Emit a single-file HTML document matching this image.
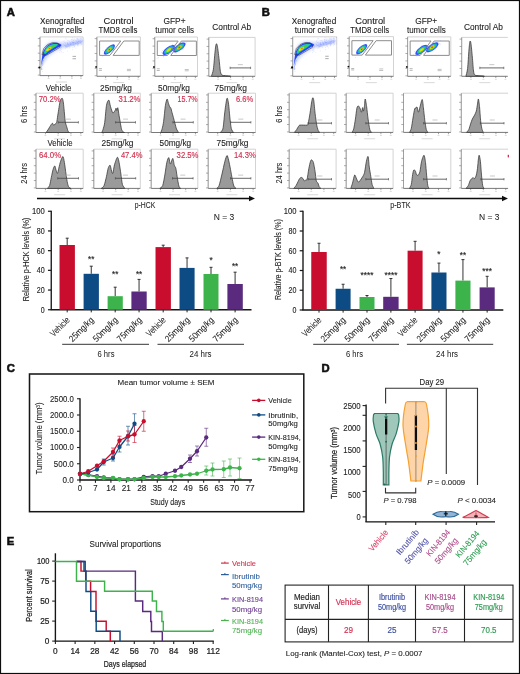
<!DOCTYPE html>
<html><head><meta charset="utf-8"><style>
html,body{margin:0;padding:0;background:#fff;}
svg{display:block;}
text{font-family:"Liberation Sans", sans-serif;}
</style></head><body>
<svg width="520" height="674" viewBox="0 0 520 674">
<defs><filter id="soft" x="0" y="0" width="100%" height="100%"><feGaussianBlur stdDeviation="0.3"/></filter></defs><g filter="url(#soft)"><rect x="0.50" y="0.50" width="519.00" height="673.00" fill="none" stroke="#111" stroke-width="1.2"/>
<text x="6.80" y="15.80" font-size="11.24" text-anchor="start" fill="#111" stroke="#111" stroke-width="0.6" font-weight="bold">A</text>
<text x="261.80" y="15.80" font-size="11.24" text-anchor="start" fill="#111" stroke="#111" stroke-width="0.6" font-weight="bold">B</text>
<text x="6.80" y="372.20" font-size="11.24" text-anchor="start" fill="#111" stroke="#111" stroke-width="0.6" font-weight="bold">C</text>
<text x="321.40" y="371.80" font-size="11.24" text-anchor="start" fill="#111" stroke="#111" stroke-width="0.6" font-weight="bold">D</text>
<text x="6.80" y="544.60" font-size="11.24" text-anchor="start" fill="#111" stroke="#111" stroke-width="0.6" font-weight="bold">E</text>
<defs>
<filter id="bl1" x="-50%" y="-50%" width="200%" height="200%"><feGaussianBlur stdDeviation="0.9"/></filter>
<filter id="bl2" x="-50%" y="-50%" width="200%" height="200%"><feGaussianBlur stdDeviation="1.6"/></filter>
<filter id="bl05" x="-50%" y="-50%" width="200%" height="200%"><feGaussianBlur stdDeviation="0.5"/></filter>
</defs>
<path d="M40.00,75.60 L40.00,36.90 L83.10,36.90 L83.10,75.60" fill="none" stroke="#c8c8c8" stroke-width="0.8"/>
<line x1="40.00" y1="75.60" x2="83.10" y2="75.60" stroke="#555" stroke-width="0.8"/>
<line x1="40.00" y1="36.90" x2="40.00" y2="75.60" stroke="#888" stroke-width="0.7"/>
<line x1="37.80" y1="75.10" x2="40.00" y2="75.10" stroke="#777" stroke-width="0.6"/>
<line x1="37.80" y1="67.80" x2="40.00" y2="67.80" stroke="#777" stroke-width="0.6"/>
<line x1="37.80" y1="60.50" x2="40.00" y2="60.50" stroke="#777" stroke-width="0.6"/>
<line x1="37.80" y1="53.19" x2="40.00" y2="53.19" stroke="#777" stroke-width="0.6"/>
<line x1="37.80" y1="45.89" x2="40.00" y2="45.89" stroke="#777" stroke-width="0.6"/>
<line x1="37.80" y1="38.59" x2="40.00" y2="38.59" stroke="#777" stroke-width="0.6"/>
<line x1="48.62" y1="75.60" x2="48.62" y2="77.40" stroke="#666" stroke-width="0.6"/>
<rect x="47.62" y="78.20" width="2.00" height="0.70" fill="#d0d0d0" stroke="none" stroke-width="1"/>
<line x1="60.26" y1="75.60" x2="60.26" y2="77.40" stroke="#666" stroke-width="0.6"/>
<rect x="59.26" y="78.20" width="2.00" height="0.70" fill="#d0d0d0" stroke="none" stroke-width="1"/>
<line x1="71.89" y1="75.60" x2="71.89" y2="77.40" stroke="#666" stroke-width="0.6"/>
<rect x="70.89" y="78.20" width="2.00" height="0.70" fill="#d0d0d0" stroke="none" stroke-width="1"/>
<line x1="80.94" y1="75.60" x2="80.94" y2="77.40" stroke="#666" stroke-width="0.6"/>
<rect x="79.94" y="78.20" width="2.00" height="0.70" fill="#d0d0d0" stroke="none" stroke-width="1"/>
<rect x="56.05" y="81.60" width="11.00" height="0.80" fill="#d0d0d0" stroke="none" stroke-width="1"/>
<circle cx="61.09" cy="49.26" r="0.4" fill="#6d86ff" opacity="0.4"/><circle cx="42.18" cy="65.82" r="0.4" fill="#6d86ff" opacity="0.4"/><circle cx="41.55" cy="66.79" r="0.4" fill="#6d86ff" opacity="0.4"/><circle cx="64.17" cy="45.74" r="0.4" fill="#6d86ff" opacity="0.4"/><circle cx="63.63" cy="44.15" r="0.4" fill="#6d86ff" opacity="0.4"/><circle cx="43.89" cy="56.25" r="0.4" fill="#6d86ff" opacity="0.4"/><circle cx="65.23" cy="48.32" r="0.4" fill="#6d86ff" opacity="0.4"/><circle cx="41.66" cy="66.77" r="0.4" fill="#6d86ff" opacity="0.4"/><circle cx="42.47" cy="62.79" r="0.4" fill="#6d86ff" opacity="0.4"/><circle cx="77.53" cy="45.09" r="0.4" fill="#6d86ff" opacity="0.4"/><circle cx="69.31" cy="45.85" r="0.4" fill="#6d86ff" opacity="0.4"/><circle cx="41.87" cy="66.80" r="0.4" fill="#6d86ff" opacity="0.4"/><circle cx="70.87" cy="44.13" r="0.4" fill="#6d86ff" opacity="0.4"/><circle cx="67.58" cy="44.59" r="0.4" fill="#6d86ff" opacity="0.4"/><circle cx="75.60" cy="40.32" r="0.4" fill="#6d86ff" opacity="0.4"/><circle cx="65.39" cy="43.21" r="0.4" fill="#6d86ff" opacity="0.4"/><circle cx="72.73" cy="49.79" r="0.4" fill="#6d86ff" opacity="0.4"/><circle cx="42.94" cy="64.43" r="0.4" fill="#6d86ff" opacity="0.4"/><circle cx="42.24" cy="61.81" r="0.4" fill="#6d86ff" opacity="0.4"/><circle cx="71.80" cy="39.87" r="0.4" fill="#6d86ff" opacity="0.4"/><circle cx="77.83" cy="45.16" r="0.4" fill="#6d86ff" opacity="0.4"/><circle cx="67.64" cy="42.50" r="0.4" fill="#6d86ff" opacity="0.4"/><circle cx="79.11" cy="40.77" r="0.4" fill="#6d86ff" opacity="0.4"/><circle cx="73.65" cy="44.78" r="0.4" fill="#6d86ff" opacity="0.4"/><circle cx="73.69" cy="43.22" r="0.4" fill="#6d86ff" opacity="0.4"/><circle cx="43.88" cy="55.70" r="0.4" fill="#6d86ff" opacity="0.4"/><circle cx="41.54" cy="68.84" r="0.4" fill="#6d86ff" opacity="0.4"/><circle cx="43.03" cy="64.27" r="0.4" fill="#6d86ff" opacity="0.4"/><circle cx="41.86" cy="64.00" r="0.4" fill="#6d86ff" opacity="0.4"/><circle cx="80.02" cy="42.88" r="0.4" fill="#6d86ff" opacity="0.4"/><circle cx="69.61" cy="41.04" r="0.4" fill="#6d86ff" opacity="0.4"/><circle cx="78.06" cy="44.22" r="0.4" fill="#6d86ff" opacity="0.4"/><circle cx="63.83" cy="41.55" r="0.4" fill="#6d86ff" opacity="0.4"/><circle cx="42.27" cy="62.50" r="0.4" fill="#6d86ff" opacity="0.4"/><circle cx="43.67" cy="57.58" r="0.4" fill="#6d86ff" opacity="0.4"/><circle cx="43.66" cy="55.91" r="0.4" fill="#6d86ff" opacity="0.4"/><circle cx="57.98" cy="43.20" r="0.4" fill="#6d86ff" opacity="0.4"/><circle cx="70.32" cy="42.70" r="0.4" fill="#6d86ff" opacity="0.4"/><circle cx="74.93" cy="45.03" r="0.4" fill="#6d86ff" opacity="0.4"/><circle cx="77.35" cy="38.99" r="0.4" fill="#6d86ff" opacity="0.4"/><circle cx="61.60" cy="46.33" r="0.4" fill="#6d86ff" opacity="0.4"/><circle cx="70.98" cy="43.90" r="0.4" fill="#6d86ff" opacity="0.4"/><circle cx="42.81" cy="59.54" r="0.4" fill="#6d86ff" opacity="0.4"/><circle cx="41.74" cy="67.10" r="0.4" fill="#6d86ff" opacity="0.4"/><circle cx="41.76" cy="64.66" r="0.4" fill="#6d86ff" opacity="0.4"/><circle cx="78.05" cy="40.51" r="0.4" fill="#6d86ff" opacity="0.4"/><circle cx="43.19" cy="57.23" r="0.4" fill="#6d86ff" opacity="0.4"/><circle cx="43.27" cy="60.78" r="0.4" fill="#6d86ff" opacity="0.4"/><circle cx="64.06" cy="45.09" r="0.4" fill="#6d86ff" opacity="0.4"/><circle cx="41.99" cy="65.11" r="0.4" fill="#6d86ff" opacity="0.4"/><circle cx="77.30" cy="42.34" r="0.4" fill="#6d86ff" opacity="0.4"/><circle cx="80.49" cy="40.56" r="0.4" fill="#6d86ff" opacity="0.4"/><circle cx="69.15" cy="44.85" r="0.4" fill="#6d86ff" opacity="0.4"/><circle cx="43.14" cy="56.42" r="0.4" fill="#6d86ff" opacity="0.4"/><circle cx="72.63" cy="41.44" r="0.4" fill="#6d86ff" opacity="0.4"/><circle cx="60.48" cy="50.83" r="0.4" fill="#6d86ff" opacity="0.4"/><circle cx="76.70" cy="40.10" r="0.4" fill="#6d86ff" opacity="0.4"/><circle cx="66.24" cy="45.03" r="0.4" fill="#6d86ff" opacity="0.4"/><circle cx="41.22" cy="69.17" r="0.4" fill="#6d86ff" opacity="0.4"/><circle cx="74.03" cy="42.27" r="0.4" fill="#6d86ff" opacity="0.4"/><circle cx="61.41" cy="47.68" r="0.4" fill="#6d86ff" opacity="0.4"/><circle cx="42.66" cy="60.75" r="0.4" fill="#6d86ff" opacity="0.4"/><circle cx="80.50" cy="38.75" r="0.4" fill="#6d86ff" opacity="0.4"/><circle cx="71.30" cy="42.33" r="0.4" fill="#6d86ff" opacity="0.4"/><circle cx="73.57" cy="40.87" r="0.4" fill="#6d86ff" opacity="0.4"/><circle cx="73.50" cy="42.77" r="0.4" fill="#6d86ff" opacity="0.4"/><circle cx="74.44" cy="46.26" r="0.4" fill="#6d86ff" opacity="0.4"/><circle cx="80.82" cy="42.25" r="0.4" fill="#6d86ff" opacity="0.4"/><circle cx="81.03" cy="39.29" r="0.4" fill="#6d86ff" opacity="0.4"/><circle cx="42.84" cy="64.89" r="0.4" fill="#6d86ff" opacity="0.4"/><circle cx="78.07" cy="45.93" r="0.4" fill="#6d86ff" opacity="0.4"/><circle cx="81.56" cy="38.55" r="0.4" fill="#6d86ff" opacity="0.4"/><circle cx="67.70" cy="44.59" r="0.4" fill="#6d86ff" opacity="0.4"/><circle cx="80.92" cy="38.08" r="0.4" fill="#6d86ff" opacity="0.4"/><circle cx="77.94" cy="43.10" r="0.4" fill="#6d86ff" opacity="0.4"/><circle cx="77.32" cy="43.81" r="0.4" fill="#6d86ff" opacity="0.4"/><circle cx="43.11" cy="55.60" r="0.4" fill="#6d86ff" opacity="0.4"/><circle cx="43.17" cy="56.33" r="0.4" fill="#6d86ff" opacity="0.4"/><circle cx="78.91" cy="43.46" r="0.4" fill="#6d86ff" opacity="0.4"/><circle cx="70.01" cy="42.43" r="0.4" fill="#6d86ff" opacity="0.4"/><circle cx="78.33" cy="41.07" r="0.4" fill="#6d86ff" opacity="0.4"/><circle cx="68.27" cy="44.81" r="0.4" fill="#6d86ff" opacity="0.4"/><circle cx="43.68" cy="60.18" r="0.4" fill="#6d86ff" opacity="0.4"/><circle cx="43.43" cy="60.97" r="0.4" fill="#6d86ff" opacity="0.4"/><circle cx="66.96" cy="46.99" r="0.4" fill="#6d86ff" opacity="0.4"/><circle cx="67.91" cy="43.01" r="0.4" fill="#6d86ff" opacity="0.4"/><circle cx="67.94" cy="46.26" r="0.4" fill="#6d86ff" opacity="0.4"/><circle cx="73.27" cy="42.19" r="0.4" fill="#6d86ff" opacity="0.4"/><circle cx="76.16" cy="40.99" r="0.4" fill="#6d86ff" opacity="0.4"/><circle cx="67.92" cy="43.61" r="0.4" fill="#6d86ff" opacity="0.4"/><circle cx="70.70" cy="43.98" r="0.4" fill="#6d86ff" opacity="0.4"/><circle cx="67.27" cy="43.43" r="0.4" fill="#6d86ff" opacity="0.4"/><circle cx="79.85" cy="40.74" r="0.4" fill="#6d86ff" opacity="0.4"/><circle cx="70.59" cy="42.44" r="0.4" fill="#6d86ff" opacity="0.4"/><circle cx="42.53" cy="63.33" r="0.4" fill="#6d86ff" opacity="0.4"/><circle cx="41.45" cy="66.42" r="0.4" fill="#6d86ff" opacity="0.4"/><circle cx="72.34" cy="37.81" r="0.4" fill="#6d86ff" opacity="0.4"/><circle cx="42.28" cy="60.23" r="0.4" fill="#6d86ff" opacity="0.4"/><circle cx="43.50" cy="60.52" r="0.4" fill="#6d86ff" opacity="0.4"/><circle cx="43.28" cy="57.89" r="0.4" fill="#6d86ff" opacity="0.4"/><circle cx="68.25" cy="44.48" r="0.4" fill="#6d86ff" opacity="0.4"/><circle cx="42.96" cy="61.79" r="0.4" fill="#6d86ff" opacity="0.4"/><circle cx="60.78" cy="48.21" r="0.4" fill="#6d86ff" opacity="0.4"/><circle cx="75.37" cy="43.19" r="0.4" fill="#6d86ff" opacity="0.4"/><circle cx="65.15" cy="45.46" r="0.4" fill="#6d86ff" opacity="0.4"/><circle cx="69.56" cy="43.55" r="0.4" fill="#6d86ff" opacity="0.4"/><circle cx="41.69" cy="64.59" r="0.4" fill="#6d86ff" opacity="0.4"/><circle cx="75.32" cy="43.65" r="0.4" fill="#6d86ff" opacity="0.4"/><circle cx="65.55" cy="42.81" r="0.4" fill="#6d86ff" opacity="0.4"/><circle cx="43.86" cy="57.92" r="0.4" fill="#6d86ff" opacity="0.4"/><circle cx="68.08" cy="43.01" r="0.4" fill="#6d86ff" opacity="0.4"/><circle cx="41.64" cy="65.86" r="0.4" fill="#6d86ff" opacity="0.4"/><circle cx="42.48" cy="65.50" r="0.4" fill="#6d86ff" opacity="0.4"/><circle cx="78.75" cy="44.67" r="0.4" fill="#6d86ff" opacity="0.4"/><circle cx="41.96" cy="65.51" r="0.4" fill="#6d86ff" opacity="0.4"/><circle cx="57.10" cy="44.12" r="0.4" fill="#6d86ff" opacity="0.4"/><circle cx="43.54" cy="56.50" r="0.4" fill="#6d86ff" opacity="0.4"/><circle cx="43.02" cy="57.56" r="0.4" fill="#6d86ff" opacity="0.4"/><circle cx="41.48" cy="68.04" r="0.4" fill="#6d86ff" opacity="0.4"/><circle cx="59.25" cy="44.21" r="0.4" fill="#6d86ff" opacity="0.4"/><circle cx="66.47" cy="46.84" r="0.4" fill="#6d86ff" opacity="0.4"/><circle cx="41.03" cy="69.11" r="0.4" fill="#6d86ff" opacity="0.4"/><circle cx="72.93" cy="42.16" r="0.4" fill="#6d86ff" opacity="0.4"/><circle cx="65.64" cy="44.41" r="0.4" fill="#6d86ff" opacity="0.4"/><circle cx="75.19" cy="43.21" r="0.4" fill="#6d86ff" opacity="0.4"/><circle cx="75.93" cy="43.74" r="0.4" fill="#6d86ff" opacity="0.4"/><circle cx="73.66" cy="42.81" r="0.4" fill="#6d86ff" opacity="0.4"/><circle cx="76.68" cy="38.28" r="0.4" fill="#6d86ff" opacity="0.4"/><circle cx="62.30" cy="46.21" r="0.4" fill="#6d86ff" opacity="0.4"/><circle cx="43.04" cy="63.68" r="0.4" fill="#6d86ff" opacity="0.4"/><circle cx="42.95" cy="56.63" r="0.4" fill="#6d86ff" opacity="0.4"/><circle cx="79.09" cy="38.95" r="0.4" fill="#6d86ff" opacity="0.4"/><circle cx="43.00" cy="55.70" r="0.4" fill="#6d86ff" opacity="0.4"/><circle cx="65.36" cy="47.39" r="0.4" fill="#6d86ff" opacity="0.4"/><circle cx="44.91" cy="55.22" r="0.4" fill="#6d86ff" opacity="0.4"/><circle cx="67.61" cy="51.03" r="0.4" fill="#6d86ff" opacity="0.4"/><circle cx="59.28" cy="46.41" r="0.4" fill="#6d86ff" opacity="0.4"/><circle cx="60.05" cy="46.19" r="0.4" fill="#6d86ff" opacity="0.4"/><circle cx="42.45" cy="59.18" r="0.4" fill="#6d86ff" opacity="0.4"/><circle cx="43.52" cy="56.35" r="0.4" fill="#6d86ff" opacity="0.4"/><circle cx="41.88" cy="67.80" r="0.4" fill="#6d86ff" opacity="0.4"/><circle cx="43.45" cy="56.85" r="0.4" fill="#6d86ff" opacity="0.4"/><circle cx="73.14" cy="39.09" r="0.4" fill="#6d86ff" opacity="0.4"/><circle cx="77.83" cy="42.91" r="0.4" fill="#6d86ff" opacity="0.4"/><circle cx="73.51" cy="44.80" r="0.4" fill="#6d86ff" opacity="0.4"/><circle cx="77.59" cy="38.29" r="0.4" fill="#6d86ff" opacity="0.4"/><circle cx="77.73" cy="44.44" r="0.4" fill="#6d86ff" opacity="0.4"/><circle cx="67.39" cy="40.60" r="0.4" fill="#6d86ff" opacity="0.4"/><circle cx="74.31" cy="39.12" r="0.4" fill="#6d86ff" opacity="0.4"/><circle cx="71.75" cy="41.36" r="0.4" fill="#6d86ff" opacity="0.4"/><circle cx="41.64" cy="68.94" r="0.4" fill="#6d86ff" opacity="0.4"/><circle cx="42.19" cy="63.21" r="0.4" fill="#6d86ff" opacity="0.4"/><circle cx="68.65" cy="40.79" r="0.4" fill="#6d86ff" opacity="0.4"/><circle cx="68.17" cy="44.87" r="0.4" fill="#6d86ff" opacity="0.4"/><circle cx="72.51" cy="42.50" r="0.4" fill="#6d86ff" opacity="0.4"/><circle cx="73.56" cy="45.03" r="0.4" fill="#6d86ff" opacity="0.4"/><circle cx="43.31" cy="56.80" r="0.4" fill="#6d86ff" opacity="0.4"/><circle cx="74.40" cy="46.82" r="0.4" fill="#6d86ff" opacity="0.4"/><circle cx="80.70" cy="40.71" r="0.4" fill="#6d86ff" opacity="0.4"/><circle cx="64.10" cy="40.81" r="0.4" fill="#6d86ff" opacity="0.4"/><circle cx="69.49" cy="42.87" r="0.4" fill="#6d86ff" opacity="0.4"/><circle cx="42.01" cy="63.69" r="0.4" fill="#6d86ff" opacity="0.4"/><circle cx="58.94" cy="46.19" r="0.4" fill="#6d86ff" opacity="0.4"/><circle cx="41.49" cy="68.15" r="0.4" fill="#6d86ff" opacity="0.4"/><circle cx="71.89" cy="41.11" r="0.4" fill="#6d86ff" opacity="0.4"/><circle cx="64.78" cy="45.19" r="0.4" fill="#6d86ff" opacity="0.4"/><circle cx="42.19" cy="63.17" r="0.4" fill="#6d86ff" opacity="0.4"/><circle cx="82.51" cy="40.40" r="0.4" fill="#6d86ff" opacity="0.4"/><circle cx="66.12" cy="38.86" r="0.4" fill="#6d86ff" opacity="0.4"/><circle cx="64.00" cy="46.89" r="0.4" fill="#6d86ff" opacity="0.4"/><circle cx="81.62" cy="44.19" r="0.4" fill="#6d86ff" opacity="0.4"/><circle cx="43.89" cy="61.97" r="0.4" fill="#6d86ff" opacity="0.4"/><circle cx="42.28" cy="61.75" r="0.4" fill="#6d86ff" opacity="0.4"/><circle cx="78.81" cy="39.56" r="0.4" fill="#6d86ff" opacity="0.4"/><circle cx="79.16" cy="41.33" r="0.4" fill="#6d86ff" opacity="0.4"/><circle cx="41.80" cy="69.77" r="0.4" fill="#6d86ff" opacity="0.4"/><circle cx="59.94" cy="48.23" r="0.4" fill="#6d86ff" opacity="0.4"/><circle cx="59.60" cy="46.13" r="0.4" fill="#6d86ff" opacity="0.4"/><circle cx="74.86" cy="41.42" r="0.4" fill="#6d86ff" opacity="0.4"/><circle cx="43.58" cy="55.16" r="0.4" fill="#6d86ff" opacity="0.4"/><circle cx="81.76" cy="39.10" r="0.4" fill="#6d86ff" opacity="0.4"/><circle cx="63.32" cy="46.11" r="0.4" fill="#6d86ff" opacity="0.4"/><circle cx="41.98" cy="63.77" r="0.4" fill="#6d86ff" opacity="0.4"/><circle cx="80.80" cy="43.00" r="0.4" fill="#6d86ff" opacity="0.4"/><circle cx="66.77" cy="46.93" r="0.4" fill="#6d86ff" opacity="0.4"/><circle cx="73.40" cy="40.37" r="0.4" fill="#6d86ff" opacity="0.4"/><circle cx="67.45" cy="43.45" r="0.4" fill="#6d86ff" opacity="0.4"/><circle cx="71.43" cy="44.01" r="0.4" fill="#6d86ff" opacity="0.4"/><circle cx="70.70" cy="44.25" r="0.4" fill="#6d86ff" opacity="0.4"/><circle cx="81.67" cy="43.14" r="0.4" fill="#6d86ff" opacity="0.4"/><circle cx="59.77" cy="50.10" r="0.4" fill="#6d86ff" opacity="0.4"/><circle cx="82.05" cy="44.39" r="0.4" fill="#6d86ff" opacity="0.4"/><circle cx="57.62" cy="45.48" r="0.4" fill="#6d86ff" opacity="0.4"/><circle cx="42.41" cy="61.56" r="0.4" fill="#6d86ff" opacity="0.4"/><circle cx="78.72" cy="41.24" r="0.4" fill="#6d86ff" opacity="0.4"/><circle cx="81.43" cy="41.14" r="0.4" fill="#6d86ff" opacity="0.4"/><circle cx="42.05" cy="62.86" r="0.4" fill="#6d86ff" opacity="0.4"/><circle cx="61.37" cy="47.08" r="0.4" fill="#6d86ff" opacity="0.4"/><circle cx="44.31" cy="55.24" r="0.4" fill="#6d86ff" opacity="0.4"/><circle cx="73.09" cy="43.95" r="0.4" fill="#6d86ff" opacity="0.4"/><circle cx="65.71" cy="46.13" r="0.4" fill="#6d86ff" opacity="0.4"/><circle cx="41.72" cy="69.17" r="0.4" fill="#6d86ff" opacity="0.4"/><circle cx="42.95" cy="63.16" r="0.4" fill="#6d86ff" opacity="0.4"/><circle cx="78.55" cy="43.60" r="0.4" fill="#6d86ff" opacity="0.4"/><circle cx="43.42" cy="57.29" r="0.4" fill="#6d86ff" opacity="0.4"/><circle cx="42.29" cy="69.05" r="0.4" fill="#6d86ff" opacity="0.4"/><circle cx="77.46" cy="41.87" r="0.4" fill="#6d86ff" opacity="0.4"/><circle cx="42.32" cy="71.33" r="0.4" fill="#6d86ff" opacity="0.4"/><circle cx="43.08" cy="57.01" r="0.4" fill="#6d86ff" opacity="0.4"/><circle cx="65.14" cy="38.85" r="0.4" fill="#6d86ff" opacity="0.4"/><circle cx="71.93" cy="39.25" r="0.4" fill="#6d86ff" opacity="0.4"/><circle cx="63.99" cy="44.82" r="0.4" fill="#6d86ff" opacity="0.4"/><circle cx="75.90" cy="48.07" r="0.4" fill="#6d86ff" opacity="0.4"/><circle cx="70.59" cy="44.72" r="0.4" fill="#6d86ff" opacity="0.4"/><circle cx="43.56" cy="55.30" r="0.4" fill="#6d86ff" opacity="0.4"/><circle cx="42.60" cy="64.44" r="0.4" fill="#6d86ff" opacity="0.4"/><circle cx="67.89" cy="45.17" r="0.4" fill="#6d86ff" opacity="0.4"/><circle cx="70.59" cy="43.96" r="0.4" fill="#6d86ff" opacity="0.4"/><circle cx="66.60" cy="44.07" r="0.4" fill="#6d86ff" opacity="0.4"/><circle cx="77.93" cy="41.69" r="0.4" fill="#6d86ff" opacity="0.4"/><circle cx="43.92" cy="56.34" r="0.4" fill="#6d86ff" opacity="0.4"/><circle cx="61.00" cy="46.75" r="0.4" fill="#6d86ff" opacity="0.4"/><circle cx="70.82" cy="44.16" r="0.4" fill="#6d86ff" opacity="0.4"/><circle cx="72.55" cy="42.41" r="0.4" fill="#6d86ff" opacity="0.4"/><circle cx="41.59" cy="68.97" r="0.4" fill="#6d86ff" opacity="0.4"/><circle cx="72.98" cy="47.52" r="0.4" fill="#6d86ff" opacity="0.4"/><circle cx="73.04" cy="42.58" r="0.4" fill="#6d86ff" opacity="0.4"/><circle cx="80.92" cy="45.12" r="0.4" fill="#6d86ff" opacity="0.4"/><circle cx="42.83" cy="59.25" r="0.4" fill="#6d86ff" opacity="0.4"/><circle cx="43.96" cy="53.82" r="0.4" fill="#6d86ff" opacity="0.4"/><circle cx="42.41" cy="60.93" r="0.4" fill="#6d86ff" opacity="0.4"/><circle cx="72.32" cy="42.81" r="0.4" fill="#6d86ff" opacity="0.4"/><circle cx="63.14" cy="52.44" r="0.4" fill="#6d86ff" opacity="0.4"/><circle cx="42.21" cy="62.44" r="0.4" fill="#6d86ff" opacity="0.4"/><circle cx="64.70" cy="42.38" r="0.4" fill="#6d86ff" opacity="0.4"/><circle cx="77.31" cy="42.60" r="0.4" fill="#6d86ff" opacity="0.4"/><circle cx="61.39" cy="51.75" r="0.4" fill="#6d86ff" opacity="0.4"/><circle cx="76.47" cy="43.34" r="0.4" fill="#6d86ff" opacity="0.4"/><circle cx="60.75" cy="47.39" r="0.4" fill="#6d86ff" opacity="0.4"/><circle cx="42.79" cy="60.89" r="0.4" fill="#6d86ff" opacity="0.4"/><circle cx="61.51" cy="45.59" r="0.4" fill="#6d86ff" opacity="0.4"/><circle cx="82.15" cy="43.06" r="0.4" fill="#6d86ff" opacity="0.4"/><circle cx="77.58" cy="39.44" r="0.4" fill="#6d86ff" opacity="0.4"/><circle cx="42.02" cy="67.43" r="0.4" fill="#6d86ff" opacity="0.4"/><circle cx="80.74" cy="43.41" r="0.4" fill="#6d86ff" opacity="0.4"/><circle cx="80.98" cy="41.79" r="0.4" fill="#6d86ff" opacity="0.4"/><circle cx="76.59" cy="41.27" r="0.4" fill="#6d86ff" opacity="0.4"/><circle cx="42.82" cy="68.90" r="0.4" fill="#6d86ff" opacity="0.4"/><circle cx="42.81" cy="54.05" r="0.4" fill="#6d86ff" opacity="0.4"/><circle cx="59.81" cy="52.54" r="0.4" fill="#6d86ff" opacity="0.4"/><circle cx="69.69" cy="47.80" r="0.4" fill="#6d86ff" opacity="0.4"/>
<g filter="url(#bl2)">
<path d="M40.80,62.90 C40.97,61.50 41.27,55.42 42.00,52.90 C42.73,50.38 44.46,46.51 46.00,44.90 C47.54,43.29 50.76,41.75 53.00,41.40 C55.24,41.05 59.34,42.47 62.00,42.40 C64.66,42.33 69.20,41.32 72.00,40.90 C74.80,40.48 80.60,39.12 82.00,39.40 C83.40,39.68 83.68,41.99 82.00,42.90 C80.32,43.81 73.08,45.06 70.00,45.90 C66.92,46.74 62.94,47.50 60.00,48.90 C57.06,50.30 51.38,53.80 49.00,55.90 C46.62,58.00 43.84,62.78 43.00,63.90 Z" fill="#8aa0ff" stroke="none" stroke-width="1" opacity="0.45"/>
</g>
<g filter="url(#bl05)">
<path d="M41.00,65.90 C41.10,65.06 41.39,61.86 41.70,59.90 C42.01,57.94 42.43,53.89 43.20,51.90 C43.97,49.91 45.83,46.96 47.20,45.70 C48.57,44.44 51.49,43.29 53.00,42.90 C54.51,42.51 56.81,42.58 58.00,42.90 C59.19,43.22 61.78,44.39 61.50,45.20 C61.22,46.01 57.82,47.55 56.00,48.70 C54.18,49.85 50.07,52.32 48.50,53.40 C46.93,54.48 45.65,55.42 44.80,56.40 C43.95,57.38 42.74,59.84 42.40,60.40 Z" fill="#2346ff" stroke="none" stroke-width="1"/>
<path d="M64.00,45.50 C64.84,45.21 68.32,43.93 70.00,43.40 C71.68,42.87 74.32,42.12 76.00,41.70 C77.68,41.28 81.16,40.30 82.00,40.40 C82.84,40.50 83.12,41.70 82.00,42.40 C80.88,43.10 76.24,44.70 74.00,45.40 C71.76,46.10 67.12,47.12 66.00,47.40 Z" fill="#7f95ff" stroke="none" stroke-width="1" opacity="0.35"/>
</g>
<g filter="url(#bl05)">
<path d="M43.80,52.90 C44.22,52.09 45.58,48.30 46.80,47.10 C48.02,45.90 50.93,44.68 52.50,44.30 C54.07,43.92 57.65,44.01 58.00,44.40 C58.35,44.79 56.40,46.08 55.00,47.10 C53.60,48.12 49.37,50.72 48.00,51.70 C46.63,52.68 45.59,53.76 45.20,54.10 Z" fill="#22c8a0" stroke="none" stroke-width="1"/>
<path d="M44.80,51.90 C45.28,51.31 47.05,48.58 48.20,47.70 C49.35,46.82 51.91,45.88 53.00,45.60 C54.09,45.32 56.14,45.35 56.00,45.70 C55.86,46.05 53.26,47.30 52.00,48.10 C50.74,48.90 47.70,50.94 47.00,51.40 Z" fill="#50d030" stroke="none" stroke-width="1"/>
<ellipse cx="48.80" cy="48.90" rx="3.2" ry="1.2" transform="rotate(-33 48.80 48.90)" fill="#f0d800"/>
<ellipse cx="49.50" cy="48.40" rx="1.3" ry="0.6" transform="rotate(-33 49.50 48.40)" fill="#f07800"/>
</g>
<path d="M42.00,54.70 L43.70,48.50 L47.50,44.60 L52.30,42.70 L57.60,43.20 L60.00,46.10 L59.60,47.50 L46.60,55.20 Z" fill="none" stroke="#333" stroke-width="0.6" stroke-linejoin="round"/>
<rect x="72.50" y="55.90" width="3.50" height="0.80" fill="#999" stroke="none" stroke-width="1"/>
<rect x="72.50" y="58.40" width="3.50" height="0.80" fill="#999" stroke="none" stroke-width="1"/>
<circle cx="39.40" cy="67.50" r="1.1" fill="#111"/>
<path d="M96.90,76.25 L96.90,36.90 L140.40,36.90 L140.40,76.25" fill="none" stroke="#c8c8c8" stroke-width="0.8"/>
<line x1="96.90" y1="76.25" x2="140.40" y2="76.25" stroke="#555" stroke-width="0.8"/>
<line x1="96.90" y1="36.90" x2="96.90" y2="76.25" stroke="#888" stroke-width="0.7"/>
<line x1="94.70" y1="75.75" x2="96.90" y2="75.75" stroke="#777" stroke-width="0.6"/>
<line x1="94.70" y1="68.33" x2="96.90" y2="68.33" stroke="#777" stroke-width="0.6"/>
<line x1="94.70" y1="60.90" x2="96.90" y2="60.90" stroke="#777" stroke-width="0.6"/>
<line x1="94.70" y1="53.48" x2="96.90" y2="53.48" stroke="#777" stroke-width="0.6"/>
<line x1="94.70" y1="46.05" x2="96.90" y2="46.05" stroke="#777" stroke-width="0.6"/>
<line x1="94.70" y1="38.63" x2="96.90" y2="38.63" stroke="#777" stroke-width="0.6"/>
<line x1="105.60" y1="76.25" x2="105.60" y2="78.05" stroke="#666" stroke-width="0.6"/>
<rect x="104.60" y="78.85" width="2.00" height="0.70" fill="#d0d0d0" stroke="none" stroke-width="1"/>
<line x1="117.34" y1="76.25" x2="117.34" y2="78.05" stroke="#666" stroke-width="0.6"/>
<rect x="116.34" y="78.85" width="2.00" height="0.70" fill="#d0d0d0" stroke="none" stroke-width="1"/>
<line x1="129.09" y1="76.25" x2="129.09" y2="78.05" stroke="#666" stroke-width="0.6"/>
<rect x="128.09" y="78.85" width="2.00" height="0.70" fill="#d0d0d0" stroke="none" stroke-width="1"/>
<line x1="138.22" y1="76.25" x2="138.22" y2="78.05" stroke="#666" stroke-width="0.6"/>
<rect x="137.22" y="78.85" width="2.00" height="0.70" fill="#d0d0d0" stroke="none" stroke-width="1"/>
<rect x="113.15" y="82.25" width="11.00" height="0.80" fill="#d0d0d0" stroke="none" stroke-width="1"/>
<circle cx="104.88" cy="52.78" r="0.4" fill="#4060ff" opacity="0.45"/><circle cx="107.99" cy="52.50" r="0.4" fill="#4060ff" opacity="0.45"/><circle cx="111.22" cy="46.98" r="0.4" fill="#4060ff" opacity="0.45"/><circle cx="106.52" cy="54.34" r="0.4" fill="#4060ff" opacity="0.45"/><circle cx="112.67" cy="46.21" r="0.4" fill="#4060ff" opacity="0.45"/><circle cx="109.70" cy="51.62" r="0.4" fill="#4060ff" opacity="0.45"/><circle cx="107.67" cy="51.22" r="0.4" fill="#4060ff" opacity="0.45"/><circle cx="108.21" cy="48.80" r="0.4" fill="#4060ff" opacity="0.45"/><circle cx="111.98" cy="48.28" r="0.4" fill="#4060ff" opacity="0.45"/><circle cx="114.64" cy="48.89" r="0.4" fill="#4060ff" opacity="0.45"/><circle cx="105.54" cy="50.51" r="0.4" fill="#4060ff" opacity="0.45"/><circle cx="109.39" cy="48.81" r="0.4" fill="#4060ff" opacity="0.45"/><circle cx="109.36" cy="50.73" r="0.4" fill="#4060ff" opacity="0.45"/><circle cx="110.09" cy="49.10" r="0.4" fill="#4060ff" opacity="0.45"/><circle cx="104.16" cy="53.55" r="0.4" fill="#4060ff" opacity="0.45"/><circle cx="107.32" cy="51.44" r="0.4" fill="#4060ff" opacity="0.45"/><circle cx="107.92" cy="51.94" r="0.4" fill="#4060ff" opacity="0.45"/><circle cx="105.97" cy="53.29" r="0.4" fill="#4060ff" opacity="0.45"/><circle cx="108.26" cy="52.10" r="0.4" fill="#4060ff" opacity="0.45"/><circle cx="112.32" cy="45.94" r="0.4" fill="#4060ff" opacity="0.45"/><circle cx="107.33" cy="49.10" r="0.4" fill="#4060ff" opacity="0.45"/><circle cx="107.79" cy="50.09" r="0.4" fill="#4060ff" opacity="0.45"/><circle cx="110.72" cy="47.23" r="0.4" fill="#4060ff" opacity="0.45"/><circle cx="103.90" cy="55.14" r="0.4" fill="#4060ff" opacity="0.45"/><circle cx="109.29" cy="47.96" r="0.4" fill="#4060ff" opacity="0.45"/><circle cx="108.40" cy="46.84" r="0.4" fill="#4060ff" opacity="0.45"/><circle cx="107.25" cy="49.84" r="0.4" fill="#4060ff" opacity="0.45"/><circle cx="109.63" cy="49.91" r="0.4" fill="#4060ff" opacity="0.45"/><circle cx="113.52" cy="49.45" r="0.4" fill="#4060ff" opacity="0.45"/><circle cx="108.85" cy="47.35" r="0.4" fill="#4060ff" opacity="0.45"/><circle cx="107.64" cy="48.61" r="0.4" fill="#4060ff" opacity="0.45"/><circle cx="112.79" cy="47.92" r="0.4" fill="#4060ff" opacity="0.45"/><circle cx="112.47" cy="49.45" r="0.4" fill="#4060ff" opacity="0.45"/><circle cx="112.89" cy="48.25" r="0.4" fill="#4060ff" opacity="0.45"/><circle cx="112.87" cy="48.21" r="0.4" fill="#4060ff" opacity="0.45"/><circle cx="104.43" cy="53.79" r="0.4" fill="#4060ff" opacity="0.45"/><circle cx="111.70" cy="48.14" r="0.4" fill="#4060ff" opacity="0.45"/><circle cx="107.87" cy="50.84" r="0.4" fill="#4060ff" opacity="0.45"/><circle cx="107.00" cy="47.37" r="0.4" fill="#4060ff" opacity="0.45"/><circle cx="103.08" cy="50.32" r="0.4" fill="#4060ff" opacity="0.45"/><circle cx="108.39" cy="49.27" r="0.4" fill="#4060ff" opacity="0.45"/><circle cx="111.41" cy="46.33" r="0.4" fill="#4060ff" opacity="0.45"/><circle cx="102.68" cy="56.05" r="0.4" fill="#4060ff" opacity="0.45"/><circle cx="106.86" cy="53.67" r="0.4" fill="#4060ff" opacity="0.45"/><circle cx="112.12" cy="47.97" r="0.4" fill="#4060ff" opacity="0.45"/><circle cx="113.62" cy="45.12" r="0.4" fill="#4060ff" opacity="0.45"/><circle cx="105.46" cy="52.52" r="0.4" fill="#4060ff" opacity="0.45"/><circle cx="105.51" cy="49.68" r="0.4" fill="#4060ff" opacity="0.45"/><circle cx="111.29" cy="46.73" r="0.4" fill="#4060ff" opacity="0.45"/><circle cx="105.73" cy="51.29" r="0.4" fill="#4060ff" opacity="0.45"/>
<g filter="url(#bl05)">
<ellipse cx="109.40" cy="49.50" rx="7.03" ry="2.85" transform="rotate(-42 109.40 49.50)" fill="#3050ff"/>
<ellipse cx="109.40" cy="49.50" rx="5.32" ry="2.18" transform="rotate(-42 109.40 49.50)" fill="#20a8f0"/>
<ellipse cx="109.40" cy="49.50" rx="4.08" ry="1.71" transform="rotate(-42 109.40 49.50)" fill="#30d060"/>
<ellipse cx="109.40" cy="49.50" rx="2.66" ry="1.14" transform="rotate(-42 109.40 49.50)" fill="#d8e000"/>
<ellipse cx="109.40" cy="49.50" rx="1.33" ry="0.66" transform="rotate(-42 109.40 49.50)" fill="#f05000"/>
</g>
<path d="M99.60,41.00 L120.80,41.00 L109.90,55.40 L99.60,55.40 Z" fill="none" stroke="#808080" stroke-width="0.9"/>
<path d="M123.80,41.00 L139.20,41.00 L139.20,55.40 L113.10,55.40 Z" fill="none" stroke="#808080" stroke-width="0.9"/>
<rect x="98.90" y="68.40" width="3.00" height="0.70" fill="#999" stroke="none" stroke-width="1"/>
<rect x="98.90" y="69.90" width="3.00" height="0.70" fill="#999" stroke="none" stroke-width="1"/>
<rect x="126.90" y="68.90" width="4.00" height="0.70" fill="#aaa" stroke="none" stroke-width="1"/>
<rect x="126.90" y="70.40" width="4.00" height="0.70" fill="#aaa" stroke="none" stroke-width="1"/>
<circle cx="96.10" cy="66.90" r="0.9" fill="#111"/>
<path d="M154.75,76.25 L154.75,37.00 L197.50,37.00 L197.50,76.25" fill="none" stroke="#c8c8c8" stroke-width="0.8"/>
<line x1="154.75" y1="76.25" x2="197.50" y2="76.25" stroke="#555" stroke-width="0.8"/>
<line x1="154.75" y1="37.00" x2="154.75" y2="76.25" stroke="#888" stroke-width="0.7"/>
<line x1="152.55" y1="75.75" x2="154.75" y2="75.75" stroke="#777" stroke-width="0.6"/>
<line x1="152.55" y1="68.34" x2="154.75" y2="68.34" stroke="#777" stroke-width="0.6"/>
<line x1="152.55" y1="60.94" x2="154.75" y2="60.94" stroke="#777" stroke-width="0.6"/>
<line x1="152.55" y1="53.53" x2="154.75" y2="53.53" stroke="#777" stroke-width="0.6"/>
<line x1="152.55" y1="46.13" x2="154.75" y2="46.13" stroke="#777" stroke-width="0.6"/>
<line x1="152.55" y1="38.72" x2="154.75" y2="38.72" stroke="#777" stroke-width="0.6"/>
<line x1="163.30" y1="76.25" x2="163.30" y2="78.05" stroke="#666" stroke-width="0.6"/>
<rect x="162.30" y="78.85" width="2.00" height="0.70" fill="#d0d0d0" stroke="none" stroke-width="1"/>
<line x1="174.84" y1="76.25" x2="174.84" y2="78.05" stroke="#666" stroke-width="0.6"/>
<rect x="173.84" y="78.85" width="2.00" height="0.70" fill="#d0d0d0" stroke="none" stroke-width="1"/>
<line x1="186.38" y1="76.25" x2="186.38" y2="78.05" stroke="#666" stroke-width="0.6"/>
<rect x="185.38" y="78.85" width="2.00" height="0.70" fill="#d0d0d0" stroke="none" stroke-width="1"/>
<line x1="195.36" y1="76.25" x2="195.36" y2="78.05" stroke="#666" stroke-width="0.6"/>
<rect x="194.36" y="78.85" width="2.00" height="0.70" fill="#d0d0d0" stroke="none" stroke-width="1"/>
<rect x="170.62" y="82.25" width="11.00" height="0.80" fill="#d0d0d0" stroke="none" stroke-width="1"/>
<circle cx="167.69" cy="50.11" r="0.4" fill="#4060ff" opacity="0.45"/><circle cx="166.95" cy="52.58" r="0.4" fill="#4060ff" opacity="0.45"/><circle cx="171.78" cy="50.58" r="0.4" fill="#4060ff" opacity="0.45"/><circle cx="172.66" cy="44.76" r="0.4" fill="#4060ff" opacity="0.45"/><circle cx="175.89" cy="45.57" r="0.4" fill="#4060ff" opacity="0.45"/><circle cx="169.81" cy="52.40" r="0.4" fill="#4060ff" opacity="0.45"/><circle cx="167.22" cy="48.88" r="0.4" fill="#4060ff" opacity="0.45"/><circle cx="165.15" cy="50.08" r="0.4" fill="#4060ff" opacity="0.45"/><circle cx="157.22" cy="58.03" r="0.4" fill="#4060ff" opacity="0.45"/><circle cx="170.60" cy="49.48" r="0.4" fill="#4060ff" opacity="0.45"/><circle cx="162.64" cy="50.20" r="0.4" fill="#4060ff" opacity="0.45"/><circle cx="167.67" cy="51.85" r="0.4" fill="#4060ff" opacity="0.45"/><circle cx="168.39" cy="51.67" r="0.4" fill="#4060ff" opacity="0.45"/><circle cx="168.34" cy="48.87" r="0.4" fill="#4060ff" opacity="0.45"/><circle cx="169.38" cy="49.90" r="0.4" fill="#4060ff" opacity="0.45"/><circle cx="166.09" cy="51.38" r="0.4" fill="#4060ff" opacity="0.45"/><circle cx="163.54" cy="56.76" r="0.4" fill="#4060ff" opacity="0.45"/><circle cx="170.09" cy="49.65" r="0.4" fill="#4060ff" opacity="0.45"/><circle cx="172.16" cy="46.74" r="0.4" fill="#4060ff" opacity="0.45"/><circle cx="158.60" cy="57.83" r="0.4" fill="#4060ff" opacity="0.45"/><circle cx="165.63" cy="50.16" r="0.4" fill="#4060ff" opacity="0.45"/><circle cx="168.67" cy="48.65" r="0.4" fill="#4060ff" opacity="0.45"/><circle cx="165.14" cy="50.20" r="0.4" fill="#4060ff" opacity="0.45"/><circle cx="167.68" cy="50.72" r="0.4" fill="#4060ff" opacity="0.45"/><circle cx="173.38" cy="46.71" r="0.4" fill="#4060ff" opacity="0.45"/><circle cx="166.93" cy="48.68" r="0.4" fill="#4060ff" opacity="0.45"/><circle cx="168.88" cy="48.05" r="0.4" fill="#4060ff" opacity="0.45"/><circle cx="171.17" cy="50.49" r="0.4" fill="#4060ff" opacity="0.45"/><circle cx="169.71" cy="49.91" r="0.4" fill="#4060ff" opacity="0.45"/><circle cx="171.56" cy="48.63" r="0.4" fill="#4060ff" opacity="0.45"/><circle cx="165.67" cy="51.18" r="0.4" fill="#4060ff" opacity="0.45"/><circle cx="161.73" cy="52.19" r="0.4" fill="#4060ff" opacity="0.45"/><circle cx="170.70" cy="47.38" r="0.4" fill="#4060ff" opacity="0.45"/><circle cx="169.80" cy="49.58" r="0.4" fill="#4060ff" opacity="0.45"/><circle cx="172.22" cy="49.30" r="0.4" fill="#4060ff" opacity="0.45"/><circle cx="163.90" cy="52.03" r="0.4" fill="#4060ff" opacity="0.45"/><circle cx="168.90" cy="47.79" r="0.4" fill="#4060ff" opacity="0.45"/><circle cx="168.35" cy="48.40" r="0.4" fill="#4060ff" opacity="0.45"/><circle cx="174.20" cy="45.25" r="0.4" fill="#4060ff" opacity="0.45"/><circle cx="168.14" cy="49.02" r="0.4" fill="#4060ff" opacity="0.45"/><circle cx="169.85" cy="50.33" r="0.4" fill="#4060ff" opacity="0.45"/><circle cx="169.65" cy="46.93" r="0.4" fill="#4060ff" opacity="0.45"/><circle cx="171.07" cy="46.57" r="0.4" fill="#4060ff" opacity="0.45"/><circle cx="174.54" cy="44.98" r="0.4" fill="#4060ff" opacity="0.45"/><circle cx="173.00" cy="50.62" r="0.4" fill="#4060ff" opacity="0.45"/><circle cx="169.11" cy="49.10" r="0.4" fill="#4060ff" opacity="0.45"/><circle cx="169.80" cy="50.40" r="0.4" fill="#4060ff" opacity="0.45"/><circle cx="172.05" cy="46.22" r="0.4" fill="#4060ff" opacity="0.45"/><circle cx="167.87" cy="48.99" r="0.4" fill="#4060ff" opacity="0.45"/><circle cx="171.36" cy="51.41" r="0.4" fill="#4060ff" opacity="0.45"/>
<g filter="url(#bl05)">
<ellipse cx="168.75" cy="50.00" rx="7.40" ry="3.00" transform="rotate(-36 168.75 50.00)" fill="#3050ff"/>
<ellipse cx="168.75" cy="50.00" rx="5.60" ry="2.30" transform="rotate(-36 168.75 50.00)" fill="#20a8f0"/>
<ellipse cx="168.75" cy="50.00" rx="4.30" ry="1.80" transform="rotate(-36 168.75 50.00)" fill="#30d060"/>
<ellipse cx="168.75" cy="50.00" rx="2.80" ry="1.20" transform="rotate(-36 168.75 50.00)" fill="#d8e000"/>
<ellipse cx="168.75" cy="50.00" rx="1.40" ry="0.70" transform="rotate(-36 168.75 50.00)" fill="#e8e000"/>
</g>
<circle cx="179.05" cy="48.94" r="0.4" fill="#4060ff" opacity="0.45"/><circle cx="179.01" cy="43.41" r="0.4" fill="#4060ff" opacity="0.45"/><circle cx="179.71" cy="46.80" r="0.4" fill="#4060ff" opacity="0.45"/><circle cx="179.79" cy="48.42" r="0.4" fill="#4060ff" opacity="0.45"/><circle cx="175.70" cy="50.09" r="0.4" fill="#4060ff" opacity="0.45"/><circle cx="182.19" cy="49.66" r="0.4" fill="#4060ff" opacity="0.45"/><circle cx="177.97" cy="49.96" r="0.4" fill="#4060ff" opacity="0.45"/><circle cx="184.06" cy="43.43" r="0.4" fill="#4060ff" opacity="0.45"/><circle cx="181.77" cy="42.84" r="0.4" fill="#4060ff" opacity="0.45"/><circle cx="182.68" cy="46.44" r="0.4" fill="#4060ff" opacity="0.45"/><circle cx="178.57" cy="45.94" r="0.4" fill="#4060ff" opacity="0.45"/><circle cx="179.28" cy="44.65" r="0.4" fill="#4060ff" opacity="0.45"/><circle cx="170.56" cy="53.04" r="0.4" fill="#4060ff" opacity="0.45"/><circle cx="177.73" cy="47.10" r="0.4" fill="#4060ff" opacity="0.45"/><circle cx="177.65" cy="49.81" r="0.4" fill="#4060ff" opacity="0.45"/><circle cx="179.94" cy="47.92" r="0.4" fill="#4060ff" opacity="0.45"/><circle cx="183.15" cy="48.75" r="0.4" fill="#4060ff" opacity="0.45"/><circle cx="182.75" cy="48.77" r="0.4" fill="#4060ff" opacity="0.45"/><circle cx="182.63" cy="43.75" r="0.4" fill="#4060ff" opacity="0.45"/><circle cx="180.63" cy="44.06" r="0.4" fill="#4060ff" opacity="0.45"/><circle cx="179.38" cy="48.10" r="0.4" fill="#4060ff" opacity="0.45"/><circle cx="175.85" cy="51.65" r="0.4" fill="#4060ff" opacity="0.45"/><circle cx="174.33" cy="47.69" r="0.4" fill="#4060ff" opacity="0.45"/><circle cx="181.63" cy="46.77" r="0.4" fill="#4060ff" opacity="0.45"/><circle cx="179.44" cy="49.22" r="0.4" fill="#4060ff" opacity="0.45"/><circle cx="182.13" cy="46.64" r="0.4" fill="#4060ff" opacity="0.45"/><circle cx="181.51" cy="46.62" r="0.4" fill="#4060ff" opacity="0.45"/><circle cx="180.21" cy="46.01" r="0.4" fill="#4060ff" opacity="0.45"/><circle cx="178.43" cy="46.98" r="0.4" fill="#4060ff" opacity="0.45"/><circle cx="180.30" cy="47.51" r="0.4" fill="#4060ff" opacity="0.45"/><circle cx="178.62" cy="47.20" r="0.4" fill="#4060ff" opacity="0.45"/><circle cx="176.79" cy="46.00" r="0.4" fill="#4060ff" opacity="0.45"/><circle cx="179.74" cy="48.78" r="0.4" fill="#4060ff" opacity="0.45"/><circle cx="180.86" cy="47.00" r="0.4" fill="#4060ff" opacity="0.45"/><circle cx="176.19" cy="53.08" r="0.4" fill="#4060ff" opacity="0.45"/><circle cx="179.50" cy="47.86" r="0.4" fill="#4060ff" opacity="0.45"/><circle cx="175.89" cy="49.67" r="0.4" fill="#4060ff" opacity="0.45"/><circle cx="186.12" cy="42.72" r="0.4" fill="#4060ff" opacity="0.45"/><circle cx="181.93" cy="44.47" r="0.4" fill="#4060ff" opacity="0.45"/><circle cx="175.33" cy="48.44" r="0.4" fill="#4060ff" opacity="0.45"/><circle cx="176.97" cy="46.82" r="0.4" fill="#4060ff" opacity="0.45"/><circle cx="181.61" cy="48.08" r="0.4" fill="#4060ff" opacity="0.45"/><circle cx="177.17" cy="47.09" r="0.4" fill="#4060ff" opacity="0.45"/><circle cx="179.83" cy="46.77" r="0.4" fill="#4060ff" opacity="0.45"/><circle cx="178.20" cy="47.41" r="0.4" fill="#4060ff" opacity="0.45"/><circle cx="171.32" cy="49.31" r="0.4" fill="#4060ff" opacity="0.45"/><circle cx="175.73" cy="50.69" r="0.4" fill="#4060ff" opacity="0.45"/><circle cx="179.02" cy="44.23" r="0.4" fill="#4060ff" opacity="0.45"/><circle cx="172.68" cy="50.43" r="0.4" fill="#4060ff" opacity="0.45"/><circle cx="182.21" cy="47.29" r="0.4" fill="#4060ff" opacity="0.45"/>
<g filter="url(#bl05)">
<ellipse cx="179.40" cy="47.40" rx="7.40" ry="3.00" transform="rotate(-36 179.40 47.40)" fill="#3050ff"/>
<ellipse cx="179.40" cy="47.40" rx="5.60" ry="2.30" transform="rotate(-36 179.40 47.40)" fill="#20a8f0"/>
<ellipse cx="179.40" cy="47.40" rx="4.30" ry="1.80" transform="rotate(-36 179.40 47.40)" fill="#30d060"/>
<ellipse cx="179.40" cy="47.40" rx="2.80" ry="1.20" transform="rotate(-36 179.40 47.40)" fill="#d8e000"/>
<ellipse cx="179.40" cy="47.40" rx="1.40" ry="0.70" transform="rotate(-36 179.40 47.40)" fill="#f05000"/>
</g>
<path d="M157.30,41.10 L178.20,41.10 L167.40,55.50 L157.30,55.50 Z" fill="none" stroke="#808080" stroke-width="0.9"/>
<path d="M181.30,41.10 L196.40,41.10 L196.40,55.50 L170.75,55.50 Z" fill="none" stroke="#808080" stroke-width="0.9"/>
<rect x="156.75" y="68.50" width="3.00" height="0.70" fill="#999" stroke="none" stroke-width="1"/>
<rect x="156.75" y="70.00" width="3.00" height="0.70" fill="#999" stroke="none" stroke-width="1"/>
<rect x="184.75" y="69.00" width="4.00" height="0.70" fill="#aaa" stroke="none" stroke-width="1"/>
<rect x="184.75" y="70.50" width="4.00" height="0.70" fill="#aaa" stroke="none" stroke-width="1"/>
<circle cx="153.95" cy="67.00" r="0.9" fill="#111"/>
<path d="M208.80,76.30 L208.80,37.40 L255.10,37.40 L255.10,76.30" fill="none" stroke="#c8c8c8" stroke-width="0.8"/>
<line x1="208.80" y1="76.30" x2="255.10" y2="76.30" stroke="#555" stroke-width="0.8"/>
<line x1="208.80" y1="37.40" x2="208.80" y2="76.30" stroke="#888" stroke-width="0.7"/>
<line x1="206.60" y1="75.80" x2="208.80" y2="75.80" stroke="#777" stroke-width="0.6"/>
<line x1="206.60" y1="68.46" x2="208.80" y2="68.46" stroke="#777" stroke-width="0.6"/>
<line x1="206.60" y1="61.12" x2="208.80" y2="61.12" stroke="#777" stroke-width="0.6"/>
<line x1="206.60" y1="53.78" x2="208.80" y2="53.78" stroke="#777" stroke-width="0.6"/>
<line x1="206.60" y1="46.44" x2="208.80" y2="46.44" stroke="#777" stroke-width="0.6"/>
<line x1="206.60" y1="39.10" x2="208.80" y2="39.10" stroke="#777" stroke-width="0.6"/>
<line x1="218.06" y1="76.30" x2="218.06" y2="78.10" stroke="#666" stroke-width="0.6"/>
<rect x="217.06" y="78.90" width="2.00" height="0.70" fill="#d0d0d0" stroke="none" stroke-width="1"/>
<line x1="230.56" y1="76.30" x2="230.56" y2="78.10" stroke="#666" stroke-width="0.6"/>
<rect x="229.56" y="78.90" width="2.00" height="0.70" fill="#d0d0d0" stroke="none" stroke-width="1"/>
<line x1="243.06" y1="76.30" x2="243.06" y2="78.10" stroke="#666" stroke-width="0.6"/>
<rect x="242.06" y="78.90" width="2.00" height="0.70" fill="#d0d0d0" stroke="none" stroke-width="1"/>
<line x1="252.78" y1="76.30" x2="252.78" y2="78.10" stroke="#666" stroke-width="0.6"/>
<rect x="251.78" y="78.90" width="2.00" height="0.70" fill="#d0d0d0" stroke="none" stroke-width="1"/>
<rect x="226.45" y="82.30" width="11.00" height="0.80" fill="#d0d0d0" stroke="none" stroke-width="1"/>
<path d="M211.40,76.30 C211.68,75.31 212.90,72.59 213.40,69.19 C213.90,65.80 214.61,55.60 215.00,52.08 C215.39,48.55 215.86,44.81 216.20,44.00 C216.54,43.19 217.01,44.23 217.40,46.26 C217.79,48.30 218.58,55.01 219.00,58.53 C219.42,62.06 219.97,69.14 220.40,71.45 C220.83,73.77 221.37,74.51 222.10,75.10 C222.83,75.69 224.41,75.56 225.60,75.70 C226.79,75.84 229.90,76.04 230.60,76.10 L230.60,76.30 L211.40,76.30 Z" fill="#9a9a9a" stroke="#333" stroke-width="0.75"/>
<line x1="230.10" y1="67.90" x2="250.60" y2="67.90" stroke="#444" stroke-width="0.8"/>
<line x1="230.10" y1="66.70" x2="230.10" y2="69.10" stroke="#444" stroke-width="0.6"/>
<line x1="250.60" y1="66.70" x2="250.60" y2="69.10" stroke="#444" stroke-width="0.6"/>
<rect x="237.85" y="64.30" width="5.00" height="0.80" fill="#bbb" stroke="none" stroke-width="1"/>
<text x="40.00" y="23.75" font-size="9.00" text-anchor="start" fill="#222" stroke="#222" stroke-width="0.1" textLength="44.50" lengthAdjust="spacingAndGlyphs">Xenografted</text>
<text x="43.00" y="33.00" font-size="9.00" text-anchor="start" fill="#222" stroke="#222" stroke-width="0.1" textLength="39.00" lengthAdjust="spacingAndGlyphs">tumor cells</text>
<text x="118.50" y="24.00" font-size="9.00" text-anchor="middle" fill="#222" stroke="#222" stroke-width="0.1" textLength="30.00" lengthAdjust="spacingAndGlyphs">Control</text>
<text x="98.50" y="33.00" font-size="9.00" text-anchor="start" fill="#222" stroke="#222" stroke-width="0.1" textLength="39.00" lengthAdjust="spacingAndGlyphs">TMD8 cells</text>
<text x="174.50" y="24.00" font-size="9.00" text-anchor="middle" fill="#222" stroke="#222" stroke-width="0.1" textLength="22.00" lengthAdjust="spacingAndGlyphs">GFP+</text>
<text x="155.25" y="33.00" font-size="9.00" text-anchor="start" fill="#222" stroke="#222" stroke-width="0.1" textLength="38.75" lengthAdjust="spacingAndGlyphs">tumor cells</text>
<text x="212.25" y="30.40" font-size="9.00" text-anchor="start" fill="#222" stroke="#222" stroke-width="0.1" textLength="39.00" lengthAdjust="spacingAndGlyphs">Control Ab</text>
<path d="M36.00,132.50 L36.00,93.20 L83.20,93.20 L83.20,132.50" fill="none" stroke="#c8c8c8" stroke-width="0.8"/>
<line x1="36.00" y1="132.50" x2="83.20" y2="132.50" stroke="#555" stroke-width="0.8"/>
<line x1="36.00" y1="93.20" x2="36.00" y2="132.50" stroke="#888" stroke-width="0.7"/>
<line x1="33.80" y1="132.00" x2="36.00" y2="132.00" stroke="#777" stroke-width="0.6"/>
<line x1="33.80" y1="124.58" x2="36.00" y2="124.58" stroke="#777" stroke-width="0.6"/>
<line x1="33.80" y1="117.17" x2="36.00" y2="117.17" stroke="#777" stroke-width="0.6"/>
<line x1="33.80" y1="109.75" x2="36.00" y2="109.75" stroke="#777" stroke-width="0.6"/>
<line x1="33.80" y1="102.34" x2="36.00" y2="102.34" stroke="#777" stroke-width="0.6"/>
<line x1="33.80" y1="94.92" x2="36.00" y2="94.92" stroke="#777" stroke-width="0.6"/>
<line x1="45.44" y1="132.50" x2="45.44" y2="134.30" stroke="#666" stroke-width="0.6"/>
<rect x="44.44" y="135.10" width="2.00" height="0.70" fill="#d0d0d0" stroke="none" stroke-width="1"/>
<line x1="58.18" y1="132.50" x2="58.18" y2="134.30" stroke="#666" stroke-width="0.6"/>
<rect x="57.18" y="135.10" width="2.00" height="0.70" fill="#d0d0d0" stroke="none" stroke-width="1"/>
<line x1="70.93" y1="132.50" x2="70.93" y2="134.30" stroke="#666" stroke-width="0.6"/>
<rect x="69.93" y="135.10" width="2.00" height="0.70" fill="#d0d0d0" stroke="none" stroke-width="1"/>
<line x1="80.84" y1="132.50" x2="80.84" y2="134.30" stroke="#666" stroke-width="0.6"/>
<rect x="79.84" y="135.10" width="2.00" height="0.70" fill="#d0d0d0" stroke="none" stroke-width="1"/>
<rect x="54.10" y="138.50" width="11.00" height="0.80" fill="#d0d0d0" stroke="none" stroke-width="1"/>
<path d="M36.00,188.40 L36.00,149.20 L83.20,149.20 L83.20,188.40" fill="none" stroke="#c8c8c8" stroke-width="0.8"/>
<line x1="36.00" y1="188.40" x2="83.20" y2="188.40" stroke="#555" stroke-width="0.8"/>
<line x1="36.00" y1="149.20" x2="36.00" y2="188.40" stroke="#888" stroke-width="0.7"/>
<line x1="33.80" y1="187.90" x2="36.00" y2="187.90" stroke="#777" stroke-width="0.6"/>
<line x1="33.80" y1="180.50" x2="36.00" y2="180.50" stroke="#777" stroke-width="0.6"/>
<line x1="33.80" y1="173.11" x2="36.00" y2="173.11" stroke="#777" stroke-width="0.6"/>
<line x1="33.80" y1="165.71" x2="36.00" y2="165.71" stroke="#777" stroke-width="0.6"/>
<line x1="33.80" y1="158.32" x2="36.00" y2="158.32" stroke="#777" stroke-width="0.6"/>
<line x1="33.80" y1="150.92" x2="36.00" y2="150.92" stroke="#777" stroke-width="0.6"/>
<line x1="45.44" y1="188.40" x2="45.44" y2="190.20" stroke="#666" stroke-width="0.6"/>
<rect x="44.44" y="191.00" width="2.00" height="0.70" fill="#d0d0d0" stroke="none" stroke-width="1"/>
<line x1="58.18" y1="188.40" x2="58.18" y2="190.20" stroke="#666" stroke-width="0.6"/>
<rect x="57.18" y="191.00" width="2.00" height="0.70" fill="#d0d0d0" stroke="none" stroke-width="1"/>
<line x1="70.93" y1="188.40" x2="70.93" y2="190.20" stroke="#666" stroke-width="0.6"/>
<rect x="69.93" y="191.00" width="2.00" height="0.70" fill="#d0d0d0" stroke="none" stroke-width="1"/>
<line x1="80.84" y1="188.40" x2="80.84" y2="190.20" stroke="#666" stroke-width="0.6"/>
<rect x="79.84" y="191.00" width="2.00" height="0.70" fill="#d0d0d0" stroke="none" stroke-width="1"/>
<rect x="54.10" y="194.40" width="11.00" height="0.80" fill="#d0d0d0" stroke="none" stroke-width="1"/>
<path d="M93.80,132.50 L93.80,93.20 L140.30,93.20 L140.30,132.50" fill="none" stroke="#c8c8c8" stroke-width="0.8"/>
<line x1="93.80" y1="132.50" x2="140.30" y2="132.50" stroke="#555" stroke-width="0.8"/>
<line x1="93.80" y1="93.20" x2="93.80" y2="132.50" stroke="#888" stroke-width="0.7"/>
<line x1="91.60" y1="132.00" x2="93.80" y2="132.00" stroke="#777" stroke-width="0.6"/>
<line x1="91.60" y1="124.58" x2="93.80" y2="124.58" stroke="#777" stroke-width="0.6"/>
<line x1="91.60" y1="117.17" x2="93.80" y2="117.17" stroke="#777" stroke-width="0.6"/>
<line x1="91.60" y1="109.75" x2="93.80" y2="109.75" stroke="#777" stroke-width="0.6"/>
<line x1="91.60" y1="102.34" x2="93.80" y2="102.34" stroke="#777" stroke-width="0.6"/>
<line x1="91.60" y1="94.92" x2="93.80" y2="94.92" stroke="#777" stroke-width="0.6"/>
<line x1="103.10" y1="132.50" x2="103.10" y2="134.30" stroke="#666" stroke-width="0.6"/>
<rect x="102.10" y="135.10" width="2.00" height="0.70" fill="#d0d0d0" stroke="none" stroke-width="1"/>
<line x1="115.66" y1="132.50" x2="115.66" y2="134.30" stroke="#666" stroke-width="0.6"/>
<rect x="114.66" y="135.10" width="2.00" height="0.70" fill="#d0d0d0" stroke="none" stroke-width="1"/>
<line x1="128.21" y1="132.50" x2="128.21" y2="134.30" stroke="#666" stroke-width="0.6"/>
<rect x="127.21" y="135.10" width="2.00" height="0.70" fill="#d0d0d0" stroke="none" stroke-width="1"/>
<line x1="137.98" y1="132.50" x2="137.98" y2="134.30" stroke="#666" stroke-width="0.6"/>
<rect x="136.98" y="135.10" width="2.00" height="0.70" fill="#d0d0d0" stroke="none" stroke-width="1"/>
<rect x="111.55" y="138.50" width="11.00" height="0.80" fill="#d0d0d0" stroke="none" stroke-width="1"/>
<path d="M93.80,188.40 L93.80,149.20 L140.30,149.20 L140.30,188.40" fill="none" stroke="#c8c8c8" stroke-width="0.8"/>
<line x1="93.80" y1="188.40" x2="140.30" y2="188.40" stroke="#555" stroke-width="0.8"/>
<line x1="93.80" y1="149.20" x2="93.80" y2="188.40" stroke="#888" stroke-width="0.7"/>
<line x1="91.60" y1="187.90" x2="93.80" y2="187.90" stroke="#777" stroke-width="0.6"/>
<line x1="91.60" y1="180.50" x2="93.80" y2="180.50" stroke="#777" stroke-width="0.6"/>
<line x1="91.60" y1="173.11" x2="93.80" y2="173.11" stroke="#777" stroke-width="0.6"/>
<line x1="91.60" y1="165.71" x2="93.80" y2="165.71" stroke="#777" stroke-width="0.6"/>
<line x1="91.60" y1="158.32" x2="93.80" y2="158.32" stroke="#777" stroke-width="0.6"/>
<line x1="91.60" y1="150.92" x2="93.80" y2="150.92" stroke="#777" stroke-width="0.6"/>
<line x1="103.10" y1="188.40" x2="103.10" y2="190.20" stroke="#666" stroke-width="0.6"/>
<rect x="102.10" y="191.00" width="2.00" height="0.70" fill="#d0d0d0" stroke="none" stroke-width="1"/>
<line x1="115.66" y1="188.40" x2="115.66" y2="190.20" stroke="#666" stroke-width="0.6"/>
<rect x="114.66" y="191.00" width="2.00" height="0.70" fill="#d0d0d0" stroke="none" stroke-width="1"/>
<line x1="128.21" y1="188.40" x2="128.21" y2="190.20" stroke="#666" stroke-width="0.6"/>
<rect x="127.21" y="191.00" width="2.00" height="0.70" fill="#d0d0d0" stroke="none" stroke-width="1"/>
<line x1="137.98" y1="188.40" x2="137.98" y2="190.20" stroke="#666" stroke-width="0.6"/>
<rect x="136.98" y="191.00" width="2.00" height="0.70" fill="#d0d0d0" stroke="none" stroke-width="1"/>
<rect x="111.55" y="194.40" width="11.00" height="0.80" fill="#d0d0d0" stroke="none" stroke-width="1"/>
<path d="M151.20,132.50 L151.20,93.20 L197.80,93.20 L197.80,132.50" fill="none" stroke="#c8c8c8" stroke-width="0.8"/>
<line x1="151.20" y1="132.50" x2="197.80" y2="132.50" stroke="#555" stroke-width="0.8"/>
<line x1="151.20" y1="93.20" x2="151.20" y2="132.50" stroke="#888" stroke-width="0.7"/>
<line x1="149.00" y1="132.00" x2="151.20" y2="132.00" stroke="#777" stroke-width="0.6"/>
<line x1="149.00" y1="124.58" x2="151.20" y2="124.58" stroke="#777" stroke-width="0.6"/>
<line x1="149.00" y1="117.17" x2="151.20" y2="117.17" stroke="#777" stroke-width="0.6"/>
<line x1="149.00" y1="109.75" x2="151.20" y2="109.75" stroke="#777" stroke-width="0.6"/>
<line x1="149.00" y1="102.34" x2="151.20" y2="102.34" stroke="#777" stroke-width="0.6"/>
<line x1="149.00" y1="94.92" x2="151.20" y2="94.92" stroke="#777" stroke-width="0.6"/>
<line x1="160.52" y1="132.50" x2="160.52" y2="134.30" stroke="#666" stroke-width="0.6"/>
<rect x="159.52" y="135.10" width="2.00" height="0.70" fill="#d0d0d0" stroke="none" stroke-width="1"/>
<line x1="173.10" y1="132.50" x2="173.10" y2="134.30" stroke="#666" stroke-width="0.6"/>
<rect x="172.10" y="135.10" width="2.00" height="0.70" fill="#d0d0d0" stroke="none" stroke-width="1"/>
<line x1="185.68" y1="132.50" x2="185.68" y2="134.30" stroke="#666" stroke-width="0.6"/>
<rect x="184.68" y="135.10" width="2.00" height="0.70" fill="#d0d0d0" stroke="none" stroke-width="1"/>
<line x1="195.47" y1="132.50" x2="195.47" y2="134.30" stroke="#666" stroke-width="0.6"/>
<rect x="194.47" y="135.10" width="2.00" height="0.70" fill="#d0d0d0" stroke="none" stroke-width="1"/>
<rect x="169.00" y="138.50" width="11.00" height="0.80" fill="#d0d0d0" stroke="none" stroke-width="1"/>
<path d="M151.20,188.40 L151.20,149.20 L197.80,149.20 L197.80,188.40" fill="none" stroke="#c8c8c8" stroke-width="0.8"/>
<line x1="151.20" y1="188.40" x2="197.80" y2="188.40" stroke="#555" stroke-width="0.8"/>
<line x1="151.20" y1="149.20" x2="151.20" y2="188.40" stroke="#888" stroke-width="0.7"/>
<line x1="149.00" y1="187.90" x2="151.20" y2="187.90" stroke="#777" stroke-width="0.6"/>
<line x1="149.00" y1="180.50" x2="151.20" y2="180.50" stroke="#777" stroke-width="0.6"/>
<line x1="149.00" y1="173.11" x2="151.20" y2="173.11" stroke="#777" stroke-width="0.6"/>
<line x1="149.00" y1="165.71" x2="151.20" y2="165.71" stroke="#777" stroke-width="0.6"/>
<line x1="149.00" y1="158.32" x2="151.20" y2="158.32" stroke="#777" stroke-width="0.6"/>
<line x1="149.00" y1="150.92" x2="151.20" y2="150.92" stroke="#777" stroke-width="0.6"/>
<line x1="160.52" y1="188.40" x2="160.52" y2="190.20" stroke="#666" stroke-width="0.6"/>
<rect x="159.52" y="191.00" width="2.00" height="0.70" fill="#d0d0d0" stroke="none" stroke-width="1"/>
<line x1="173.10" y1="188.40" x2="173.10" y2="190.20" stroke="#666" stroke-width="0.6"/>
<rect x="172.10" y="191.00" width="2.00" height="0.70" fill="#d0d0d0" stroke="none" stroke-width="1"/>
<line x1="185.68" y1="188.40" x2="185.68" y2="190.20" stroke="#666" stroke-width="0.6"/>
<rect x="184.68" y="191.00" width="2.00" height="0.70" fill="#d0d0d0" stroke="none" stroke-width="1"/>
<line x1="195.47" y1="188.40" x2="195.47" y2="190.20" stroke="#666" stroke-width="0.6"/>
<rect x="194.47" y="191.00" width="2.00" height="0.70" fill="#d0d0d0" stroke="none" stroke-width="1"/>
<rect x="169.00" y="194.40" width="11.00" height="0.80" fill="#d0d0d0" stroke="none" stroke-width="1"/>
<path d="M208.20,132.50 L208.20,93.20 L255.50,93.20 L255.50,132.50" fill="none" stroke="#c8c8c8" stroke-width="0.8"/>
<line x1="208.20" y1="132.50" x2="255.50" y2="132.50" stroke="#555" stroke-width="0.8"/>
<line x1="208.20" y1="93.20" x2="208.20" y2="132.50" stroke="#888" stroke-width="0.7"/>
<line x1="206.00" y1="132.00" x2="208.20" y2="132.00" stroke="#777" stroke-width="0.6"/>
<line x1="206.00" y1="124.58" x2="208.20" y2="124.58" stroke="#777" stroke-width="0.6"/>
<line x1="206.00" y1="117.17" x2="208.20" y2="117.17" stroke="#777" stroke-width="0.6"/>
<line x1="206.00" y1="109.75" x2="208.20" y2="109.75" stroke="#777" stroke-width="0.6"/>
<line x1="206.00" y1="102.34" x2="208.20" y2="102.34" stroke="#777" stroke-width="0.6"/>
<line x1="206.00" y1="94.92" x2="208.20" y2="94.92" stroke="#777" stroke-width="0.6"/>
<line x1="217.66" y1="132.50" x2="217.66" y2="134.30" stroke="#666" stroke-width="0.6"/>
<rect x="216.66" y="135.10" width="2.00" height="0.70" fill="#d0d0d0" stroke="none" stroke-width="1"/>
<line x1="230.43" y1="132.50" x2="230.43" y2="134.30" stroke="#666" stroke-width="0.6"/>
<rect x="229.43" y="135.10" width="2.00" height="0.70" fill="#d0d0d0" stroke="none" stroke-width="1"/>
<line x1="243.20" y1="132.50" x2="243.20" y2="134.30" stroke="#666" stroke-width="0.6"/>
<rect x="242.20" y="135.10" width="2.00" height="0.70" fill="#d0d0d0" stroke="none" stroke-width="1"/>
<line x1="253.13" y1="132.50" x2="253.13" y2="134.30" stroke="#666" stroke-width="0.6"/>
<rect x="252.13" y="135.10" width="2.00" height="0.70" fill="#d0d0d0" stroke="none" stroke-width="1"/>
<rect x="226.35" y="138.50" width="11.00" height="0.80" fill="#d0d0d0" stroke="none" stroke-width="1"/>
<path d="M208.20,188.40 L208.20,149.20 L255.50,149.20 L255.50,188.40" fill="none" stroke="#c8c8c8" stroke-width="0.8"/>
<line x1="208.20" y1="188.40" x2="255.50" y2="188.40" stroke="#555" stroke-width="0.8"/>
<line x1="208.20" y1="149.20" x2="208.20" y2="188.40" stroke="#888" stroke-width="0.7"/>
<line x1="206.00" y1="187.90" x2="208.20" y2="187.90" stroke="#777" stroke-width="0.6"/>
<line x1="206.00" y1="180.50" x2="208.20" y2="180.50" stroke="#777" stroke-width="0.6"/>
<line x1="206.00" y1="173.11" x2="208.20" y2="173.11" stroke="#777" stroke-width="0.6"/>
<line x1="206.00" y1="165.71" x2="208.20" y2="165.71" stroke="#777" stroke-width="0.6"/>
<line x1="206.00" y1="158.32" x2="208.20" y2="158.32" stroke="#777" stroke-width="0.6"/>
<line x1="206.00" y1="150.92" x2="208.20" y2="150.92" stroke="#777" stroke-width="0.6"/>
<line x1="217.66" y1="188.40" x2="217.66" y2="190.20" stroke="#666" stroke-width="0.6"/>
<rect x="216.66" y="191.00" width="2.00" height="0.70" fill="#d0d0d0" stroke="none" stroke-width="1"/>
<line x1="230.43" y1="188.40" x2="230.43" y2="190.20" stroke="#666" stroke-width="0.6"/>
<rect x="229.43" y="191.00" width="2.00" height="0.70" fill="#d0d0d0" stroke="none" stroke-width="1"/>
<line x1="243.20" y1="188.40" x2="243.20" y2="190.20" stroke="#666" stroke-width="0.6"/>
<rect x="242.20" y="191.00" width="2.00" height="0.70" fill="#d0d0d0" stroke="none" stroke-width="1"/>
<line x1="253.13" y1="188.40" x2="253.13" y2="190.20" stroke="#666" stroke-width="0.6"/>
<rect x="252.13" y="191.00" width="2.00" height="0.70" fill="#d0d0d0" stroke="none" stroke-width="1"/>
<rect x="226.35" y="194.40" width="11.00" height="0.80" fill="#d0d0d0" stroke="none" stroke-width="1"/>
<path d="M46.10,132.50 C46.44,132.01 47.77,130.13 48.50,129.00 C49.23,127.87 50.74,125.20 51.30,124.40 C51.86,123.60 52.18,123.22 52.50,123.30 C52.82,123.38 53.04,125.08 53.60,125.00 C54.16,124.92 55.93,123.99 56.50,122.70 C57.07,121.41 57.35,117.93 57.70,115.80 C58.05,113.67 58.65,109.59 59.00,107.50 C59.35,105.41 59.77,102.20 60.20,100.90 C60.63,99.60 61.68,98.12 62.10,98.20 C62.52,98.28 62.93,100.03 63.20,101.50 C63.47,102.97 63.72,105.93 64.00,108.70 C64.28,111.47 64.82,118.78 65.20,121.30 C65.58,123.82 66.29,125.30 66.70,126.70 C67.11,128.10 67.71,130.49 68.10,131.30 C68.49,132.11 69.30,132.33 69.50,132.50 L69.50,132.50 L46.10,132.50 Z" fill="#9a9a9a" stroke="#333" stroke-width="0.75"/>
<line x1="58.30" y1="122.30" x2="78.40" y2="122.30" stroke="#444" stroke-width="0.8"/>
<line x1="58.30" y1="121.10" x2="58.30" y2="123.50" stroke="#444" stroke-width="0.6"/>
<line x1="78.40" y1="121.10" x2="78.40" y2="123.50" stroke="#444" stroke-width="0.6"/>
<rect x="65.85" y="118.70" width="5.00" height="0.80" fill="#bbb" stroke="none" stroke-width="1"/>
<path d="M101.80,132.50 C101.97,132.08 102.59,130.89 103.00,129.50 C103.41,128.11 104.21,125.99 104.70,122.60 C105.19,119.21 105.93,108.45 106.50,105.30 C107.07,102.15 108.24,99.93 108.80,100.10 C109.36,100.27 109.94,104.72 110.50,106.50 C111.06,108.28 112.16,112.24 112.80,112.80 C113.44,113.36 114.65,111.14 115.10,110.50 C115.55,109.86 115.76,108.20 116.00,108.20 C116.24,108.20 116.55,110.56 116.80,110.50 C117.05,110.44 117.48,107.07 117.80,107.80 C118.12,108.53 118.67,113.15 119.10,115.70 C119.53,118.25 120.49,123.90 120.90,126.00 C121.31,128.10 121.50,129.79 122.00,130.70 C122.50,131.61 124.15,132.25 124.50,132.50 L124.50,132.50 L101.80,132.50 Z" fill="#9a9a9a" stroke="#333" stroke-width="0.75"/>
<line x1="115.60" y1="122.30" x2="135.50" y2="122.30" stroke="#444" stroke-width="0.8"/>
<line x1="115.60" y1="121.10" x2="115.60" y2="123.50" stroke="#444" stroke-width="0.6"/>
<line x1="135.50" y1="121.10" x2="135.50" y2="123.50" stroke="#444" stroke-width="0.6"/>
<rect x="123.05" y="118.70" width="5.00" height="0.80" fill="#bbb" stroke="none" stroke-width="1"/>
<path d="M160.80,132.50 C161.00,131.94 161.81,130.04 162.20,128.50 C162.59,126.96 163.15,124.72 163.60,121.50 C164.05,118.28 164.91,108.64 165.40,105.50 C165.89,102.36 166.67,99.38 167.10,99.10 C167.53,98.82 168.09,102.32 168.50,103.50 C168.91,104.68 169.68,106.88 170.00,107.50 C170.32,108.12 170.52,107.20 170.80,107.90 C171.08,108.60 171.64,111.16 172.00,112.50 C172.36,113.84 172.98,115.96 173.40,117.50 C173.82,119.04 174.57,121.89 175.00,123.50 C175.43,125.11 176.00,127.74 176.50,129.00 C177.00,130.26 178.31,132.01 178.60,132.50 L178.60,132.50 L160.80,132.50 Z" fill="#9a9a9a" stroke="#333" stroke-width="0.75"/>
<line x1="172.90" y1="122.30" x2="193.30" y2="122.30" stroke="#444" stroke-width="0.8"/>
<line x1="172.90" y1="121.10" x2="172.90" y2="123.50" stroke="#444" stroke-width="0.6"/>
<line x1="193.30" y1="121.10" x2="193.30" y2="123.50" stroke="#444" stroke-width="0.6"/>
<rect x="180.60" y="118.70" width="5.00" height="0.80" fill="#bbb" stroke="none" stroke-width="1"/>
<path d="M220.30,132.50 C220.51,132.28 221.39,131.63 221.80,130.90 C222.21,130.17 222.77,130.06 223.20,127.30 C223.63,124.54 224.37,115.26 224.90,111.20 C225.43,107.14 226.48,99.28 227.00,98.30 C227.52,97.32 228.21,101.60 228.60,104.20 C228.99,106.80 229.42,113.50 229.80,116.90 C230.18,120.30 230.77,126.32 231.30,128.50 C231.83,130.68 233.28,131.94 233.60,132.50 L233.60,132.50 L220.30,132.50 Z" fill="#9a9a9a" stroke="#333" stroke-width="0.75"/>
<line x1="230.70" y1="122.30" x2="250.90" y2="122.30" stroke="#444" stroke-width="0.8"/>
<line x1="230.70" y1="121.10" x2="230.70" y2="123.50" stroke="#444" stroke-width="0.6"/>
<line x1="250.90" y1="121.10" x2="250.90" y2="123.50" stroke="#444" stroke-width="0.6"/>
<rect x="238.30" y="118.70" width="5.00" height="0.80" fill="#bbb" stroke="none" stroke-width="1"/>
<path d="M47.30,188.40 C47.62,187.99 49.04,187.04 49.60,185.50 C50.16,183.96 50.81,179.65 51.30,177.40 C51.79,175.15 52.61,171.01 53.10,169.40 C53.59,167.79 54.39,165.82 54.80,165.90 C55.21,165.98 55.62,168.95 56.00,170.00 C56.38,171.05 57.11,173.65 57.50,173.40 C57.89,173.15 58.37,169.89 58.80,168.20 C59.23,166.51 60.03,162.94 60.60,161.30 C61.17,159.66 62.37,156.33 62.90,156.50 C63.43,156.67 63.97,160.05 64.40,162.50 C64.83,164.95 65.57,171.10 66.00,174.00 C66.43,176.90 67.08,181.32 67.50,183.20 C67.92,185.08 68.52,186.67 69.00,187.40 C69.48,188.13 70.63,188.26 70.90,188.40 L70.90,188.40 L47.30,188.40 Z" fill="#9a9a9a" stroke="#333" stroke-width="0.75"/>
<line x1="57.70" y1="178.30" x2="78.50" y2="178.30" stroke="#444" stroke-width="0.8"/>
<line x1="57.70" y1="177.10" x2="57.70" y2="179.50" stroke="#444" stroke-width="0.6"/>
<line x1="78.50" y1="177.10" x2="78.50" y2="179.50" stroke="#444" stroke-width="0.6"/>
<rect x="65.60" y="174.70" width="5.00" height="0.80" fill="#bbb" stroke="none" stroke-width="1"/>
<path d="M101.30,188.40 C101.69,187.99 103.37,187.19 104.10,185.50 C104.83,183.81 105.93,178.72 106.50,176.30 C107.07,173.88 107.70,169.74 108.20,168.20 C108.70,166.66 109.62,164.89 110.10,165.30 C110.58,165.71 111.22,169.97 111.60,171.10 C111.98,172.23 112.39,174.28 112.80,173.40 C113.21,172.52 113.86,167.05 114.50,164.80 C115.14,162.55 116.76,157.62 117.40,157.30 C118.04,156.98 118.61,160.16 119.10,162.50 C119.59,164.84 120.44,170.93 120.90,174.00 C121.36,177.07 121.84,182.38 122.40,184.40 C122.96,186.42 124.55,187.84 124.90,188.40 L124.90,188.40 L101.30,188.40 Z" fill="#9a9a9a" stroke="#333" stroke-width="0.75"/>
<line x1="115.40" y1="178.30" x2="135.70" y2="178.30" stroke="#444" stroke-width="0.8"/>
<line x1="115.40" y1="177.10" x2="115.40" y2="179.50" stroke="#444" stroke-width="0.6"/>
<line x1="135.70" y1="177.10" x2="135.70" y2="179.50" stroke="#444" stroke-width="0.6"/>
<rect x="123.05" y="174.70" width="5.00" height="0.80" fill="#bbb" stroke="none" stroke-width="1"/>
<path d="M159.80,188.40 C160.21,187.99 161.97,187.52 162.70,185.50 C163.43,183.48 164.43,177.22 165.00,174.00 C165.57,170.78 166.28,164.80 166.80,162.50 C167.32,160.20 168.25,157.53 168.70,157.60 C169.15,157.67 169.71,162.16 170.00,163.00 C170.29,163.84 170.41,164.24 170.80,163.60 C171.19,162.96 172.31,158.16 172.80,158.40 C173.29,158.64 173.88,163.93 174.30,165.30 C174.72,166.67 175.41,166.66 175.80,168.20 C176.19,169.74 176.67,173.79 177.10,176.30 C177.53,178.81 178.41,184.41 178.90,186.10 C179.39,187.79 180.36,188.08 180.60,188.40 L180.60,188.40 L159.80,188.40 Z" fill="#9a9a9a" stroke="#333" stroke-width="0.75"/>
<line x1="172.50" y1="178.30" x2="193.10" y2="178.30" stroke="#444" stroke-width="0.8"/>
<line x1="172.50" y1="177.10" x2="172.50" y2="179.50" stroke="#444" stroke-width="0.6"/>
<line x1="193.10" y1="177.10" x2="193.10" y2="179.50" stroke="#444" stroke-width="0.6"/>
<rect x="180.30" y="174.70" width="5.00" height="0.80" fill="#bbb" stroke="none" stroke-width="1"/>
<path d="M216.80,188.40 C217.12,187.99 218.37,187.52 219.10,185.50 C219.83,183.48 221.19,177.39 222.00,174.00 C222.81,170.61 224.20,163.89 224.90,161.30 C225.60,158.71 226.48,155.67 227.00,155.50 C227.52,155.33 228.11,158.15 228.60,160.10 C229.09,162.05 229.97,166.64 230.50,169.40 C231.03,172.16 231.92,177.46 232.40,179.80 C232.88,182.14 233.41,184.90 233.90,186.10 C234.39,187.30 235.62,188.08 235.90,188.40 L235.90,188.40 L216.80,188.40 Z" fill="#9a9a9a" stroke="#333" stroke-width="0.75"/>
<line x1="230.50" y1="178.30" x2="250.90" y2="178.30" stroke="#444" stroke-width="0.8"/>
<line x1="230.50" y1="177.10" x2="230.50" y2="179.50" stroke="#444" stroke-width="0.6"/>
<line x1="250.90" y1="177.10" x2="250.90" y2="179.50" stroke="#444" stroke-width="0.6"/>
<rect x="238.20" y="174.70" width="5.00" height="0.80" fill="#bbb" stroke="none" stroke-width="1"/>
<text x="45.75" y="90.60" font-size="9.20" text-anchor="start" fill="#222" stroke="#222" stroke-width="0.1" textLength="25.75" lengthAdjust="spacingAndGlyphs">Vehicle</text>
<text x="100.00" y="90.60" font-size="9.20" text-anchor="start" fill="#222" stroke="#222" stroke-width="0.1" textLength="32.00" lengthAdjust="spacingAndGlyphs">25mg/kg</text>
<text x="158.00" y="90.60" font-size="9.20" text-anchor="start" fill="#222" stroke="#222" stroke-width="0.1" textLength="32.00" lengthAdjust="spacingAndGlyphs">50mg/kg</text>
<text x="214.60" y="90.60" font-size="9.20" text-anchor="start" fill="#222" stroke="#222" stroke-width="0.1" textLength="32.40" lengthAdjust="spacingAndGlyphs">75mg/kg</text>
<text x="47.50" y="146.20" font-size="9.20" text-anchor="start" fill="#222" stroke="#222" stroke-width="0.1" textLength="25.00" lengthAdjust="spacingAndGlyphs">Vehicle</text>
<text x="101.50" y="146.20" font-size="9.20" text-anchor="start" fill="#222" stroke="#222" stroke-width="0.1" textLength="32.00" lengthAdjust="spacingAndGlyphs">25mg/kg</text>
<text x="159.60" y="146.20" font-size="9.20" text-anchor="start" fill="#222" stroke="#222" stroke-width="0.1" textLength="31.60" lengthAdjust="spacingAndGlyphs">50mg/kg</text>
<text x="216.50" y="146.20" font-size="9.20" text-anchor="start" fill="#222" stroke="#222" stroke-width="0.1" textLength="32.00" lengthAdjust="spacingAndGlyphs">75mg/kg</text>
<text x="38.75" y="101.60" font-size="8.60" text-anchor="start" fill="#d0304f" stroke="#d0304f" stroke-width="0.15" textLength="22.00" lengthAdjust="spacingAndGlyphs">70.2%</text>
<text x="118.60" y="101.60" font-size="8.60" text-anchor="start" fill="#d0304f" stroke="#d0304f" stroke-width="0.15" textLength="21.90" lengthAdjust="spacingAndGlyphs">31.2%</text>
<text x="177.50" y="101.60" font-size="8.60" text-anchor="start" fill="#d0304f" stroke="#d0304f" stroke-width="0.15" textLength="20.20" lengthAdjust="spacingAndGlyphs">15.7%</text>
<text x="235.90" y="101.60" font-size="8.60" text-anchor="start" fill="#d0304f" stroke="#d0304f" stroke-width="0.15" textLength="17.30" lengthAdjust="spacingAndGlyphs">6.6%</text>
<text x="39.00" y="157.80" font-size="8.60" text-anchor="start" fill="#d0304f" stroke="#d0304f" stroke-width="0.15" textLength="22.10" lengthAdjust="spacingAndGlyphs">64.0%</text>
<text x="120.90" y="157.80" font-size="8.60" text-anchor="start" fill="#d0304f" stroke="#d0304f" stroke-width="0.15" textLength="21.50" lengthAdjust="spacingAndGlyphs">47.4%</text>
<text x="176.60" y="157.80" font-size="8.60" text-anchor="start" fill="#d0304f" stroke="#d0304f" stroke-width="0.15" textLength="21.90" lengthAdjust="spacingAndGlyphs">32.5%</text>
<text x="234.10" y="157.80" font-size="8.60" text-anchor="start" fill="#d0304f" stroke="#d0304f" stroke-width="0.15" textLength="21.70" lengthAdjust="spacingAndGlyphs">14.3%</text>
<text x="26.80" y="114.50" font-size="9.70" text-anchor="middle" fill="#222" stroke="#222" stroke-width="0.05" textLength="17.00" lengthAdjust="spacingAndGlyphs" transform="rotate(-90 26.80 114.50)">6 hrs</text>
<text x="26.80" y="173.40" font-size="9.70" text-anchor="middle" fill="#222" stroke="#222" stroke-width="0.05" textLength="20.70" lengthAdjust="spacingAndGlyphs" transform="rotate(-90 26.80 173.40)">24 hrs</text>
<line x1="37.00" y1="198.50" x2="250.00" y2="198.50" stroke="#111" stroke-width="1.3"/>
<path d="M249,195.8 L255,198.5 L249,201.2 Z" fill="#111" stroke="none" stroke-width="1"/>
<line x1="51.25" y1="210.65" x2="51.25" y2="309.75" stroke="#151515" stroke-width="1.35"/>
<line x1="50.65" y1="309.75" x2="251.50" y2="309.75" stroke="#151515" stroke-width="1.4"/>
<line x1="47.95" y1="309.75" x2="51.25" y2="309.75" stroke="#151515" stroke-width="1.2"/>
<text x="44.65" y="312.65" font-size="8.37" text-anchor="end" fill="#222" stroke="#222" stroke-width="0.12" textLength="3.90" lengthAdjust="spacingAndGlyphs">0</text>
<line x1="47.95" y1="290.05" x2="51.25" y2="290.05" stroke="#151515" stroke-width="1.2"/>
<text x="44.65" y="292.95" font-size="8.37" text-anchor="end" fill="#222" stroke="#222" stroke-width="0.12" textLength="7.90" lengthAdjust="spacingAndGlyphs">20</text>
<line x1="47.95" y1="270.35" x2="51.25" y2="270.35" stroke="#151515" stroke-width="1.2"/>
<text x="44.65" y="273.25" font-size="8.37" text-anchor="end" fill="#222" stroke="#222" stroke-width="0.12" textLength="7.90" lengthAdjust="spacingAndGlyphs">40</text>
<line x1="47.95" y1="250.65" x2="51.25" y2="250.65" stroke="#151515" stroke-width="1.2"/>
<text x="44.65" y="253.55" font-size="8.37" text-anchor="end" fill="#222" stroke="#222" stroke-width="0.12" textLength="7.90" lengthAdjust="spacingAndGlyphs">60</text>
<line x1="47.95" y1="230.95" x2="51.25" y2="230.95" stroke="#151515" stroke-width="1.2"/>
<text x="44.65" y="233.85" font-size="8.37" text-anchor="end" fill="#222" stroke="#222" stroke-width="0.12" textLength="7.90" lengthAdjust="spacingAndGlyphs">80</text>
<line x1="47.95" y1="211.25" x2="51.25" y2="211.25" stroke="#151515" stroke-width="1.2"/>
<text x="44.65" y="214.15" font-size="8.37" text-anchor="end" fill="#222" stroke="#222" stroke-width="0.12" textLength="12.70" lengthAdjust="spacingAndGlyphs">100</text>
<text x="28.85" y="259.50" font-size="9.54" text-anchor="middle" fill="#222" stroke="#222" stroke-width="0.1" textLength="83.50" lengthAdjust="spacingAndGlyphs" transform="rotate(-90 28.85 259.50)">Relative p-HCK levels (%)</text>
<line x1="67.20" y1="245.00" x2="67.20" y2="238.20" stroke="#333" stroke-width="1"/>
<line x1="65.70" y1="238.20" x2="68.70" y2="238.20" stroke="#333" stroke-width="1"/>
<rect x="59.50" y="245.00" width="15.40" height="64.75" fill="#c8102e" stroke="none" stroke-width="1"/>
<line x1="67.20" y1="309.75" x2="67.20" y2="312.35" stroke="#222" stroke-width="1"/>
<line x1="91.25" y1="273.80" x2="91.25" y2="266.20" stroke="#333" stroke-width="1"/>
<line x1="89.75" y1="266.20" x2="92.75" y2="266.20" stroke="#333" stroke-width="1"/>
<rect x="83.60" y="273.80" width="15.30" height="35.95" fill="#0e4c84" stroke="none" stroke-width="1"/>
<line x1="91.25" y1="309.75" x2="91.25" y2="312.35" stroke="#222" stroke-width="1"/>
<line x1="115.20" y1="296.20" x2="115.20" y2="287.20" stroke="#333" stroke-width="1"/>
<line x1="113.70" y1="287.20" x2="116.70" y2="287.20" stroke="#333" stroke-width="1"/>
<rect x="107.60" y="296.20" width="15.20" height="13.55" fill="#3cb44b" stroke="none" stroke-width="1"/>
<line x1="115.20" y1="309.75" x2="115.20" y2="312.35" stroke="#222" stroke-width="1"/>
<line x1="139.05" y1="291.50" x2="139.05" y2="279.40" stroke="#333" stroke-width="1"/>
<line x1="137.55" y1="279.40" x2="140.55" y2="279.40" stroke="#333" stroke-width="1"/>
<rect x="131.40" y="291.50" width="15.30" height="18.25" fill="#5a2a7e" stroke="none" stroke-width="1"/>
<line x1="139.05" y1="309.75" x2="139.05" y2="312.35" stroke="#222" stroke-width="1"/>
<line x1="163.20" y1="247.10" x2="163.20" y2="245.20" stroke="#333" stroke-width="1"/>
<line x1="161.70" y1="245.20" x2="164.70" y2="245.20" stroke="#333" stroke-width="1"/>
<rect x="155.50" y="247.10" width="15.40" height="62.65" fill="#c8102e" stroke="none" stroke-width="1"/>
<line x1="163.20" y1="309.75" x2="163.20" y2="312.35" stroke="#222" stroke-width="1"/>
<line x1="187.05" y1="267.90" x2="187.05" y2="257.90" stroke="#333" stroke-width="1"/>
<line x1="185.55" y1="257.90" x2="188.55" y2="257.90" stroke="#333" stroke-width="1"/>
<rect x="179.50" y="267.90" width="15.10" height="41.85" fill="#0e4c84" stroke="none" stroke-width="1"/>
<line x1="187.05" y1="309.75" x2="187.05" y2="312.35" stroke="#222" stroke-width="1"/>
<line x1="211.00" y1="274.00" x2="211.00" y2="267.30" stroke="#333" stroke-width="1"/>
<line x1="209.50" y1="267.30" x2="212.50" y2="267.30" stroke="#333" stroke-width="1"/>
<rect x="203.50" y="274.00" width="15.00" height="35.75" fill="#3cb44b" stroke="none" stroke-width="1"/>
<line x1="211.00" y1="309.75" x2="211.00" y2="312.35" stroke="#222" stroke-width="1"/>
<line x1="235.10" y1="284.00" x2="235.10" y2="272.20" stroke="#333" stroke-width="1"/>
<line x1="233.60" y1="272.20" x2="236.60" y2="272.20" stroke="#333" stroke-width="1"/>
<rect x="227.40" y="284.00" width="15.40" height="25.75" fill="#5a2a7e" stroke="none" stroke-width="1"/>
<line x1="235.10" y1="309.75" x2="235.10" y2="312.35" stroke="#222" stroke-width="1"/>
<text x="91.25" y="262.20" font-size="9.12" text-anchor="middle" fill="#222" stroke="#222" stroke-width="0.15" textLength="6.30" lengthAdjust="spacingAndGlyphs">**</text>
<text x="115.20" y="277.30" font-size="9.12" text-anchor="middle" fill="#222" stroke="#222" stroke-width="0.15" textLength="6.30" lengthAdjust="spacingAndGlyphs">**</text>
<text x="139.05" y="277.20" font-size="9.12" text-anchor="middle" fill="#222" stroke="#222" stroke-width="0.15" textLength="6.30" lengthAdjust="spacingAndGlyphs">**</text>
<text x="211.00" y="263.20" font-size="9.12" text-anchor="middle" fill="#222" stroke="#222" stroke-width="0.15" textLength="3.20" lengthAdjust="spacingAndGlyphs">*</text>
<text x="235.10" y="269.10" font-size="9.12" text-anchor="middle" fill="#222" stroke="#222" stroke-width="0.15" textLength="6.30" lengthAdjust="spacingAndGlyphs">**</text>
<text x="134.80" y="208.20" font-size="8.69" text-anchor="start" fill="#222" stroke="#222" stroke-width="0.05" textLength="20.50" lengthAdjust="spacingAndGlyphs">p-HCK</text>
<text x="213.70" y="219.60" font-size="8.69" text-anchor="start" fill="#222" stroke="#222" stroke-width="0.05" textLength="20.50" lengthAdjust="spacingAndGlyphs">N = 3</text>
<text x="70.40" y="320.60" font-size="9.12" text-anchor="end" fill="#222" stroke="#222" stroke-width="0.03" textLength="23.50" lengthAdjust="spacingAndGlyphs" transform="rotate(-45 70.40 320.60)">Vehicle</text>
<text x="94.40" y="320.60" font-size="9.12" text-anchor="end" fill="#222" stroke="#222" stroke-width="0.03" textLength="31.00" lengthAdjust="spacingAndGlyphs" transform="rotate(-45 94.40 320.60)">25mg/kg</text>
<text x="118.40" y="320.60" font-size="9.12" text-anchor="end" fill="#222" stroke="#222" stroke-width="0.03" textLength="31.00" lengthAdjust="spacingAndGlyphs" transform="rotate(-45 118.40 320.60)">50mg/kg</text>
<text x="142.40" y="320.60" font-size="9.12" text-anchor="end" fill="#222" stroke="#222" stroke-width="0.03" textLength="31.00" lengthAdjust="spacingAndGlyphs" transform="rotate(-45 142.40 320.60)">75mg/kg</text>
<text x="166.40" y="320.60" font-size="9.12" text-anchor="end" fill="#222" stroke="#222" stroke-width="0.03" textLength="23.50" lengthAdjust="spacingAndGlyphs" transform="rotate(-45 166.40 320.60)">Vehicle</text>
<text x="190.40" y="320.60" font-size="9.12" text-anchor="end" fill="#222" stroke="#222" stroke-width="0.03" textLength="31.00" lengthAdjust="spacingAndGlyphs" transform="rotate(-45 190.40 320.60)">25mg/kg</text>
<text x="214.40" y="320.60" font-size="9.12" text-anchor="end" fill="#222" stroke="#222" stroke-width="0.03" textLength="31.00" lengthAdjust="spacingAndGlyphs" transform="rotate(-45 214.40 320.60)">50mg/kg</text>
<text x="238.40" y="320.60" font-size="9.12" text-anchor="end" fill="#222" stroke="#222" stroke-width="0.03" textLength="31.00" lengthAdjust="spacingAndGlyphs" transform="rotate(-45 238.40 320.60)">75mg/kg</text>
<line x1="62.20" y1="344.30" x2="149.00" y2="344.30" stroke="#333" stroke-width="1"/>
<line x1="157.50" y1="344.30" x2="244.00" y2="344.30" stroke="#333" stroke-width="1"/>
<text x="106.00" y="357.40" font-size="9.96" text-anchor="middle" fill="#222" stroke="#222" stroke-width="0.03" textLength="17.00" lengthAdjust="spacingAndGlyphs">6 hrs</text>
<text x="200.50" y="357.40" font-size="9.96" text-anchor="middle" fill="#222" stroke="#222" stroke-width="0.03" textLength="22.00" lengthAdjust="spacingAndGlyphs">24 hrs</text>
<path d="M292.70,76.30 L292.70,36.80 L336.70,36.80 L336.70,76.30" fill="none" stroke="#c8c8c8" stroke-width="0.8"/>
<line x1="292.70" y1="76.30" x2="336.70" y2="76.30" stroke="#555" stroke-width="0.8"/>
<line x1="292.70" y1="36.80" x2="292.70" y2="76.30" stroke="#888" stroke-width="0.7"/>
<line x1="290.50" y1="75.80" x2="292.70" y2="75.80" stroke="#777" stroke-width="0.6"/>
<line x1="290.50" y1="68.35" x2="292.70" y2="68.35" stroke="#777" stroke-width="0.6"/>
<line x1="290.50" y1="60.89" x2="292.70" y2="60.89" stroke="#777" stroke-width="0.6"/>
<line x1="290.50" y1="53.44" x2="292.70" y2="53.44" stroke="#777" stroke-width="0.6"/>
<line x1="290.50" y1="45.99" x2="292.70" y2="45.99" stroke="#777" stroke-width="0.6"/>
<line x1="290.50" y1="38.54" x2="292.70" y2="38.54" stroke="#777" stroke-width="0.6"/>
<line x1="301.50" y1="76.30" x2="301.50" y2="78.10" stroke="#666" stroke-width="0.6"/>
<rect x="300.50" y="78.90" width="2.00" height="0.70" fill="#d0d0d0" stroke="none" stroke-width="1"/>
<line x1="313.38" y1="76.30" x2="313.38" y2="78.10" stroke="#666" stroke-width="0.6"/>
<rect x="312.38" y="78.90" width="2.00" height="0.70" fill="#d0d0d0" stroke="none" stroke-width="1"/>
<line x1="325.26" y1="76.30" x2="325.26" y2="78.10" stroke="#666" stroke-width="0.6"/>
<rect x="324.26" y="78.90" width="2.00" height="0.70" fill="#d0d0d0" stroke="none" stroke-width="1"/>
<line x1="334.50" y1="76.30" x2="334.50" y2="78.10" stroke="#666" stroke-width="0.6"/>
<rect x="333.50" y="78.90" width="2.00" height="0.70" fill="#d0d0d0" stroke="none" stroke-width="1"/>
<rect x="309.20" y="82.30" width="11.00" height="0.80" fill="#d0d0d0" stroke="none" stroke-width="1"/>
<circle cx="313.79" cy="49.16" r="0.4" fill="#6d86ff" opacity="0.4"/><circle cx="294.88" cy="65.72" r="0.4" fill="#6d86ff" opacity="0.4"/><circle cx="294.25" cy="66.69" r="0.4" fill="#6d86ff" opacity="0.4"/><circle cx="316.87" cy="45.64" r="0.4" fill="#6d86ff" opacity="0.4"/><circle cx="316.33" cy="44.05" r="0.4" fill="#6d86ff" opacity="0.4"/><circle cx="296.59" cy="56.15" r="0.4" fill="#6d86ff" opacity="0.4"/><circle cx="317.93" cy="48.22" r="0.4" fill="#6d86ff" opacity="0.4"/><circle cx="294.36" cy="66.67" r="0.4" fill="#6d86ff" opacity="0.4"/><circle cx="295.17" cy="62.69" r="0.4" fill="#6d86ff" opacity="0.4"/><circle cx="330.23" cy="44.99" r="0.4" fill="#6d86ff" opacity="0.4"/><circle cx="322.01" cy="45.75" r="0.4" fill="#6d86ff" opacity="0.4"/><circle cx="294.57" cy="66.70" r="0.4" fill="#6d86ff" opacity="0.4"/><circle cx="323.57" cy="44.03" r="0.4" fill="#6d86ff" opacity="0.4"/><circle cx="320.28" cy="44.49" r="0.4" fill="#6d86ff" opacity="0.4"/><circle cx="328.30" cy="40.22" r="0.4" fill="#6d86ff" opacity="0.4"/><circle cx="318.09" cy="43.11" r="0.4" fill="#6d86ff" opacity="0.4"/><circle cx="325.43" cy="49.69" r="0.4" fill="#6d86ff" opacity="0.4"/><circle cx="295.64" cy="64.33" r="0.4" fill="#6d86ff" opacity="0.4"/><circle cx="294.94" cy="61.71" r="0.4" fill="#6d86ff" opacity="0.4"/><circle cx="324.50" cy="39.77" r="0.4" fill="#6d86ff" opacity="0.4"/><circle cx="330.53" cy="45.06" r="0.4" fill="#6d86ff" opacity="0.4"/><circle cx="320.34" cy="42.40" r="0.4" fill="#6d86ff" opacity="0.4"/><circle cx="331.81" cy="40.67" r="0.4" fill="#6d86ff" opacity="0.4"/><circle cx="326.35" cy="44.68" r="0.4" fill="#6d86ff" opacity="0.4"/><circle cx="326.39" cy="43.12" r="0.4" fill="#6d86ff" opacity="0.4"/><circle cx="296.58" cy="55.60" r="0.4" fill="#6d86ff" opacity="0.4"/><circle cx="294.24" cy="68.74" r="0.4" fill="#6d86ff" opacity="0.4"/><circle cx="295.73" cy="64.17" r="0.4" fill="#6d86ff" opacity="0.4"/><circle cx="294.56" cy="63.90" r="0.4" fill="#6d86ff" opacity="0.4"/><circle cx="332.72" cy="42.78" r="0.4" fill="#6d86ff" opacity="0.4"/><circle cx="322.31" cy="40.94" r="0.4" fill="#6d86ff" opacity="0.4"/><circle cx="330.76" cy="44.12" r="0.4" fill="#6d86ff" opacity="0.4"/><circle cx="316.53" cy="41.45" r="0.4" fill="#6d86ff" opacity="0.4"/><circle cx="294.97" cy="62.40" r="0.4" fill="#6d86ff" opacity="0.4"/><circle cx="296.37" cy="57.48" r="0.4" fill="#6d86ff" opacity="0.4"/><circle cx="296.36" cy="55.81" r="0.4" fill="#6d86ff" opacity="0.4"/><circle cx="310.68" cy="43.10" r="0.4" fill="#6d86ff" opacity="0.4"/><circle cx="323.02" cy="42.60" r="0.4" fill="#6d86ff" opacity="0.4"/><circle cx="327.63" cy="44.93" r="0.4" fill="#6d86ff" opacity="0.4"/><circle cx="330.05" cy="38.89" r="0.4" fill="#6d86ff" opacity="0.4"/><circle cx="314.30" cy="46.23" r="0.4" fill="#6d86ff" opacity="0.4"/><circle cx="323.68" cy="43.80" r="0.4" fill="#6d86ff" opacity="0.4"/><circle cx="295.51" cy="59.44" r="0.4" fill="#6d86ff" opacity="0.4"/><circle cx="294.44" cy="67.00" r="0.4" fill="#6d86ff" opacity="0.4"/><circle cx="294.46" cy="64.56" r="0.4" fill="#6d86ff" opacity="0.4"/><circle cx="330.75" cy="40.41" r="0.4" fill="#6d86ff" opacity="0.4"/><circle cx="295.89" cy="57.13" r="0.4" fill="#6d86ff" opacity="0.4"/><circle cx="295.97" cy="60.68" r="0.4" fill="#6d86ff" opacity="0.4"/><circle cx="316.76" cy="44.99" r="0.4" fill="#6d86ff" opacity="0.4"/><circle cx="294.69" cy="65.01" r="0.4" fill="#6d86ff" opacity="0.4"/><circle cx="330.00" cy="42.24" r="0.4" fill="#6d86ff" opacity="0.4"/><circle cx="333.19" cy="40.46" r="0.4" fill="#6d86ff" opacity="0.4"/><circle cx="321.85" cy="44.75" r="0.4" fill="#6d86ff" opacity="0.4"/><circle cx="336.48" cy="37.45" r="0.4" fill="#6d86ff" opacity="0.4"/><circle cx="295.84" cy="56.32" r="0.4" fill="#6d86ff" opacity="0.4"/><circle cx="325.33" cy="41.34" r="0.4" fill="#6d86ff" opacity="0.4"/><circle cx="313.18" cy="50.73" r="0.4" fill="#6d86ff" opacity="0.4"/><circle cx="329.40" cy="40.00" r="0.4" fill="#6d86ff" opacity="0.4"/><circle cx="318.94" cy="44.93" r="0.4" fill="#6d86ff" opacity="0.4"/><circle cx="293.92" cy="69.07" r="0.4" fill="#6d86ff" opacity="0.4"/><circle cx="326.73" cy="42.17" r="0.4" fill="#6d86ff" opacity="0.4"/><circle cx="314.11" cy="47.58" r="0.4" fill="#6d86ff" opacity="0.4"/><circle cx="295.36" cy="60.65" r="0.4" fill="#6d86ff" opacity="0.4"/><circle cx="333.20" cy="38.65" r="0.4" fill="#6d86ff" opacity="0.4"/><circle cx="324.00" cy="42.23" r="0.4" fill="#6d86ff" opacity="0.4"/><circle cx="326.27" cy="40.77" r="0.4" fill="#6d86ff" opacity="0.4"/><circle cx="326.20" cy="42.67" r="0.4" fill="#6d86ff" opacity="0.4"/><circle cx="327.14" cy="46.16" r="0.4" fill="#6d86ff" opacity="0.4"/><circle cx="333.52" cy="42.15" r="0.4" fill="#6d86ff" opacity="0.4"/><circle cx="333.73" cy="39.19" r="0.4" fill="#6d86ff" opacity="0.4"/><circle cx="295.54" cy="64.79" r="0.4" fill="#6d86ff" opacity="0.4"/><circle cx="330.77" cy="45.83" r="0.4" fill="#6d86ff" opacity="0.4"/><circle cx="334.26" cy="38.45" r="0.4" fill="#6d86ff" opacity="0.4"/><circle cx="320.40" cy="44.49" r="0.4" fill="#6d86ff" opacity="0.4"/><circle cx="333.62" cy="37.98" r="0.4" fill="#6d86ff" opacity="0.4"/><circle cx="330.64" cy="43.00" r="0.4" fill="#6d86ff" opacity="0.4"/><circle cx="330.02" cy="43.71" r="0.4" fill="#6d86ff" opacity="0.4"/><circle cx="295.81" cy="55.50" r="0.4" fill="#6d86ff" opacity="0.4"/><circle cx="295.87" cy="56.23" r="0.4" fill="#6d86ff" opacity="0.4"/><circle cx="331.61" cy="43.36" r="0.4" fill="#6d86ff" opacity="0.4"/><circle cx="322.71" cy="42.33" r="0.4" fill="#6d86ff" opacity="0.4"/><circle cx="331.03" cy="40.97" r="0.4" fill="#6d86ff" opacity="0.4"/><circle cx="320.97" cy="44.71" r="0.4" fill="#6d86ff" opacity="0.4"/><circle cx="296.38" cy="60.08" r="0.4" fill="#6d86ff" opacity="0.4"/><circle cx="296.13" cy="60.87" r="0.4" fill="#6d86ff" opacity="0.4"/><circle cx="319.66" cy="46.89" r="0.4" fill="#6d86ff" opacity="0.4"/><circle cx="320.61" cy="42.91" r="0.4" fill="#6d86ff" opacity="0.4"/><circle cx="320.64" cy="46.16" r="0.4" fill="#6d86ff" opacity="0.4"/><circle cx="325.97" cy="42.09" r="0.4" fill="#6d86ff" opacity="0.4"/><circle cx="328.86" cy="40.89" r="0.4" fill="#6d86ff" opacity="0.4"/><circle cx="320.62" cy="43.51" r="0.4" fill="#6d86ff" opacity="0.4"/><circle cx="323.40" cy="43.88" r="0.4" fill="#6d86ff" opacity="0.4"/><circle cx="319.97" cy="43.33" r="0.4" fill="#6d86ff" opacity="0.4"/><circle cx="332.55" cy="40.64" r="0.4" fill="#6d86ff" opacity="0.4"/><circle cx="323.29" cy="42.34" r="0.4" fill="#6d86ff" opacity="0.4"/><circle cx="295.23" cy="63.23" r="0.4" fill="#6d86ff" opacity="0.4"/><circle cx="294.15" cy="66.32" r="0.4" fill="#6d86ff" opacity="0.4"/><circle cx="325.04" cy="37.71" r="0.4" fill="#6d86ff" opacity="0.4"/><circle cx="294.98" cy="60.13" r="0.4" fill="#6d86ff" opacity="0.4"/><circle cx="296.20" cy="60.42" r="0.4" fill="#6d86ff" opacity="0.4"/><circle cx="295.98" cy="57.79" r="0.4" fill="#6d86ff" opacity="0.4"/><circle cx="320.95" cy="44.38" r="0.4" fill="#6d86ff" opacity="0.4"/><circle cx="295.66" cy="61.69" r="0.4" fill="#6d86ff" opacity="0.4"/><circle cx="313.48" cy="48.11" r="0.4" fill="#6d86ff" opacity="0.4"/><circle cx="328.07" cy="43.09" r="0.4" fill="#6d86ff" opacity="0.4"/><circle cx="317.85" cy="45.36" r="0.4" fill="#6d86ff" opacity="0.4"/><circle cx="322.26" cy="43.45" r="0.4" fill="#6d86ff" opacity="0.4"/><circle cx="294.39" cy="64.49" r="0.4" fill="#6d86ff" opacity="0.4"/><circle cx="328.02" cy="43.55" r="0.4" fill="#6d86ff" opacity="0.4"/><circle cx="318.25" cy="42.71" r="0.4" fill="#6d86ff" opacity="0.4"/><circle cx="296.56" cy="57.82" r="0.4" fill="#6d86ff" opacity="0.4"/><circle cx="320.78" cy="42.91" r="0.4" fill="#6d86ff" opacity="0.4"/><circle cx="294.34" cy="65.76" r="0.4" fill="#6d86ff" opacity="0.4"/><circle cx="295.18" cy="65.40" r="0.4" fill="#6d86ff" opacity="0.4"/><circle cx="331.45" cy="44.57" r="0.4" fill="#6d86ff" opacity="0.4"/><circle cx="294.66" cy="65.41" r="0.4" fill="#6d86ff" opacity="0.4"/><circle cx="309.80" cy="44.02" r="0.4" fill="#6d86ff" opacity="0.4"/><circle cx="296.24" cy="56.40" r="0.4" fill="#6d86ff" opacity="0.4"/><circle cx="295.72" cy="57.46" r="0.4" fill="#6d86ff" opacity="0.4"/><circle cx="294.18" cy="67.94" r="0.4" fill="#6d86ff" opacity="0.4"/><circle cx="311.95" cy="44.11" r="0.4" fill="#6d86ff" opacity="0.4"/><circle cx="319.17" cy="46.74" r="0.4" fill="#6d86ff" opacity="0.4"/><circle cx="293.73" cy="69.01" r="0.4" fill="#6d86ff" opacity="0.4"/><circle cx="325.63" cy="42.06" r="0.4" fill="#6d86ff" opacity="0.4"/><circle cx="318.34" cy="44.31" r="0.4" fill="#6d86ff" opacity="0.4"/><circle cx="327.89" cy="43.11" r="0.4" fill="#6d86ff" opacity="0.4"/><circle cx="328.63" cy="43.64" r="0.4" fill="#6d86ff" opacity="0.4"/><circle cx="326.36" cy="42.71" r="0.4" fill="#6d86ff" opacity="0.4"/><circle cx="329.38" cy="38.18" r="0.4" fill="#6d86ff" opacity="0.4"/><circle cx="315.00" cy="46.11" r="0.4" fill="#6d86ff" opacity="0.4"/><circle cx="295.74" cy="63.58" r="0.4" fill="#6d86ff" opacity="0.4"/><circle cx="295.65" cy="56.53" r="0.4" fill="#6d86ff" opacity="0.4"/><circle cx="331.79" cy="38.85" r="0.4" fill="#6d86ff" opacity="0.4"/><circle cx="295.70" cy="55.60" r="0.4" fill="#6d86ff" opacity="0.4"/><circle cx="318.06" cy="47.29" r="0.4" fill="#6d86ff" opacity="0.4"/><circle cx="297.61" cy="55.12" r="0.4" fill="#6d86ff" opacity="0.4"/><circle cx="320.31" cy="50.93" r="0.4" fill="#6d86ff" opacity="0.4"/><circle cx="311.98" cy="46.31" r="0.4" fill="#6d86ff" opacity="0.4"/><circle cx="312.75" cy="46.09" r="0.4" fill="#6d86ff" opacity="0.4"/><circle cx="295.15" cy="59.08" r="0.4" fill="#6d86ff" opacity="0.4"/><circle cx="296.22" cy="56.25" r="0.4" fill="#6d86ff" opacity="0.4"/><circle cx="294.58" cy="67.70" r="0.4" fill="#6d86ff" opacity="0.4"/><circle cx="296.15" cy="56.75" r="0.4" fill="#6d86ff" opacity="0.4"/><circle cx="325.84" cy="38.99" r="0.4" fill="#6d86ff" opacity="0.4"/><circle cx="330.53" cy="42.81" r="0.4" fill="#6d86ff" opacity="0.4"/><circle cx="336.60" cy="43.80" r="0.4" fill="#6d86ff" opacity="0.4"/><circle cx="326.21" cy="44.70" r="0.4" fill="#6d86ff" opacity="0.4"/><circle cx="330.29" cy="38.19" r="0.4" fill="#6d86ff" opacity="0.4"/><circle cx="330.43" cy="44.34" r="0.4" fill="#6d86ff" opacity="0.4"/><circle cx="320.09" cy="40.50" r="0.4" fill="#6d86ff" opacity="0.4"/><circle cx="327.01" cy="39.02" r="0.4" fill="#6d86ff" opacity="0.4"/><circle cx="324.45" cy="41.26" r="0.4" fill="#6d86ff" opacity="0.4"/><circle cx="294.34" cy="68.84" r="0.4" fill="#6d86ff" opacity="0.4"/><circle cx="294.89" cy="63.11" r="0.4" fill="#6d86ff" opacity="0.4"/><circle cx="321.35" cy="40.69" r="0.4" fill="#6d86ff" opacity="0.4"/><circle cx="320.87" cy="44.77" r="0.4" fill="#6d86ff" opacity="0.4"/><circle cx="325.21" cy="42.40" r="0.4" fill="#6d86ff" opacity="0.4"/><circle cx="326.26" cy="44.93" r="0.4" fill="#6d86ff" opacity="0.4"/><circle cx="296.01" cy="56.70" r="0.4" fill="#6d86ff" opacity="0.4"/><circle cx="327.10" cy="46.72" r="0.4" fill="#6d86ff" opacity="0.4"/><circle cx="333.40" cy="40.61" r="0.4" fill="#6d86ff" opacity="0.4"/><circle cx="316.80" cy="40.71" r="0.4" fill="#6d86ff" opacity="0.4"/><circle cx="322.19" cy="42.77" r="0.4" fill="#6d86ff" opacity="0.4"/><circle cx="294.71" cy="63.59" r="0.4" fill="#6d86ff" opacity="0.4"/><circle cx="311.64" cy="46.09" r="0.4" fill="#6d86ff" opacity="0.4"/><circle cx="294.19" cy="68.05" r="0.4" fill="#6d86ff" opacity="0.4"/><circle cx="324.59" cy="41.01" r="0.4" fill="#6d86ff" opacity="0.4"/><circle cx="317.48" cy="45.09" r="0.4" fill="#6d86ff" opacity="0.4"/><circle cx="294.89" cy="63.07" r="0.4" fill="#6d86ff" opacity="0.4"/><circle cx="335.21" cy="40.30" r="0.4" fill="#6d86ff" opacity="0.4"/><circle cx="318.82" cy="38.76" r="0.4" fill="#6d86ff" opacity="0.4"/><circle cx="316.70" cy="46.79" r="0.4" fill="#6d86ff" opacity="0.4"/><circle cx="334.32" cy="44.09" r="0.4" fill="#6d86ff" opacity="0.4"/><circle cx="296.59" cy="61.87" r="0.4" fill="#6d86ff" opacity="0.4"/><circle cx="294.98" cy="61.65" r="0.4" fill="#6d86ff" opacity="0.4"/><circle cx="331.51" cy="39.46" r="0.4" fill="#6d86ff" opacity="0.4"/><circle cx="331.86" cy="41.23" r="0.4" fill="#6d86ff" opacity="0.4"/><circle cx="294.50" cy="69.67" r="0.4" fill="#6d86ff" opacity="0.4"/><circle cx="312.64" cy="48.13" r="0.4" fill="#6d86ff" opacity="0.4"/><circle cx="312.30" cy="46.03" r="0.4" fill="#6d86ff" opacity="0.4"/><circle cx="327.56" cy="41.32" r="0.4" fill="#6d86ff" opacity="0.4"/><circle cx="296.28" cy="55.06" r="0.4" fill="#6d86ff" opacity="0.4"/><circle cx="334.46" cy="39.00" r="0.4" fill="#6d86ff" opacity="0.4"/><circle cx="316.02" cy="46.01" r="0.4" fill="#6d86ff" opacity="0.4"/><circle cx="294.68" cy="63.67" r="0.4" fill="#6d86ff" opacity="0.4"/><circle cx="333.50" cy="42.90" r="0.4" fill="#6d86ff" opacity="0.4"/><circle cx="319.47" cy="46.83" r="0.4" fill="#6d86ff" opacity="0.4"/><circle cx="336.25" cy="37.52" r="0.4" fill="#6d86ff" opacity="0.4"/><circle cx="326.10" cy="40.27" r="0.4" fill="#6d86ff" opacity="0.4"/><circle cx="320.15" cy="43.35" r="0.4" fill="#6d86ff" opacity="0.4"/><circle cx="324.13" cy="43.91" r="0.4" fill="#6d86ff" opacity="0.4"/><circle cx="323.40" cy="44.15" r="0.4" fill="#6d86ff" opacity="0.4"/><circle cx="334.37" cy="43.04" r="0.4" fill="#6d86ff" opacity="0.4"/><circle cx="312.47" cy="50.00" r="0.4" fill="#6d86ff" opacity="0.4"/><circle cx="334.75" cy="44.29" r="0.4" fill="#6d86ff" opacity="0.4"/><circle cx="310.32" cy="45.38" r="0.4" fill="#6d86ff" opacity="0.4"/><circle cx="295.11" cy="61.46" r="0.4" fill="#6d86ff" opacity="0.4"/><circle cx="331.42" cy="41.14" r="0.4" fill="#6d86ff" opacity="0.4"/><circle cx="334.13" cy="41.04" r="0.4" fill="#6d86ff" opacity="0.4"/><circle cx="294.75" cy="62.76" r="0.4" fill="#6d86ff" opacity="0.4"/><circle cx="314.07" cy="46.98" r="0.4" fill="#6d86ff" opacity="0.4"/><circle cx="297.01" cy="55.14" r="0.4" fill="#6d86ff" opacity="0.4"/><circle cx="325.79" cy="43.85" r="0.4" fill="#6d86ff" opacity="0.4"/><circle cx="318.41" cy="46.03" r="0.4" fill="#6d86ff" opacity="0.4"/><circle cx="294.42" cy="69.07" r="0.4" fill="#6d86ff" opacity="0.4"/><circle cx="295.65" cy="63.06" r="0.4" fill="#6d86ff" opacity="0.4"/><circle cx="331.25" cy="43.50" r="0.4" fill="#6d86ff" opacity="0.4"/><circle cx="296.12" cy="57.19" r="0.4" fill="#6d86ff" opacity="0.4"/><circle cx="294.99" cy="68.95" r="0.4" fill="#6d86ff" opacity="0.4"/><circle cx="330.16" cy="41.77" r="0.4" fill="#6d86ff" opacity="0.4"/><circle cx="295.02" cy="71.23" r="0.4" fill="#6d86ff" opacity="0.4"/><circle cx="295.78" cy="56.91" r="0.4" fill="#6d86ff" opacity="0.4"/><circle cx="317.84" cy="38.75" r="0.4" fill="#6d86ff" opacity="0.4"/><circle cx="324.63" cy="39.15" r="0.4" fill="#6d86ff" opacity="0.4"/><circle cx="316.69" cy="44.72" r="0.4" fill="#6d86ff" opacity="0.4"/><circle cx="328.60" cy="47.97" r="0.4" fill="#6d86ff" opacity="0.4"/><circle cx="323.29" cy="44.62" r="0.4" fill="#6d86ff" opacity="0.4"/><circle cx="296.26" cy="55.20" r="0.4" fill="#6d86ff" opacity="0.4"/><circle cx="295.30" cy="64.34" r="0.4" fill="#6d86ff" opacity="0.4"/><circle cx="320.59" cy="45.07" r="0.4" fill="#6d86ff" opacity="0.4"/><circle cx="323.29" cy="43.86" r="0.4" fill="#6d86ff" opacity="0.4"/><circle cx="319.30" cy="43.97" r="0.4" fill="#6d86ff" opacity="0.4"/><circle cx="330.63" cy="41.59" r="0.4" fill="#6d86ff" opacity="0.4"/><circle cx="296.62" cy="56.24" r="0.4" fill="#6d86ff" opacity="0.4"/><circle cx="313.70" cy="46.65" r="0.4" fill="#6d86ff" opacity="0.4"/><circle cx="323.52" cy="44.06" r="0.4" fill="#6d86ff" opacity="0.4"/><circle cx="325.25" cy="42.31" r="0.4" fill="#6d86ff" opacity="0.4"/><circle cx="294.29" cy="68.87" r="0.4" fill="#6d86ff" opacity="0.4"/><circle cx="325.68" cy="47.42" r="0.4" fill="#6d86ff" opacity="0.4"/><circle cx="325.74" cy="42.48" r="0.4" fill="#6d86ff" opacity="0.4"/><circle cx="333.62" cy="45.02" r="0.4" fill="#6d86ff" opacity="0.4"/><circle cx="295.53" cy="59.15" r="0.4" fill="#6d86ff" opacity="0.4"/><circle cx="296.66" cy="53.72" r="0.4" fill="#6d86ff" opacity="0.4"/><circle cx="295.11" cy="60.83" r="0.4" fill="#6d86ff" opacity="0.4"/><circle cx="325.02" cy="42.71" r="0.4" fill="#6d86ff" opacity="0.4"/><circle cx="315.84" cy="52.34" r="0.4" fill="#6d86ff" opacity="0.4"/><circle cx="294.91" cy="62.34" r="0.4" fill="#6d86ff" opacity="0.4"/><circle cx="317.40" cy="42.28" r="0.4" fill="#6d86ff" opacity="0.4"/><circle cx="330.01" cy="42.50" r="0.4" fill="#6d86ff" opacity="0.4"/><circle cx="314.09" cy="51.65" r="0.4" fill="#6d86ff" opacity="0.4"/><circle cx="329.17" cy="43.24" r="0.4" fill="#6d86ff" opacity="0.4"/><circle cx="313.45" cy="47.29" r="0.4" fill="#6d86ff" opacity="0.4"/><circle cx="295.49" cy="60.79" r="0.4" fill="#6d86ff" opacity="0.4"/><circle cx="314.21" cy="45.49" r="0.4" fill="#6d86ff" opacity="0.4"/><circle cx="334.85" cy="42.96" r="0.4" fill="#6d86ff" opacity="0.4"/><circle cx="330.28" cy="39.34" r="0.4" fill="#6d86ff" opacity="0.4"/><circle cx="294.72" cy="67.33" r="0.4" fill="#6d86ff" opacity="0.4"/><circle cx="333.44" cy="43.31" r="0.4" fill="#6d86ff" opacity="0.4"/><circle cx="333.68" cy="41.69" r="0.4" fill="#6d86ff" opacity="0.4"/><circle cx="329.29" cy="41.17" r="0.4" fill="#6d86ff" opacity="0.4"/><circle cx="295.52" cy="68.80" r="0.4" fill="#6d86ff" opacity="0.4"/><circle cx="295.51" cy="53.95" r="0.4" fill="#6d86ff" opacity="0.4"/><circle cx="312.51" cy="52.44" r="0.4" fill="#6d86ff" opacity="0.4"/><circle cx="322.39" cy="47.70" r="0.4" fill="#6d86ff" opacity="0.4"/>
<g filter="url(#bl2)">
<path d="M293.50,62.80 C293.67,61.40 293.97,55.32 294.70,52.80 C295.43,50.28 297.16,46.41 298.70,44.80 C300.24,43.19 303.46,41.65 305.70,41.30 C307.94,40.95 312.04,42.37 314.70,42.30 C317.36,42.23 321.90,41.22 324.70,40.80 C327.50,40.38 333.30,39.02 334.70,39.30 C336.10,39.58 336.38,41.89 334.70,42.80 C333.02,43.71 325.78,44.96 322.70,45.80 C319.62,46.64 315.64,47.40 312.70,48.80 C309.76,50.20 304.08,53.70 301.70,55.80 C299.32,57.90 296.54,62.68 295.70,63.80 Z" fill="#8aa0ff" stroke="none" stroke-width="1" opacity="0.45"/>
</g>
<g filter="url(#bl05)">
<path d="M293.70,65.80 C293.80,64.96 294.09,61.76 294.40,59.80 C294.71,57.84 295.13,53.79 295.90,51.80 C296.67,49.81 298.53,46.86 299.90,45.60 C301.27,44.34 304.19,43.19 305.70,42.80 C307.21,42.41 309.51,42.48 310.70,42.80 C311.89,43.12 314.48,44.29 314.20,45.10 C313.92,45.91 310.52,47.45 308.70,48.60 C306.88,49.75 302.77,52.22 301.20,53.30 C299.63,54.38 298.35,55.32 297.50,56.30 C296.65,57.28 295.44,59.74 295.10,60.30 Z" fill="#2346ff" stroke="none" stroke-width="1"/>
<path d="M316.70,45.40 C317.54,45.11 321.02,43.83 322.70,43.30 C324.38,42.77 327.02,42.02 328.70,41.60 C330.38,41.18 333.86,40.20 334.70,40.30 C335.54,40.40 335.82,41.60 334.70,42.30 C333.58,43.00 328.94,44.60 326.70,45.30 C324.46,46.00 319.82,47.02 318.70,47.30 Z" fill="#7f95ff" stroke="none" stroke-width="1" opacity="0.35"/>
</g>
<g filter="url(#bl05)">
<path d="M296.50,52.80 C296.92,51.99 298.28,48.20 299.50,47.00 C300.72,45.80 303.63,44.58 305.20,44.20 C306.77,43.82 310.35,43.91 310.70,44.30 C311.05,44.69 309.10,45.98 307.70,47.00 C306.30,48.02 302.07,50.62 300.70,51.60 C299.33,52.58 298.29,53.66 297.90,54.00 Z" fill="#22c8a0" stroke="none" stroke-width="1"/>
<path d="M297.50,51.80 C297.98,51.21 299.75,48.48 300.90,47.60 C302.05,46.72 304.61,45.78 305.70,45.50 C306.79,45.22 308.84,45.25 308.70,45.60 C308.56,45.95 305.96,47.20 304.70,48.00 C303.44,48.80 300.40,50.84 299.70,51.30 Z" fill="#50d030" stroke="none" stroke-width="1"/>
<ellipse cx="301.50" cy="48.80" rx="3.2" ry="1.2" transform="rotate(-33 301.50 48.80)" fill="#f0d800"/>
<ellipse cx="302.20" cy="48.30" rx="1.3" ry="0.6" transform="rotate(-33 302.20 48.30)" fill="#f07800"/>
</g>
<path d="M294.70,54.60 L296.40,48.40 L300.20,44.50 L305.00,42.60 L310.30,43.10 L312.70,46.00 L312.30,47.40 L299.30,55.10 Z" fill="none" stroke="#333" stroke-width="0.6" stroke-linejoin="round"/>
<rect x="325.20" y="55.80" width="3.50" height="0.80" fill="#999" stroke="none" stroke-width="1"/>
<rect x="325.20" y="58.30" width="3.50" height="0.80" fill="#999" stroke="none" stroke-width="1"/>
<circle cx="292.10" cy="67.40" r="1.1" fill="#111"/>
<path d="M349.20,76.30 L349.20,36.60 L393.50,36.60 L393.50,76.30" fill="none" stroke="#c8c8c8" stroke-width="0.8"/>
<line x1="349.20" y1="76.30" x2="393.50" y2="76.30" stroke="#555" stroke-width="0.8"/>
<line x1="349.20" y1="36.60" x2="349.20" y2="76.30" stroke="#888" stroke-width="0.7"/>
<line x1="347.00" y1="75.80" x2="349.20" y2="75.80" stroke="#777" stroke-width="0.6"/>
<line x1="347.00" y1="68.31" x2="349.20" y2="68.31" stroke="#777" stroke-width="0.6"/>
<line x1="347.00" y1="60.82" x2="349.20" y2="60.82" stroke="#777" stroke-width="0.6"/>
<line x1="347.00" y1="53.33" x2="349.20" y2="53.33" stroke="#777" stroke-width="0.6"/>
<line x1="347.00" y1="45.84" x2="349.20" y2="45.84" stroke="#777" stroke-width="0.6"/>
<line x1="347.00" y1="38.35" x2="349.20" y2="38.35" stroke="#777" stroke-width="0.6"/>
<line x1="358.06" y1="76.30" x2="358.06" y2="78.10" stroke="#666" stroke-width="0.6"/>
<rect x="357.06" y="78.90" width="2.00" height="0.70" fill="#d0d0d0" stroke="none" stroke-width="1"/>
<line x1="370.02" y1="76.30" x2="370.02" y2="78.10" stroke="#666" stroke-width="0.6"/>
<rect x="369.02" y="78.90" width="2.00" height="0.70" fill="#d0d0d0" stroke="none" stroke-width="1"/>
<line x1="381.98" y1="76.30" x2="381.98" y2="78.10" stroke="#666" stroke-width="0.6"/>
<rect x="380.98" y="78.90" width="2.00" height="0.70" fill="#d0d0d0" stroke="none" stroke-width="1"/>
<line x1="391.28" y1="76.30" x2="391.28" y2="78.10" stroke="#666" stroke-width="0.6"/>
<rect x="390.28" y="78.90" width="2.00" height="0.70" fill="#d0d0d0" stroke="none" stroke-width="1"/>
<rect x="365.85" y="82.30" width="11.00" height="0.80" fill="#d0d0d0" stroke="none" stroke-width="1"/>
<circle cx="367.69" cy="47.94" r="0.4" fill="#4060ff" opacity="0.45"/><circle cx="360.67" cy="51.43" r="0.4" fill="#4060ff" opacity="0.45"/><circle cx="363.69" cy="50.41" r="0.4" fill="#4060ff" opacity="0.45"/><circle cx="359.34" cy="50.40" r="0.4" fill="#4060ff" opacity="0.45"/><circle cx="359.89" cy="50.42" r="0.4" fill="#4060ff" opacity="0.45"/><circle cx="360.93" cy="51.88" r="0.4" fill="#4060ff" opacity="0.45"/><circle cx="362.23" cy="46.31" r="0.4" fill="#4060ff" opacity="0.45"/><circle cx="357.63" cy="51.39" r="0.4" fill="#4060ff" opacity="0.45"/><circle cx="364.74" cy="45.43" r="0.4" fill="#4060ff" opacity="0.45"/><circle cx="360.14" cy="49.36" r="0.4" fill="#4060ff" opacity="0.45"/><circle cx="365.04" cy="47.16" r="0.4" fill="#4060ff" opacity="0.45"/><circle cx="363.04" cy="51.05" r="0.4" fill="#4060ff" opacity="0.45"/><circle cx="359.06" cy="49.26" r="0.4" fill="#4060ff" opacity="0.45"/><circle cx="363.36" cy="45.31" r="0.4" fill="#4060ff" opacity="0.45"/><circle cx="358.17" cy="52.42" r="0.4" fill="#4060ff" opacity="0.45"/><circle cx="361.11" cy="51.04" r="0.4" fill="#4060ff" opacity="0.45"/><circle cx="362.65" cy="48.76" r="0.4" fill="#4060ff" opacity="0.45"/><circle cx="363.02" cy="48.61" r="0.4" fill="#4060ff" opacity="0.45"/><circle cx="360.39" cy="50.75" r="0.4" fill="#4060ff" opacity="0.45"/><circle cx="354.90" cy="55.56" r="0.4" fill="#4060ff" opacity="0.45"/><circle cx="362.74" cy="47.39" r="0.4" fill="#4060ff" opacity="0.45"/><circle cx="361.74" cy="47.79" r="0.4" fill="#4060ff" opacity="0.45"/><circle cx="362.09" cy="50.80" r="0.4" fill="#4060ff" opacity="0.45"/><circle cx="364.73" cy="45.93" r="0.4" fill="#4060ff" opacity="0.45"/><circle cx="356.24" cy="50.70" r="0.4" fill="#4060ff" opacity="0.45"/><circle cx="361.00" cy="48.94" r="0.4" fill="#4060ff" opacity="0.45"/><circle cx="362.44" cy="49.13" r="0.4" fill="#4060ff" opacity="0.45"/><circle cx="363.29" cy="46.82" r="0.4" fill="#4060ff" opacity="0.45"/><circle cx="355.46" cy="57.32" r="0.4" fill="#4060ff" opacity="0.45"/><circle cx="359.77" cy="51.25" r="0.4" fill="#4060ff" opacity="0.45"/><circle cx="362.04" cy="50.12" r="0.4" fill="#4060ff" opacity="0.45"/><circle cx="356.89" cy="54.43" r="0.4" fill="#4060ff" opacity="0.45"/><circle cx="362.77" cy="49.93" r="0.4" fill="#4060ff" opacity="0.45"/><circle cx="357.39" cy="54.14" r="0.4" fill="#4060ff" opacity="0.45"/><circle cx="364.16" cy="48.52" r="0.4" fill="#4060ff" opacity="0.45"/><circle cx="367.78" cy="47.35" r="0.4" fill="#4060ff" opacity="0.45"/><circle cx="358.10" cy="49.65" r="0.4" fill="#4060ff" opacity="0.45"/><circle cx="361.98" cy="52.89" r="0.4" fill="#4060ff" opacity="0.45"/><circle cx="356.49" cy="52.29" r="0.4" fill="#4060ff" opacity="0.45"/><circle cx="357.15" cy="51.73" r="0.4" fill="#4060ff" opacity="0.45"/><circle cx="365.03" cy="45.18" r="0.4" fill="#4060ff" opacity="0.45"/><circle cx="365.23" cy="49.42" r="0.4" fill="#4060ff" opacity="0.45"/><circle cx="359.02" cy="52.12" r="0.4" fill="#4060ff" opacity="0.45"/><circle cx="361.33" cy="51.89" r="0.4" fill="#4060ff" opacity="0.45"/><circle cx="363.07" cy="48.64" r="0.4" fill="#4060ff" opacity="0.45"/><circle cx="362.80" cy="51.55" r="0.4" fill="#4060ff" opacity="0.45"/><circle cx="361.94" cy="45.99" r="0.4" fill="#4060ff" opacity="0.45"/><circle cx="364.42" cy="48.24" r="0.4" fill="#4060ff" opacity="0.45"/><circle cx="362.59" cy="48.75" r="0.4" fill="#4060ff" opacity="0.45"/><circle cx="359.43" cy="52.52" r="0.4" fill="#4060ff" opacity="0.45"/>
<g filter="url(#bl05)">
<ellipse cx="361.70" cy="49.20" rx="7.03" ry="2.85" transform="rotate(-42 361.70 49.20)" fill="#3050ff"/>
<ellipse cx="361.70" cy="49.20" rx="5.32" ry="2.18" transform="rotate(-42 361.70 49.20)" fill="#20a8f0"/>
<ellipse cx="361.70" cy="49.20" rx="4.08" ry="1.71" transform="rotate(-42 361.70 49.20)" fill="#30d060"/>
<ellipse cx="361.70" cy="49.20" rx="2.66" ry="1.14" transform="rotate(-42 361.70 49.20)" fill="#d8e000"/>
<ellipse cx="361.70" cy="49.20" rx="1.33" ry="0.66" transform="rotate(-42 361.70 49.20)" fill="#f05000"/>
</g>
<path d="M351.90,40.70 L373.10,40.70 L362.20,55.10 L351.90,55.10 Z" fill="none" stroke="#808080" stroke-width="0.9"/>
<path d="M376.10,40.70 L391.50,40.70 L391.50,55.10 L365.40,55.10 Z" fill="none" stroke="#808080" stroke-width="0.9"/>
<rect x="351.20" y="68.10" width="3.00" height="0.70" fill="#999" stroke="none" stroke-width="1"/>
<rect x="351.20" y="69.60" width="3.00" height="0.70" fill="#999" stroke="none" stroke-width="1"/>
<rect x="379.20" y="68.60" width="4.00" height="0.70" fill="#aaa" stroke="none" stroke-width="1"/>
<rect x="379.20" y="70.10" width="4.00" height="0.70" fill="#aaa" stroke="none" stroke-width="1"/>
<circle cx="348.40" cy="66.60" r="0.9" fill="#111"/>
<path d="M407.60,76.30 L407.60,36.90 L450.80,36.90 L450.80,76.30" fill="none" stroke="#c8c8c8" stroke-width="0.8"/>
<line x1="407.60" y1="76.30" x2="450.80" y2="76.30" stroke="#555" stroke-width="0.8"/>
<line x1="407.60" y1="36.90" x2="407.60" y2="76.30" stroke="#888" stroke-width="0.7"/>
<line x1="405.40" y1="75.80" x2="407.60" y2="75.80" stroke="#777" stroke-width="0.6"/>
<line x1="405.40" y1="68.37" x2="407.60" y2="68.37" stroke="#777" stroke-width="0.6"/>
<line x1="405.40" y1="60.93" x2="407.60" y2="60.93" stroke="#777" stroke-width="0.6"/>
<line x1="405.40" y1="53.50" x2="407.60" y2="53.50" stroke="#777" stroke-width="0.6"/>
<line x1="405.40" y1="46.06" x2="407.60" y2="46.06" stroke="#777" stroke-width="0.6"/>
<line x1="405.40" y1="38.63" x2="407.60" y2="38.63" stroke="#777" stroke-width="0.6"/>
<line x1="416.24" y1="76.30" x2="416.24" y2="78.10" stroke="#666" stroke-width="0.6"/>
<rect x="415.24" y="78.90" width="2.00" height="0.70" fill="#d0d0d0" stroke="none" stroke-width="1"/>
<line x1="427.90" y1="76.30" x2="427.90" y2="78.10" stroke="#666" stroke-width="0.6"/>
<rect x="426.90" y="78.90" width="2.00" height="0.70" fill="#d0d0d0" stroke="none" stroke-width="1"/>
<line x1="439.57" y1="76.30" x2="439.57" y2="78.10" stroke="#666" stroke-width="0.6"/>
<rect x="438.57" y="78.90" width="2.00" height="0.70" fill="#d0d0d0" stroke="none" stroke-width="1"/>
<line x1="448.64" y1="76.30" x2="448.64" y2="78.10" stroke="#666" stroke-width="0.6"/>
<rect x="447.64" y="78.90" width="2.00" height="0.70" fill="#d0d0d0" stroke="none" stroke-width="1"/>
<rect x="423.70" y="82.30" width="11.00" height="0.80" fill="#d0d0d0" stroke="none" stroke-width="1"/>
<circle cx="413.23" cy="54.30" r="0.4" fill="#4060ff" opacity="0.45"/><circle cx="422.42" cy="48.27" r="0.4" fill="#4060ff" opacity="0.45"/><circle cx="423.76" cy="45.44" r="0.4" fill="#4060ff" opacity="0.45"/><circle cx="426.77" cy="48.50" r="0.4" fill="#4060ff" opacity="0.45"/><circle cx="430.03" cy="46.53" r="0.4" fill="#4060ff" opacity="0.45"/><circle cx="417.51" cy="51.13" r="0.4" fill="#4060ff" opacity="0.45"/><circle cx="425.92" cy="44.61" r="0.4" fill="#4060ff" opacity="0.45"/><circle cx="418.58" cy="51.99" r="0.4" fill="#4060ff" opacity="0.45"/><circle cx="415.56" cy="55.08" r="0.4" fill="#4060ff" opacity="0.45"/><circle cx="423.73" cy="48.22" r="0.4" fill="#4060ff" opacity="0.45"/><circle cx="415.08" cy="53.24" r="0.4" fill="#4060ff" opacity="0.45"/><circle cx="422.81" cy="50.23" r="0.4" fill="#4060ff" opacity="0.45"/><circle cx="425.32" cy="48.68" r="0.4" fill="#4060ff" opacity="0.45"/><circle cx="420.05" cy="52.49" r="0.4" fill="#4060ff" opacity="0.45"/><circle cx="414.98" cy="51.49" r="0.4" fill="#4060ff" opacity="0.45"/><circle cx="422.86" cy="46.06" r="0.4" fill="#4060ff" opacity="0.45"/><circle cx="418.26" cy="53.53" r="0.4" fill="#4060ff" opacity="0.45"/><circle cx="419.48" cy="49.05" r="0.4" fill="#4060ff" opacity="0.45"/><circle cx="420.26" cy="50.84" r="0.4" fill="#4060ff" opacity="0.45"/><circle cx="416.96" cy="53.42" r="0.4" fill="#4060ff" opacity="0.45"/><circle cx="421.18" cy="46.74" r="0.4" fill="#4060ff" opacity="0.45"/><circle cx="421.57" cy="48.67" r="0.4" fill="#4060ff" opacity="0.45"/><circle cx="425.71" cy="45.87" r="0.4" fill="#4060ff" opacity="0.45"/><circle cx="420.78" cy="49.78" r="0.4" fill="#4060ff" opacity="0.45"/><circle cx="428.34" cy="45.85" r="0.4" fill="#4060ff" opacity="0.45"/><circle cx="419.25" cy="50.59" r="0.4" fill="#4060ff" opacity="0.45"/><circle cx="421.71" cy="49.55" r="0.4" fill="#4060ff" opacity="0.45"/><circle cx="421.03" cy="48.48" r="0.4" fill="#4060ff" opacity="0.45"/><circle cx="422.10" cy="50.00" r="0.4" fill="#4060ff" opacity="0.45"/><circle cx="419.82" cy="51.84" r="0.4" fill="#4060ff" opacity="0.45"/><circle cx="421.23" cy="49.05" r="0.4" fill="#4060ff" opacity="0.45"/><circle cx="416.36" cy="55.91" r="0.4" fill="#4060ff" opacity="0.45"/><circle cx="422.53" cy="49.45" r="0.4" fill="#4060ff" opacity="0.45"/><circle cx="424.42" cy="48.74" r="0.4" fill="#4060ff" opacity="0.45"/><circle cx="418.74" cy="50.19" r="0.4" fill="#4060ff" opacity="0.45"/><circle cx="425.10" cy="50.10" r="0.4" fill="#4060ff" opacity="0.45"/><circle cx="417.97" cy="50.25" r="0.4" fill="#4060ff" opacity="0.45"/><circle cx="423.05" cy="48.10" r="0.4" fill="#4060ff" opacity="0.45"/><circle cx="422.28" cy="47.63" r="0.4" fill="#4060ff" opacity="0.45"/><circle cx="420.50" cy="47.10" r="0.4" fill="#4060ff" opacity="0.45"/><circle cx="422.33" cy="48.26" r="0.4" fill="#4060ff" opacity="0.45"/><circle cx="415.30" cy="54.76" r="0.4" fill="#4060ff" opacity="0.45"/><circle cx="422.38" cy="50.91" r="0.4" fill="#4060ff" opacity="0.45"/><circle cx="421.31" cy="51.54" r="0.4" fill="#4060ff" opacity="0.45"/><circle cx="425.52" cy="49.04" r="0.4" fill="#4060ff" opacity="0.45"/><circle cx="421.54" cy="49.96" r="0.4" fill="#4060ff" opacity="0.45"/><circle cx="420.79" cy="51.35" r="0.4" fill="#4060ff" opacity="0.45"/><circle cx="426.25" cy="45.09" r="0.4" fill="#4060ff" opacity="0.45"/><circle cx="421.85" cy="45.71" r="0.4" fill="#4060ff" opacity="0.45"/><circle cx="422.26" cy="49.83" r="0.4" fill="#4060ff" opacity="0.45"/>
<g filter="url(#bl05)">
<ellipse cx="421.60" cy="49.90" rx="7.40" ry="3.00" transform="rotate(-36 421.60 49.90)" fill="#3050ff"/>
<ellipse cx="421.60" cy="49.90" rx="5.60" ry="2.30" transform="rotate(-36 421.60 49.90)" fill="#20a8f0"/>
<ellipse cx="421.60" cy="49.90" rx="4.30" ry="1.80" transform="rotate(-36 421.60 49.90)" fill="#30d060"/>
<ellipse cx="421.60" cy="49.90" rx="2.80" ry="1.20" transform="rotate(-36 421.60 49.90)" fill="#d8e000"/>
<ellipse cx="421.60" cy="49.90" rx="1.40" ry="0.70" transform="rotate(-36 421.60 49.90)" fill="#e8e000"/>
</g>
<circle cx="429.92" cy="48.24" r="0.4" fill="#4060ff" opacity="0.45"/><circle cx="430.89" cy="46.28" r="0.4" fill="#4060ff" opacity="0.45"/><circle cx="427.90" cy="49.71" r="0.4" fill="#4060ff" opacity="0.45"/><circle cx="432.65" cy="47.00" r="0.4" fill="#4060ff" opacity="0.45"/><circle cx="434.21" cy="48.84" r="0.4" fill="#4060ff" opacity="0.45"/><circle cx="428.25" cy="50.93" r="0.4" fill="#4060ff" opacity="0.45"/><circle cx="431.89" cy="47.93" r="0.4" fill="#4060ff" opacity="0.45"/><circle cx="430.63" cy="48.11" r="0.4" fill="#4060ff" opacity="0.45"/><circle cx="423.61" cy="53.80" r="0.4" fill="#4060ff" opacity="0.45"/><circle cx="429.86" cy="51.50" r="0.4" fill="#4060ff" opacity="0.45"/><circle cx="438.24" cy="44.48" r="0.4" fill="#4060ff" opacity="0.45"/><circle cx="424.92" cy="51.85" r="0.4" fill="#4060ff" opacity="0.45"/><circle cx="433.19" cy="46.19" r="0.4" fill="#4060ff" opacity="0.45"/><circle cx="428.30" cy="50.24" r="0.4" fill="#4060ff" opacity="0.45"/><circle cx="434.04" cy="45.79" r="0.4" fill="#4060ff" opacity="0.45"/><circle cx="436.53" cy="45.44" r="0.4" fill="#4060ff" opacity="0.45"/><circle cx="429.53" cy="50.58" r="0.4" fill="#4060ff" opacity="0.45"/><circle cx="430.58" cy="45.10" r="0.4" fill="#4060ff" opacity="0.45"/><circle cx="432.59" cy="48.13" r="0.4" fill="#4060ff" opacity="0.45"/><circle cx="428.08" cy="50.03" r="0.4" fill="#4060ff" opacity="0.45"/><circle cx="431.49" cy="46.50" r="0.4" fill="#4060ff" opacity="0.45"/><circle cx="430.43" cy="47.69" r="0.4" fill="#4060ff" opacity="0.45"/><circle cx="436.08" cy="47.35" r="0.4" fill="#4060ff" opacity="0.45"/><circle cx="432.23" cy="46.91" r="0.4" fill="#4060ff" opacity="0.45"/><circle cx="430.57" cy="48.09" r="0.4" fill="#4060ff" opacity="0.45"/><circle cx="432.80" cy="45.80" r="0.4" fill="#4060ff" opacity="0.45"/><circle cx="429.20" cy="49.17" r="0.4" fill="#4060ff" opacity="0.45"/><circle cx="431.45" cy="46.50" r="0.4" fill="#4060ff" opacity="0.45"/><circle cx="436.23" cy="45.81" r="0.4" fill="#4060ff" opacity="0.45"/><circle cx="429.72" cy="51.83" r="0.4" fill="#4060ff" opacity="0.45"/><circle cx="433.85" cy="45.80" r="0.4" fill="#4060ff" opacity="0.45"/><circle cx="430.97" cy="48.12" r="0.4" fill="#4060ff" opacity="0.45"/><circle cx="429.45" cy="49.70" r="0.4" fill="#4060ff" opacity="0.45"/><circle cx="440.66" cy="44.08" r="0.4" fill="#4060ff" opacity="0.45"/><circle cx="429.79" cy="46.42" r="0.4" fill="#4060ff" opacity="0.45"/><circle cx="430.53" cy="45.61" r="0.4" fill="#4060ff" opacity="0.45"/><circle cx="426.18" cy="49.84" r="0.4" fill="#4060ff" opacity="0.45"/><circle cx="430.54" cy="47.44" r="0.4" fill="#4060ff" opacity="0.45"/><circle cx="432.95" cy="49.76" r="0.4" fill="#4060ff" opacity="0.45"/><circle cx="433.51" cy="46.40" r="0.4" fill="#4060ff" opacity="0.45"/><circle cx="439.26" cy="43.65" r="0.4" fill="#4060ff" opacity="0.45"/><circle cx="435.03" cy="44.74" r="0.4" fill="#4060ff" opacity="0.45"/><circle cx="437.96" cy="42.58" r="0.4" fill="#4060ff" opacity="0.45"/><circle cx="430.58" cy="47.93" r="0.4" fill="#4060ff" opacity="0.45"/><circle cx="427.98" cy="52.55" r="0.4" fill="#4060ff" opacity="0.45"/><circle cx="440.69" cy="40.85" r="0.4" fill="#4060ff" opacity="0.45"/><circle cx="434.62" cy="46.09" r="0.4" fill="#4060ff" opacity="0.45"/><circle cx="433.27" cy="45.74" r="0.4" fill="#4060ff" opacity="0.45"/><circle cx="432.77" cy="50.57" r="0.4" fill="#4060ff" opacity="0.45"/><circle cx="436.67" cy="45.24" r="0.4" fill="#4060ff" opacity="0.45"/>
<g filter="url(#bl05)">
<ellipse cx="432.25" cy="47.30" rx="7.40" ry="3.00" transform="rotate(-36 432.25 47.30)" fill="#3050ff"/>
<ellipse cx="432.25" cy="47.30" rx="5.60" ry="2.30" transform="rotate(-36 432.25 47.30)" fill="#20a8f0"/>
<ellipse cx="432.25" cy="47.30" rx="4.30" ry="1.80" transform="rotate(-36 432.25 47.30)" fill="#30d060"/>
<ellipse cx="432.25" cy="47.30" rx="2.80" ry="1.20" transform="rotate(-36 432.25 47.30)" fill="#d8e000"/>
<ellipse cx="432.25" cy="47.30" rx="1.40" ry="0.70" transform="rotate(-36 432.25 47.30)" fill="#f05000"/>
</g>
<path d="M410.15,41.00 L431.05,41.00 L420.25,55.40 L410.15,55.40 Z" fill="none" stroke="#808080" stroke-width="0.9"/>
<path d="M434.15,41.00 L449.25,41.00 L449.25,55.40 L423.60,55.40 Z" fill="none" stroke="#808080" stroke-width="0.9"/>
<rect x="409.60" y="68.40" width="3.00" height="0.70" fill="#999" stroke="none" stroke-width="1"/>
<rect x="409.60" y="69.90" width="3.00" height="0.70" fill="#999" stroke="none" stroke-width="1"/>
<rect x="437.60" y="68.90" width="4.00" height="0.70" fill="#aaa" stroke="none" stroke-width="1"/>
<rect x="437.60" y="70.40" width="4.00" height="0.70" fill="#aaa" stroke="none" stroke-width="1"/>
<circle cx="406.80" cy="66.90" r="0.9" fill="#111"/>
<path d="M461.70,76.30 L461.70,37.40 L507.80,37.40" fill="none" stroke="#c8c8c8" stroke-width="0.8"/>
<line x1="461.70" y1="76.30" x2="507.80" y2="76.30" stroke="#555" stroke-width="0.8"/>
<line x1="461.70" y1="37.40" x2="461.70" y2="76.30" stroke="#888" stroke-width="0.7"/>
<line x1="459.50" y1="75.80" x2="461.70" y2="75.80" stroke="#777" stroke-width="0.6"/>
<line x1="459.50" y1="68.46" x2="461.70" y2="68.46" stroke="#777" stroke-width="0.6"/>
<line x1="459.50" y1="61.12" x2="461.70" y2="61.12" stroke="#777" stroke-width="0.6"/>
<line x1="459.50" y1="53.78" x2="461.70" y2="53.78" stroke="#777" stroke-width="0.6"/>
<line x1="459.50" y1="46.44" x2="461.70" y2="46.44" stroke="#777" stroke-width="0.6"/>
<line x1="459.50" y1="39.10" x2="461.70" y2="39.10" stroke="#777" stroke-width="0.6"/>
<line x1="470.92" y1="76.30" x2="470.92" y2="78.10" stroke="#666" stroke-width="0.6"/>
<rect x="469.92" y="78.90" width="2.00" height="0.70" fill="#d0d0d0" stroke="none" stroke-width="1"/>
<line x1="483.37" y1="76.30" x2="483.37" y2="78.10" stroke="#666" stroke-width="0.6"/>
<rect x="482.37" y="78.90" width="2.00" height="0.70" fill="#d0d0d0" stroke="none" stroke-width="1"/>
<line x1="495.81" y1="76.30" x2="495.81" y2="78.10" stroke="#666" stroke-width="0.6"/>
<rect x="494.81" y="78.90" width="2.00" height="0.70" fill="#d0d0d0" stroke="none" stroke-width="1"/>
<line x1="505.50" y1="76.30" x2="505.50" y2="78.10" stroke="#666" stroke-width="0.6"/>
<rect x="504.50" y="78.90" width="2.00" height="0.70" fill="#d0d0d0" stroke="none" stroke-width="1"/>
<rect x="479.25" y="82.30" width="11.00" height="0.80" fill="#d0d0d0" stroke="none" stroke-width="1"/>
<path d="M465.88,76.30 C466.12,75.22 467.15,72.27 467.58,68.60 C468.01,64.92 468.61,53.87 468.94,50.05 C469.27,46.23 469.67,42.18 469.96,41.30 C470.25,40.42 470.65,41.54 470.98,43.75 C471.31,45.95 471.98,53.23 472.34,57.05 C472.70,60.87 473.16,68.52 473.53,71.05 C473.90,73.58 474.17,74.45 474.98,75.10 C475.78,75.75 477.99,75.56 479.30,75.70 C480.61,75.84 483.60,76.04 484.30,76.10 L484.30,76.30 L465.88,76.30 Z" fill="#9a9a9a" stroke="#333" stroke-width="0.75"/>
<line x1="479.80" y1="67.90" x2="503.80" y2="67.90" stroke="#444" stroke-width="0.8"/>
<line x1="479.80" y1="66.70" x2="479.80" y2="69.10" stroke="#444" stroke-width="0.6"/>
<line x1="503.80" y1="66.70" x2="503.80" y2="69.10" stroke="#444" stroke-width="0.6"/>
<rect x="489.30" y="64.30" width="5.00" height="0.80" fill="#bbb" stroke="none" stroke-width="1"/>
<text x="291.70" y="23.75" font-size="9.00" text-anchor="start" fill="#222" stroke="#222" stroke-width="0.1" textLength="44.50" lengthAdjust="spacingAndGlyphs">Xenografted</text>
<text x="294.70" y="33.00" font-size="9.00" text-anchor="start" fill="#222" stroke="#222" stroke-width="0.1" textLength="39.00" lengthAdjust="spacingAndGlyphs">tumor cells</text>
<text x="370.20" y="24.00" font-size="9.00" text-anchor="middle" fill="#222" stroke="#222" stroke-width="0.1" textLength="30.00" lengthAdjust="spacingAndGlyphs">Control</text>
<text x="350.20" y="33.00" font-size="9.00" text-anchor="start" fill="#222" stroke="#222" stroke-width="0.1" textLength="39.00" lengthAdjust="spacingAndGlyphs">TMD8 cells</text>
<text x="426.20" y="24.00" font-size="9.00" text-anchor="middle" fill="#222" stroke="#222" stroke-width="0.1" textLength="22.00" lengthAdjust="spacingAndGlyphs">GFP+</text>
<text x="406.95" y="33.00" font-size="9.00" text-anchor="start" fill="#222" stroke="#222" stroke-width="0.1" textLength="38.75" lengthAdjust="spacingAndGlyphs">tumor cells</text>
<text x="463.95" y="30.40" font-size="9.00" text-anchor="start" fill="#222" stroke="#222" stroke-width="0.1" textLength="39.00" lengthAdjust="spacingAndGlyphs">Control Ab</text>
<path d="M289.20,132.40 L289.20,93.20 L336.10,93.20 L336.10,132.40" fill="none" stroke="#c8c8c8" stroke-width="0.8"/>
<line x1="289.20" y1="132.40" x2="336.10" y2="132.40" stroke="#555" stroke-width="0.8"/>
<line x1="289.20" y1="93.20" x2="289.20" y2="132.40" stroke="#888" stroke-width="0.7"/>
<line x1="287.00" y1="131.90" x2="289.20" y2="131.90" stroke="#777" stroke-width="0.6"/>
<line x1="287.00" y1="124.50" x2="289.20" y2="124.50" stroke="#777" stroke-width="0.6"/>
<line x1="287.00" y1="117.11" x2="289.20" y2="117.11" stroke="#777" stroke-width="0.6"/>
<line x1="287.00" y1="109.71" x2="289.20" y2="109.71" stroke="#777" stroke-width="0.6"/>
<line x1="287.00" y1="102.32" x2="289.20" y2="102.32" stroke="#777" stroke-width="0.6"/>
<line x1="287.00" y1="94.92" x2="289.20" y2="94.92" stroke="#777" stroke-width="0.6"/>
<line x1="298.58" y1="132.40" x2="298.58" y2="134.20" stroke="#666" stroke-width="0.6"/>
<rect x="297.58" y="135.00" width="2.00" height="0.70" fill="#d0d0d0" stroke="none" stroke-width="1"/>
<line x1="311.24" y1="132.40" x2="311.24" y2="134.20" stroke="#666" stroke-width="0.6"/>
<rect x="310.24" y="135.00" width="2.00" height="0.70" fill="#d0d0d0" stroke="none" stroke-width="1"/>
<line x1="323.91" y1="132.40" x2="323.91" y2="134.20" stroke="#666" stroke-width="0.6"/>
<rect x="322.91" y="135.00" width="2.00" height="0.70" fill="#d0d0d0" stroke="none" stroke-width="1"/>
<line x1="333.75" y1="132.40" x2="333.75" y2="134.20" stroke="#666" stroke-width="0.6"/>
<rect x="332.75" y="135.00" width="2.00" height="0.70" fill="#d0d0d0" stroke="none" stroke-width="1"/>
<rect x="307.15" y="138.40" width="11.00" height="0.80" fill="#d0d0d0" stroke="none" stroke-width="1"/>
<path d="M289.20,188.40 L289.20,149.20 L336.10,149.20 L336.10,188.40" fill="none" stroke="#c8c8c8" stroke-width="0.8"/>
<line x1="289.20" y1="188.40" x2="336.10" y2="188.40" stroke="#555" stroke-width="0.8"/>
<line x1="289.20" y1="149.20" x2="289.20" y2="188.40" stroke="#888" stroke-width="0.7"/>
<line x1="287.00" y1="187.90" x2="289.20" y2="187.90" stroke="#777" stroke-width="0.6"/>
<line x1="287.00" y1="180.50" x2="289.20" y2="180.50" stroke="#777" stroke-width="0.6"/>
<line x1="287.00" y1="173.11" x2="289.20" y2="173.11" stroke="#777" stroke-width="0.6"/>
<line x1="287.00" y1="165.71" x2="289.20" y2="165.71" stroke="#777" stroke-width="0.6"/>
<line x1="287.00" y1="158.32" x2="289.20" y2="158.32" stroke="#777" stroke-width="0.6"/>
<line x1="287.00" y1="150.92" x2="289.20" y2="150.92" stroke="#777" stroke-width="0.6"/>
<line x1="298.58" y1="188.40" x2="298.58" y2="190.20" stroke="#666" stroke-width="0.6"/>
<rect x="297.58" y="191.00" width="2.00" height="0.70" fill="#d0d0d0" stroke="none" stroke-width="1"/>
<line x1="311.24" y1="188.40" x2="311.24" y2="190.20" stroke="#666" stroke-width="0.6"/>
<rect x="310.24" y="191.00" width="2.00" height="0.70" fill="#d0d0d0" stroke="none" stroke-width="1"/>
<line x1="323.91" y1="188.40" x2="323.91" y2="190.20" stroke="#666" stroke-width="0.6"/>
<rect x="322.91" y="191.00" width="2.00" height="0.70" fill="#d0d0d0" stroke="none" stroke-width="1"/>
<line x1="333.75" y1="188.40" x2="333.75" y2="190.20" stroke="#666" stroke-width="0.6"/>
<rect x="332.75" y="191.00" width="2.00" height="0.70" fill="#d0d0d0" stroke="none" stroke-width="1"/>
<rect x="307.15" y="194.40" width="11.00" height="0.80" fill="#d0d0d0" stroke="none" stroke-width="1"/>
<path d="M346.20,132.40 L346.20,93.20 L393.10,93.20 L393.10,132.40" fill="none" stroke="#c8c8c8" stroke-width="0.8"/>
<line x1="346.20" y1="132.40" x2="393.10" y2="132.40" stroke="#555" stroke-width="0.8"/>
<line x1="346.20" y1="93.20" x2="346.20" y2="132.40" stroke="#888" stroke-width="0.7"/>
<line x1="344.00" y1="131.90" x2="346.20" y2="131.90" stroke="#777" stroke-width="0.6"/>
<line x1="344.00" y1="124.50" x2="346.20" y2="124.50" stroke="#777" stroke-width="0.6"/>
<line x1="344.00" y1="117.11" x2="346.20" y2="117.11" stroke="#777" stroke-width="0.6"/>
<line x1="344.00" y1="109.71" x2="346.20" y2="109.71" stroke="#777" stroke-width="0.6"/>
<line x1="344.00" y1="102.32" x2="346.20" y2="102.32" stroke="#777" stroke-width="0.6"/>
<line x1="344.00" y1="94.92" x2="346.20" y2="94.92" stroke="#777" stroke-width="0.6"/>
<line x1="355.58" y1="132.40" x2="355.58" y2="134.20" stroke="#666" stroke-width="0.6"/>
<rect x="354.58" y="135.00" width="2.00" height="0.70" fill="#d0d0d0" stroke="none" stroke-width="1"/>
<line x1="368.24" y1="132.40" x2="368.24" y2="134.20" stroke="#666" stroke-width="0.6"/>
<rect x="367.24" y="135.00" width="2.00" height="0.70" fill="#d0d0d0" stroke="none" stroke-width="1"/>
<line x1="380.91" y1="132.40" x2="380.91" y2="134.20" stroke="#666" stroke-width="0.6"/>
<rect x="379.91" y="135.00" width="2.00" height="0.70" fill="#d0d0d0" stroke="none" stroke-width="1"/>
<line x1="390.75" y1="132.40" x2="390.75" y2="134.20" stroke="#666" stroke-width="0.6"/>
<rect x="389.75" y="135.00" width="2.00" height="0.70" fill="#d0d0d0" stroke="none" stroke-width="1"/>
<rect x="364.15" y="138.40" width="11.00" height="0.80" fill="#d0d0d0" stroke="none" stroke-width="1"/>
<path d="M346.20,188.40 L346.20,149.20 L393.10,149.20 L393.10,188.40" fill="none" stroke="#c8c8c8" stroke-width="0.8"/>
<line x1="346.20" y1="188.40" x2="393.10" y2="188.40" stroke="#555" stroke-width="0.8"/>
<line x1="346.20" y1="149.20" x2="346.20" y2="188.40" stroke="#888" stroke-width="0.7"/>
<line x1="344.00" y1="187.90" x2="346.20" y2="187.90" stroke="#777" stroke-width="0.6"/>
<line x1="344.00" y1="180.50" x2="346.20" y2="180.50" stroke="#777" stroke-width="0.6"/>
<line x1="344.00" y1="173.11" x2="346.20" y2="173.11" stroke="#777" stroke-width="0.6"/>
<line x1="344.00" y1="165.71" x2="346.20" y2="165.71" stroke="#777" stroke-width="0.6"/>
<line x1="344.00" y1="158.32" x2="346.20" y2="158.32" stroke="#777" stroke-width="0.6"/>
<line x1="344.00" y1="150.92" x2="346.20" y2="150.92" stroke="#777" stroke-width="0.6"/>
<line x1="355.58" y1="188.40" x2="355.58" y2="190.20" stroke="#666" stroke-width="0.6"/>
<rect x="354.58" y="191.00" width="2.00" height="0.70" fill="#d0d0d0" stroke="none" stroke-width="1"/>
<line x1="368.24" y1="188.40" x2="368.24" y2="190.20" stroke="#666" stroke-width="0.6"/>
<rect x="367.24" y="191.00" width="2.00" height="0.70" fill="#d0d0d0" stroke="none" stroke-width="1"/>
<line x1="380.91" y1="188.40" x2="380.91" y2="190.20" stroke="#666" stroke-width="0.6"/>
<rect x="379.91" y="191.00" width="2.00" height="0.70" fill="#d0d0d0" stroke="none" stroke-width="1"/>
<line x1="390.75" y1="188.40" x2="390.75" y2="190.20" stroke="#666" stroke-width="0.6"/>
<rect x="389.75" y="191.00" width="2.00" height="0.70" fill="#d0d0d0" stroke="none" stroke-width="1"/>
<rect x="364.15" y="194.40" width="11.00" height="0.80" fill="#d0d0d0" stroke="none" stroke-width="1"/>
<path d="M403.50,132.40 L403.50,93.20 L450.80,93.20 L450.80,132.40" fill="none" stroke="#c8c8c8" stroke-width="0.8"/>
<line x1="403.50" y1="132.40" x2="450.80" y2="132.40" stroke="#555" stroke-width="0.8"/>
<line x1="403.50" y1="93.20" x2="403.50" y2="132.40" stroke="#888" stroke-width="0.7"/>
<line x1="401.30" y1="131.90" x2="403.50" y2="131.90" stroke="#777" stroke-width="0.6"/>
<line x1="401.30" y1="124.50" x2="403.50" y2="124.50" stroke="#777" stroke-width="0.6"/>
<line x1="401.30" y1="117.11" x2="403.50" y2="117.11" stroke="#777" stroke-width="0.6"/>
<line x1="401.30" y1="109.71" x2="403.50" y2="109.71" stroke="#777" stroke-width="0.6"/>
<line x1="401.30" y1="102.32" x2="403.50" y2="102.32" stroke="#777" stroke-width="0.6"/>
<line x1="401.30" y1="94.92" x2="403.50" y2="94.92" stroke="#777" stroke-width="0.6"/>
<line x1="412.96" y1="132.40" x2="412.96" y2="134.20" stroke="#666" stroke-width="0.6"/>
<rect x="411.96" y="135.00" width="2.00" height="0.70" fill="#d0d0d0" stroke="none" stroke-width="1"/>
<line x1="425.73" y1="132.40" x2="425.73" y2="134.20" stroke="#666" stroke-width="0.6"/>
<rect x="424.73" y="135.00" width="2.00" height="0.70" fill="#d0d0d0" stroke="none" stroke-width="1"/>
<line x1="438.50" y1="132.40" x2="438.50" y2="134.20" stroke="#666" stroke-width="0.6"/>
<rect x="437.50" y="135.00" width="2.00" height="0.70" fill="#d0d0d0" stroke="none" stroke-width="1"/>
<line x1="448.44" y1="132.40" x2="448.44" y2="134.20" stroke="#666" stroke-width="0.6"/>
<rect x="447.44" y="135.00" width="2.00" height="0.70" fill="#d0d0d0" stroke="none" stroke-width="1"/>
<rect x="421.65" y="138.40" width="11.00" height="0.80" fill="#d0d0d0" stroke="none" stroke-width="1"/>
<path d="M403.50,188.40 L403.50,149.20 L450.80,149.20 L450.80,188.40" fill="none" stroke="#c8c8c8" stroke-width="0.8"/>
<line x1="403.50" y1="188.40" x2="450.80" y2="188.40" stroke="#555" stroke-width="0.8"/>
<line x1="403.50" y1="149.20" x2="403.50" y2="188.40" stroke="#888" stroke-width="0.7"/>
<line x1="401.30" y1="187.90" x2="403.50" y2="187.90" stroke="#777" stroke-width="0.6"/>
<line x1="401.30" y1="180.50" x2="403.50" y2="180.50" stroke="#777" stroke-width="0.6"/>
<line x1="401.30" y1="173.11" x2="403.50" y2="173.11" stroke="#777" stroke-width="0.6"/>
<line x1="401.30" y1="165.71" x2="403.50" y2="165.71" stroke="#777" stroke-width="0.6"/>
<line x1="401.30" y1="158.32" x2="403.50" y2="158.32" stroke="#777" stroke-width="0.6"/>
<line x1="401.30" y1="150.92" x2="403.50" y2="150.92" stroke="#777" stroke-width="0.6"/>
<line x1="412.96" y1="188.40" x2="412.96" y2="190.20" stroke="#666" stroke-width="0.6"/>
<rect x="411.96" y="191.00" width="2.00" height="0.70" fill="#d0d0d0" stroke="none" stroke-width="1"/>
<line x1="425.73" y1="188.40" x2="425.73" y2="190.20" stroke="#666" stroke-width="0.6"/>
<rect x="424.73" y="191.00" width="2.00" height="0.70" fill="#d0d0d0" stroke="none" stroke-width="1"/>
<line x1="438.50" y1="188.40" x2="438.50" y2="190.20" stroke="#666" stroke-width="0.6"/>
<rect x="437.50" y="191.00" width="2.00" height="0.70" fill="#d0d0d0" stroke="none" stroke-width="1"/>
<line x1="448.44" y1="188.40" x2="448.44" y2="190.20" stroke="#666" stroke-width="0.6"/>
<rect x="447.44" y="191.00" width="2.00" height="0.70" fill="#d0d0d0" stroke="none" stroke-width="1"/>
<rect x="421.65" y="194.40" width="11.00" height="0.80" fill="#d0d0d0" stroke="none" stroke-width="1"/>
<path d="M461.30,132.40 L461.30,93.20 L508.10,93.20" fill="none" stroke="#c8c8c8" stroke-width="0.8"/>
<line x1="461.30" y1="132.40" x2="508.10" y2="132.40" stroke="#555" stroke-width="0.8"/>
<line x1="461.30" y1="93.20" x2="461.30" y2="132.40" stroke="#888" stroke-width="0.7"/>
<line x1="459.10" y1="131.90" x2="461.30" y2="131.90" stroke="#777" stroke-width="0.6"/>
<line x1="459.10" y1="124.50" x2="461.30" y2="124.50" stroke="#777" stroke-width="0.6"/>
<line x1="459.10" y1="117.11" x2="461.30" y2="117.11" stroke="#777" stroke-width="0.6"/>
<line x1="459.10" y1="109.71" x2="461.30" y2="109.71" stroke="#777" stroke-width="0.6"/>
<line x1="459.10" y1="102.32" x2="461.30" y2="102.32" stroke="#777" stroke-width="0.6"/>
<line x1="459.10" y1="94.92" x2="461.30" y2="94.92" stroke="#777" stroke-width="0.6"/>
<line x1="470.66" y1="132.40" x2="470.66" y2="134.20" stroke="#666" stroke-width="0.6"/>
<rect x="469.66" y="135.00" width="2.00" height="0.70" fill="#d0d0d0" stroke="none" stroke-width="1"/>
<line x1="483.30" y1="132.40" x2="483.30" y2="134.20" stroke="#666" stroke-width="0.6"/>
<rect x="482.30" y="135.00" width="2.00" height="0.70" fill="#d0d0d0" stroke="none" stroke-width="1"/>
<line x1="495.93" y1="132.40" x2="495.93" y2="134.20" stroke="#666" stroke-width="0.6"/>
<rect x="494.93" y="135.00" width="2.00" height="0.70" fill="#d0d0d0" stroke="none" stroke-width="1"/>
<line x1="505.76" y1="132.40" x2="505.76" y2="134.20" stroke="#666" stroke-width="0.6"/>
<rect x="504.76" y="135.00" width="2.00" height="0.70" fill="#d0d0d0" stroke="none" stroke-width="1"/>
<rect x="479.20" y="138.40" width="11.00" height="0.80" fill="#d0d0d0" stroke="none" stroke-width="1"/>
<path d="M461.30,188.40 L461.30,149.20 L508.10,149.20" fill="none" stroke="#c8c8c8" stroke-width="0.8"/>
<line x1="461.30" y1="188.40" x2="508.10" y2="188.40" stroke="#555" stroke-width="0.8"/>
<line x1="461.30" y1="149.20" x2="461.30" y2="188.40" stroke="#888" stroke-width="0.7"/>
<line x1="459.10" y1="187.90" x2="461.30" y2="187.90" stroke="#777" stroke-width="0.6"/>
<line x1="459.10" y1="180.50" x2="461.30" y2="180.50" stroke="#777" stroke-width="0.6"/>
<line x1="459.10" y1="173.11" x2="461.30" y2="173.11" stroke="#777" stroke-width="0.6"/>
<line x1="459.10" y1="165.71" x2="461.30" y2="165.71" stroke="#777" stroke-width="0.6"/>
<line x1="459.10" y1="158.32" x2="461.30" y2="158.32" stroke="#777" stroke-width="0.6"/>
<line x1="459.10" y1="150.92" x2="461.30" y2="150.92" stroke="#777" stroke-width="0.6"/>
<line x1="470.66" y1="188.40" x2="470.66" y2="190.20" stroke="#666" stroke-width="0.6"/>
<rect x="469.66" y="191.00" width="2.00" height="0.70" fill="#d0d0d0" stroke="none" stroke-width="1"/>
<line x1="483.30" y1="188.40" x2="483.30" y2="190.20" stroke="#666" stroke-width="0.6"/>
<rect x="482.30" y="191.00" width="2.00" height="0.70" fill="#d0d0d0" stroke="none" stroke-width="1"/>
<line x1="495.93" y1="188.40" x2="495.93" y2="190.20" stroke="#666" stroke-width="0.6"/>
<rect x="494.93" y="191.00" width="2.00" height="0.70" fill="#d0d0d0" stroke="none" stroke-width="1"/>
<line x1="505.76" y1="188.40" x2="505.76" y2="190.20" stroke="#666" stroke-width="0.6"/>
<rect x="504.76" y="191.00" width="2.00" height="0.70" fill="#d0d0d0" stroke="none" stroke-width="1"/>
<rect x="479.20" y="194.40" width="11.00" height="0.80" fill="#d0d0d0" stroke="none" stroke-width="1"/>
<path d="M294.40,132.40 C294.72,131.99 296.14,130.31 296.70,129.50 C297.26,128.69 297.92,127.22 298.40,126.60 C298.88,125.98 298.88,125.31 300.10,125.10 C301.32,124.89 305.97,125.37 307.10,125.10 C308.23,124.83 307.79,124.84 308.20,123.20 C308.61,121.56 309.51,116.40 310.00,113.40 C310.49,110.40 311.31,103.98 311.70,101.80 C312.09,99.62 312.51,97.95 312.80,97.80 C313.09,97.65 313.48,98.52 313.80,100.70 C314.12,102.88 314.67,109.86 315.10,113.40 C315.53,116.94 316.41,123.49 316.90,126.00 C317.39,128.51 318.19,130.40 318.60,131.30 C319.01,132.20 319.63,132.25 319.80,132.40 L319.80,132.40 L294.40,132.40 Z" fill="#9a9a9a" stroke="#333" stroke-width="0.75"/>
<line x1="308.20" y1="123.20" x2="331.50" y2="123.20" stroke="#444" stroke-width="0.8"/>
<line x1="308.20" y1="122.00" x2="308.20" y2="124.40" stroke="#444" stroke-width="0.6"/>
<line x1="331.50" y1="122.00" x2="331.50" y2="124.40" stroke="#444" stroke-width="0.6"/>
<rect x="317.35" y="119.60" width="5.00" height="0.80" fill="#bbb" stroke="none" stroke-width="1"/>
<path d="M352.00,132.40 C352.24,131.91 353.22,130.76 353.70,128.90 C354.18,127.04 354.95,122.00 355.40,119.10 C355.85,116.20 356.49,110.05 356.90,108.20 C357.31,106.35 357.87,105.90 358.30,105.90 C358.73,105.90 359.55,107.32 360.00,108.20 C360.45,109.08 361.14,112.28 361.50,112.20 C361.86,112.12 362.32,107.75 362.60,107.60 C362.88,107.45 363.25,111.25 363.50,111.10 C363.75,110.95 364.16,108.19 364.40,106.50 C364.64,104.81 364.89,99.00 365.20,99.00 C365.51,99.00 366.19,103.69 366.60,106.50 C367.01,109.31 367.65,115.88 368.10,119.10 C368.55,122.32 369.31,127.64 369.80,129.50 C370.29,131.36 371.35,131.99 371.60,132.40 L371.60,132.40 L352.00,132.40 Z" fill="#9a9a9a" stroke="#333" stroke-width="0.75"/>
<line x1="365.80" y1="123.20" x2="388.50" y2="123.20" stroke="#444" stroke-width="0.8"/>
<line x1="365.80" y1="122.00" x2="365.80" y2="124.40" stroke="#444" stroke-width="0.6"/>
<line x1="388.50" y1="122.00" x2="388.50" y2="124.40" stroke="#444" stroke-width="0.6"/>
<rect x="374.65" y="119.60" width="5.00" height="0.80" fill="#bbb" stroke="none" stroke-width="1"/>
<path d="M409.50,132.40 C409.75,131.84 410.81,130.42 411.30,128.40 C411.79,126.38 412.52,120.74 413.00,118.00 C413.48,115.26 414.29,110.17 414.70,108.80 C415.11,107.43 415.58,108.45 415.90,108.20 C416.22,107.95 416.64,106.44 417.00,107.00 C417.36,107.56 418.07,112.27 418.50,112.20 C418.93,112.13 419.58,108.28 420.10,106.50 C420.62,104.72 421.74,99.35 422.20,99.50 C422.66,99.65 423.04,104.69 423.40,107.60 C423.76,110.51 424.39,117.23 424.80,120.30 C425.21,123.37 425.85,127.81 426.30,129.50 C426.75,131.19 427.76,131.99 428.00,132.40 L428.00,132.40 L409.50,132.40 Z" fill="#9a9a9a" stroke="#333" stroke-width="0.75"/>
<line x1="423.60" y1="123.20" x2="446.40" y2="123.20" stroke="#444" stroke-width="0.8"/>
<line x1="423.60" y1="122.00" x2="423.60" y2="124.40" stroke="#444" stroke-width="0.6"/>
<line x1="446.40" y1="122.00" x2="446.40" y2="124.40" stroke="#444" stroke-width="0.6"/>
<rect x="432.50" y="119.60" width="5.00" height="0.80" fill="#bbb" stroke="none" stroke-width="1"/>
<path d="M466.50,132.40 C466.82,131.99 468.23,130.70 468.80,129.50 C469.37,128.30 470.11,125.26 470.60,123.80 C471.09,122.34 471.74,120.32 472.30,119.10 C472.86,117.88 474.04,116.22 474.60,115.10 C475.16,113.98 475.89,112.64 476.30,111.10 C476.71,109.56 477.21,105.79 477.50,104.10 C477.79,102.41 478.12,98.66 478.40,99.00 C478.68,99.34 479.19,103.52 479.50,106.50 C479.81,109.48 480.28,117.23 480.60,120.30 C480.92,123.37 481.42,126.71 481.80,128.40 C482.18,130.09 483.09,131.84 483.30,132.40 L483.30,132.40 L466.50,132.40 Z" fill="#9a9a9a" stroke="#333" stroke-width="0.75"/>
<line x1="480.40" y1="123.20" x2="504.00" y2="123.20" stroke="#444" stroke-width="0.8"/>
<line x1="480.40" y1="122.00" x2="480.40" y2="124.40" stroke="#444" stroke-width="0.6"/>
<line x1="504.00" y1="122.00" x2="504.00" y2="124.40" stroke="#444" stroke-width="0.6"/>
<rect x="489.70" y="119.60" width="5.00" height="0.80" fill="#bbb" stroke="none" stroke-width="1"/>
<path d="M293.80,188.40 C294.12,187.99 295.54,186.38 296.10,185.50 C296.66,184.62 297.31,183.07 297.80,182.10 C298.29,181.13 299.11,179.26 299.60,178.60 C300.09,177.94 300.82,177.40 301.30,177.40 C301.78,177.40 302.55,178.11 303.00,178.60 C303.45,179.09 304.09,180.73 304.50,180.90 C304.91,181.07 305.54,180.04 305.90,179.80 C306.26,179.56 306.69,180.74 307.10,179.20 C307.51,177.66 308.32,171.31 308.80,168.80 C309.28,166.29 310.09,162.55 310.50,161.30 C310.91,160.05 311.29,159.73 311.70,159.90 C312.11,160.07 312.92,160.85 313.40,162.50 C313.88,164.15 314.69,169.12 315.10,171.70 C315.51,174.28 315.89,179.29 316.30,180.90 C316.71,182.51 317.59,182.39 318.00,183.20 C318.41,184.01 318.82,185.97 319.20,186.70 C319.58,187.43 320.49,188.16 320.70,188.40 L320.70,188.40 L293.80,188.40 Z" fill="#9a9a9a" stroke="#333" stroke-width="0.75"/>
<line x1="308.20" y1="179.20" x2="331.50" y2="179.20" stroke="#444" stroke-width="0.8"/>
<line x1="308.20" y1="178.00" x2="308.20" y2="180.40" stroke="#444" stroke-width="0.6"/>
<line x1="331.50" y1="178.00" x2="331.50" y2="180.40" stroke="#444" stroke-width="0.6"/>
<rect x="317.35" y="175.60" width="5.00" height="0.80" fill="#bbb" stroke="none" stroke-width="1"/>
<path d="M350.80,188.40 C351.04,187.67 351.97,185.06 352.50,183.20 C353.03,181.34 354.08,175.83 354.60,175.10 C355.12,174.37 355.68,177.02 356.20,178.00 C356.72,178.98 357.68,181.85 358.30,182.10 C358.92,182.35 359.96,180.61 360.60,179.80 C361.24,178.99 362.34,177.35 362.90,176.30 C363.46,175.25 364.11,174.40 364.60,172.30 C365.09,170.20 365.91,163.51 366.40,161.30 C366.89,159.09 367.69,155.69 368.10,156.50 C368.51,157.31 368.92,164.33 369.30,167.10 C369.68,169.87 370.41,173.88 370.80,176.30 C371.19,178.72 371.67,182.71 372.10,184.40 C372.53,186.09 373.65,187.84 373.90,188.40 L373.90,188.40 L350.80,188.40 Z" fill="#9a9a9a" stroke="#333" stroke-width="0.75"/>
<line x1="365.80" y1="179.20" x2="388.50" y2="179.20" stroke="#444" stroke-width="0.8"/>
<line x1="365.80" y1="178.00" x2="365.80" y2="180.40" stroke="#444" stroke-width="0.6"/>
<line x1="388.50" y1="178.00" x2="388.50" y2="180.40" stroke="#444" stroke-width="0.6"/>
<rect x="374.65" y="175.60" width="5.00" height="0.80" fill="#bbb" stroke="none" stroke-width="1"/>
<path d="M409.50,188.40 C409.75,187.84 410.89,186.09 411.30,184.40 C411.71,182.71 412.08,178.27 412.40,176.30 C412.72,174.33 413.19,171.07 413.60,170.30 C414.01,169.53 414.89,170.20 415.30,170.80 C415.71,171.40 416.09,174.00 416.50,174.60 C416.91,175.20 417.72,175.51 418.20,175.10 C418.68,174.69 419.42,173.63 419.90,171.70 C420.38,169.77 421.03,163.60 421.60,161.30 C422.17,159.00 423.45,155.13 424.00,155.30 C424.55,155.47 425.14,159.73 425.50,162.50 C425.86,165.27 426.28,171.88 426.60,175.10 C426.92,178.32 427.45,183.64 427.80,185.50 C428.15,187.36 428.92,187.99 429.10,188.40 L429.10,188.40 L409.50,188.40 Z" fill="#9a9a9a" stroke="#333" stroke-width="0.75"/>
<line x1="423.60" y1="179.20" x2="446.40" y2="179.20" stroke="#444" stroke-width="0.8"/>
<line x1="423.60" y1="178.00" x2="423.60" y2="180.40" stroke="#444" stroke-width="0.6"/>
<line x1="446.40" y1="178.00" x2="446.40" y2="180.40" stroke="#444" stroke-width="0.6"/>
<rect x="432.50" y="175.60" width="5.00" height="0.80" fill="#bbb" stroke="none" stroke-width="1"/>
<path d="M466.00,188.40 C466.32,187.99 467.74,186.55 468.30,185.50 C468.86,184.45 469.52,181.87 470.00,180.90 C470.48,179.93 471.25,179.05 471.70,178.60 C472.15,178.15 472.79,177.70 473.20,177.70 C473.61,177.70 474.17,178.96 474.60,178.60 C475.03,178.24 475.89,176.56 476.30,175.10 C476.71,173.64 477.21,170.45 477.50,168.20 C477.79,165.95 478.16,160.81 478.40,159.00 C478.64,157.19 478.92,154.98 479.20,155.30 C479.48,155.62 480.08,158.53 480.40,161.30 C480.72,164.07 481.18,171.71 481.50,175.10 C481.82,178.49 482.34,183.64 482.70,185.50 C483.06,187.36 483.90,187.99 484.10,188.40 L484.10,188.40 L466.00,188.40 Z" fill="#9a9a9a" stroke="#333" stroke-width="0.75"/>
<line x1="480.90" y1="179.20" x2="504.00" y2="179.20" stroke="#444" stroke-width="0.8"/>
<line x1="480.90" y1="178.00" x2="480.90" y2="180.40" stroke="#444" stroke-width="0.6"/>
<line x1="504.00" y1="178.00" x2="504.00" y2="180.40" stroke="#444" stroke-width="0.6"/>
<rect x="489.95" y="175.60" width="5.00" height="0.80" fill="#bbb" stroke="none" stroke-width="1"/>
<text x="282.40" y="114.40" font-size="9.70" text-anchor="middle" fill="#222" stroke="#222" stroke-width="0.05" textLength="16.50" lengthAdjust="spacingAndGlyphs" transform="rotate(-90 282.40 114.40)">6 hrs</text>
<text x="282.40" y="173.10" font-size="9.70" text-anchor="middle" fill="#222" stroke="#222" stroke-width="0.05" textLength="21.00" lengthAdjust="spacingAndGlyphs" transform="rotate(-90 282.40 173.10)">24 hrs</text>
<rect x="507.70" y="154.80" width="1.30" height="2.60" fill="#d0304f" stroke="none" stroke-width="1"/>
<line x1="290.00" y1="198.50" x2="503.00" y2="198.50" stroke="#111" stroke-width="1.3"/>
<path d="M502,195.8 L508,198.5 L502,201.2 Z" fill="#111" stroke="none" stroke-width="1"/>
<line x1="303.00" y1="210.65" x2="303.00" y2="310.00" stroke="#151515" stroke-width="1.35"/>
<line x1="302.40" y1="310.00" x2="503.30" y2="310.00" stroke="#151515" stroke-width="1.4"/>
<line x1="299.70" y1="310.00" x2="303.00" y2="310.00" stroke="#151515" stroke-width="1.2"/>
<text x="296.40" y="312.90" font-size="8.37" text-anchor="end" fill="#222" stroke="#222" stroke-width="0.12" textLength="3.90" lengthAdjust="spacingAndGlyphs">0</text>
<line x1="299.70" y1="290.25" x2="303.00" y2="290.25" stroke="#151515" stroke-width="1.2"/>
<text x="296.40" y="293.15" font-size="8.37" text-anchor="end" fill="#222" stroke="#222" stroke-width="0.12" textLength="7.90" lengthAdjust="spacingAndGlyphs">20</text>
<line x1="299.70" y1="270.50" x2="303.00" y2="270.50" stroke="#151515" stroke-width="1.2"/>
<text x="296.40" y="273.40" font-size="8.37" text-anchor="end" fill="#222" stroke="#222" stroke-width="0.12" textLength="7.90" lengthAdjust="spacingAndGlyphs">40</text>
<line x1="299.70" y1="250.75" x2="303.00" y2="250.75" stroke="#151515" stroke-width="1.2"/>
<text x="296.40" y="253.65" font-size="8.37" text-anchor="end" fill="#222" stroke="#222" stroke-width="0.12" textLength="7.90" lengthAdjust="spacingAndGlyphs">60</text>
<line x1="299.70" y1="231.00" x2="303.00" y2="231.00" stroke="#151515" stroke-width="1.2"/>
<text x="296.40" y="233.90" font-size="8.37" text-anchor="end" fill="#222" stroke="#222" stroke-width="0.12" textLength="7.90" lengthAdjust="spacingAndGlyphs">80</text>
<line x1="299.70" y1="211.25" x2="303.00" y2="211.25" stroke="#151515" stroke-width="1.2"/>
<text x="296.40" y="214.15" font-size="8.37" text-anchor="end" fill="#222" stroke="#222" stroke-width="0.12" textLength="12.70" lengthAdjust="spacingAndGlyphs">100</text>
<text x="280.60" y="259.62" font-size="9.54" text-anchor="middle" fill="#222" stroke="#222" stroke-width="0.1" textLength="81.00" lengthAdjust="spacingAndGlyphs" transform="rotate(-90 280.60 259.62)">Relative p-BTK levels (%)</text>
<line x1="319.00" y1="252.00" x2="319.00" y2="243.25" stroke="#333" stroke-width="1"/>
<line x1="317.50" y1="243.25" x2="320.50" y2="243.25" stroke="#333" stroke-width="1"/>
<rect x="311.25" y="252.00" width="15.50" height="58.00" fill="#c8102e" stroke="none" stroke-width="1"/>
<line x1="319.00" y1="310.00" x2="319.00" y2="312.60" stroke="#222" stroke-width="1"/>
<line x1="343.10" y1="288.75" x2="343.10" y2="284.25" stroke="#333" stroke-width="1"/>
<line x1="341.60" y1="284.25" x2="344.60" y2="284.25" stroke="#333" stroke-width="1"/>
<rect x="335.60" y="288.75" width="15.00" height="21.25" fill="#0e4c84" stroke="none" stroke-width="1"/>
<line x1="343.10" y1="310.00" x2="343.10" y2="312.60" stroke="#222" stroke-width="1"/>
<line x1="367.00" y1="297.00" x2="367.00" y2="295.50" stroke="#333" stroke-width="1"/>
<line x1="365.50" y1="295.50" x2="368.50" y2="295.50" stroke="#333" stroke-width="1"/>
<rect x="359.50" y="297.00" width="15.00" height="13.00" fill="#3cb44b" stroke="none" stroke-width="1"/>
<line x1="367.00" y1="310.00" x2="367.00" y2="312.60" stroke="#222" stroke-width="1"/>
<line x1="390.90" y1="296.80" x2="390.90" y2="278.50" stroke="#333" stroke-width="1"/>
<line x1="389.40" y1="278.50" x2="392.40" y2="278.50" stroke="#333" stroke-width="1"/>
<rect x="383.20" y="296.80" width="15.40" height="13.20" fill="#5a2a7e" stroke="none" stroke-width="1"/>
<line x1="390.90" y1="310.00" x2="390.90" y2="312.60" stroke="#222" stroke-width="1"/>
<line x1="415.10" y1="250.70" x2="415.10" y2="241.30" stroke="#333" stroke-width="1"/>
<line x1="413.60" y1="241.30" x2="416.60" y2="241.30" stroke="#333" stroke-width="1"/>
<rect x="407.60" y="250.70" width="15.00" height="59.30" fill="#c8102e" stroke="none" stroke-width="1"/>
<line x1="415.10" y1="310.00" x2="415.10" y2="312.60" stroke="#222" stroke-width="1"/>
<line x1="438.95" y1="272.50" x2="438.95" y2="263.10" stroke="#333" stroke-width="1"/>
<line x1="437.45" y1="263.10" x2="440.45" y2="263.10" stroke="#333" stroke-width="1"/>
<rect x="431.40" y="272.50" width="15.10" height="37.50" fill="#0e4c84" stroke="none" stroke-width="1"/>
<line x1="438.95" y1="310.00" x2="438.95" y2="312.60" stroke="#222" stroke-width="1"/>
<line x1="462.95" y1="280.60" x2="462.95" y2="259.60" stroke="#333" stroke-width="1"/>
<line x1="461.45" y1="259.60" x2="464.45" y2="259.60" stroke="#333" stroke-width="1"/>
<rect x="455.40" y="280.60" width="15.10" height="29.40" fill="#3cb44b" stroke="none" stroke-width="1"/>
<line x1="462.95" y1="310.00" x2="462.95" y2="312.60" stroke="#222" stroke-width="1"/>
<line x1="487.15" y1="287.40" x2="487.15" y2="276.30" stroke="#333" stroke-width="1"/>
<line x1="485.65" y1="276.30" x2="488.65" y2="276.30" stroke="#333" stroke-width="1"/>
<rect x="479.60" y="287.40" width="15.10" height="22.60" fill="#5a2a7e" stroke="none" stroke-width="1"/>
<line x1="487.15" y1="310.00" x2="487.15" y2="312.60" stroke="#222" stroke-width="1"/>
<text x="343.10" y="272.00" font-size="9.12" text-anchor="middle" fill="#222" stroke="#222" stroke-width="0.15" textLength="6.30" lengthAdjust="spacingAndGlyphs">**</text>
<text x="367.00" y="277.50" font-size="9.12" text-anchor="middle" fill="#222" stroke="#222" stroke-width="0.15" textLength="13.00" lengthAdjust="spacingAndGlyphs">****</text>
<text x="390.90" y="277.50" font-size="9.12" text-anchor="middle" fill="#222" stroke="#222" stroke-width="0.15" textLength="13.00" lengthAdjust="spacingAndGlyphs">****</text>
<text x="438.95" y="256.90" font-size="9.12" text-anchor="middle" fill="#222" stroke="#222" stroke-width="0.15" textLength="3.20" lengthAdjust="spacingAndGlyphs">*</text>
<text x="462.95" y="258.20" font-size="9.12" text-anchor="middle" fill="#222" stroke="#222" stroke-width="0.15" textLength="6.30" lengthAdjust="spacingAndGlyphs">**</text>
<text x="487.15" y="274.40" font-size="9.12" text-anchor="middle" fill="#222" stroke="#222" stroke-width="0.15" textLength="9.70" lengthAdjust="spacingAndGlyphs">***</text>
<text x="390.20" y="208.20" font-size="8.69" text-anchor="start" fill="#222" stroke="#222" stroke-width="0.05" textLength="20.50" lengthAdjust="spacingAndGlyphs">p-BTK</text>
<text x="479.00" y="219.60" font-size="8.69" text-anchor="start" fill="#222" stroke="#222" stroke-width="0.05" textLength="20.50" lengthAdjust="spacingAndGlyphs">N = 3</text>
<text x="322.20" y="320.60" font-size="9.12" text-anchor="end" fill="#222" stroke="#222" stroke-width="0.03" textLength="23.50" lengthAdjust="spacingAndGlyphs" transform="rotate(-45 322.20 320.60)">Vehicle</text>
<text x="346.20" y="320.60" font-size="9.12" text-anchor="end" fill="#222" stroke="#222" stroke-width="0.03" textLength="31.00" lengthAdjust="spacingAndGlyphs" transform="rotate(-45 346.20 320.60)">25mg/kg</text>
<text x="370.20" y="320.60" font-size="9.12" text-anchor="end" fill="#222" stroke="#222" stroke-width="0.03" textLength="31.00" lengthAdjust="spacingAndGlyphs" transform="rotate(-45 370.20 320.60)">50mg/kg</text>
<text x="394.20" y="320.60" font-size="9.12" text-anchor="end" fill="#222" stroke="#222" stroke-width="0.03" textLength="31.00" lengthAdjust="spacingAndGlyphs" transform="rotate(-45 394.20 320.60)">75mg/kg</text>
<text x="418.20" y="320.60" font-size="9.12" text-anchor="end" fill="#222" stroke="#222" stroke-width="0.03" textLength="23.50" lengthAdjust="spacingAndGlyphs" transform="rotate(-45 418.20 320.60)">Vehicle</text>
<text x="442.20" y="320.60" font-size="9.12" text-anchor="end" fill="#222" stroke="#222" stroke-width="0.03" textLength="31.00" lengthAdjust="spacingAndGlyphs" transform="rotate(-45 442.20 320.60)">25mg/kg</text>
<text x="466.20" y="320.60" font-size="9.12" text-anchor="end" fill="#222" stroke="#222" stroke-width="0.03" textLength="31.00" lengthAdjust="spacingAndGlyphs" transform="rotate(-45 466.20 320.60)">50mg/kg</text>
<text x="490.20" y="320.60" font-size="9.12" text-anchor="end" fill="#222" stroke="#222" stroke-width="0.03" textLength="31.00" lengthAdjust="spacingAndGlyphs" transform="rotate(-45 490.20 320.60)">75mg/kg</text>
<line x1="313.20" y1="344.30" x2="399.00" y2="344.30" stroke="#333" stroke-width="1"/>
<line x1="406.90" y1="344.30" x2="493.20" y2="344.30" stroke="#333" stroke-width="1"/>
<text x="354.50" y="357.40" font-size="9.96" text-anchor="middle" fill="#222" stroke="#222" stroke-width="0.03" textLength="17.00" lengthAdjust="spacingAndGlyphs">6 hrs</text>
<text x="447.00" y="357.40" font-size="9.96" text-anchor="middle" fill="#222" stroke="#222" stroke-width="0.03" textLength="22.00" lengthAdjust="spacingAndGlyphs">24 hrs</text>
<rect x="29.50" y="374.00" width="274.30" height="137.70" fill="none" stroke="#151515" stroke-width="1.5"/>
<text x="117.50" y="385.00" font-size="8.10" text-anchor="start" fill="#222" stroke="#222" stroke-width="0.1" textLength="97.00" lengthAdjust="spacingAndGlyphs">Mean tumor volume &#177; SEM</text>
<line x1="80.00" y1="398.20" x2="80.00" y2="480.00" stroke="#151515" stroke-width="1.35"/>
<line x1="79.40" y1="480.00" x2="252.00" y2="480.00" stroke="#151515" stroke-width="1.35"/>
<line x1="77.00" y1="480.00" x2="80.00" y2="480.00" stroke="#222" stroke-width="1.1"/>
<text x="73.80" y="482.80" font-size="8.30" text-anchor="end" fill="#222" stroke="#222" stroke-width="0.1" textLength="11.25" lengthAdjust="spacingAndGlyphs">0.0</text>
<line x1="77.00" y1="463.75" x2="80.00" y2="463.75" stroke="#222" stroke-width="1.1"/>
<text x="73.80" y="466.55" font-size="8.30" text-anchor="end" fill="#222" stroke="#222" stroke-width="0.1" textLength="20.00" lengthAdjust="spacingAndGlyphs">500.0</text>
<line x1="77.00" y1="447.50" x2="80.00" y2="447.50" stroke="#222" stroke-width="1.1"/>
<text x="73.80" y="450.30" font-size="8.30" text-anchor="end" fill="#222" stroke="#222" stroke-width="0.1" textLength="23.75" lengthAdjust="spacingAndGlyphs">1000.0</text>
<line x1="77.00" y1="431.25" x2="80.00" y2="431.25" stroke="#222" stroke-width="1.1"/>
<text x="73.80" y="434.05" font-size="8.30" text-anchor="end" fill="#222" stroke="#222" stroke-width="0.1" textLength="23.75" lengthAdjust="spacingAndGlyphs">1500.0</text>
<line x1="77.00" y1="415.00" x2="80.00" y2="415.00" stroke="#222" stroke-width="1.1"/>
<text x="73.80" y="417.80" font-size="8.30" text-anchor="end" fill="#222" stroke="#222" stroke-width="0.1" textLength="23.75" lengthAdjust="spacingAndGlyphs">2000.0</text>
<line x1="77.00" y1="398.75" x2="80.00" y2="398.75" stroke="#222" stroke-width="1.1"/>
<text x="73.80" y="401.55" font-size="8.30" text-anchor="end" fill="#222" stroke="#222" stroke-width="0.1" textLength="23.75" lengthAdjust="spacingAndGlyphs">2500.0</text>
<line x1="80.00" y1="480.00" x2="80.00" y2="482.80" stroke="#222" stroke-width="1.1"/>
<text x="80.00" y="491.30" font-size="8.30" text-anchor="middle" fill="#222" stroke="#222" stroke-width="0.1" textLength="4.30" lengthAdjust="spacingAndGlyphs">0</text>
<line x1="95.46" y1="480.00" x2="95.46" y2="482.80" stroke="#222" stroke-width="1.1"/>
<text x="95.46" y="491.30" font-size="8.30" text-anchor="middle" fill="#222" stroke="#222" stroke-width="0.1" textLength="4.30" lengthAdjust="spacingAndGlyphs">7</text>
<line x1="110.91" y1="480.00" x2="110.91" y2="482.80" stroke="#222" stroke-width="1.1"/>
<text x="110.91" y="491.30" font-size="8.30" text-anchor="middle" fill="#222" stroke="#222" stroke-width="0.1" textLength="9.20" lengthAdjust="spacingAndGlyphs">14</text>
<line x1="126.37" y1="480.00" x2="126.37" y2="482.80" stroke="#222" stroke-width="1.1"/>
<text x="126.37" y="491.30" font-size="8.30" text-anchor="middle" fill="#222" stroke="#222" stroke-width="0.1" textLength="9.20" lengthAdjust="spacingAndGlyphs">21</text>
<line x1="141.82" y1="480.00" x2="141.82" y2="482.80" stroke="#222" stroke-width="1.1"/>
<text x="141.82" y="491.30" font-size="8.30" text-anchor="middle" fill="#222" stroke="#222" stroke-width="0.1" textLength="9.20" lengthAdjust="spacingAndGlyphs">28</text>
<line x1="157.28" y1="480.00" x2="157.28" y2="482.80" stroke="#222" stroke-width="1.1"/>
<text x="157.28" y="491.30" font-size="8.30" text-anchor="middle" fill="#222" stroke="#222" stroke-width="0.1" textLength="9.20" lengthAdjust="spacingAndGlyphs">35</text>
<line x1="172.74" y1="480.00" x2="172.74" y2="482.80" stroke="#222" stroke-width="1.1"/>
<text x="172.74" y="491.30" font-size="8.30" text-anchor="middle" fill="#222" stroke="#222" stroke-width="0.1" textLength="9.20" lengthAdjust="spacingAndGlyphs">42</text>
<line x1="188.19" y1="480.00" x2="188.19" y2="482.80" stroke="#222" stroke-width="1.1"/>
<text x="188.19" y="491.30" font-size="8.30" text-anchor="middle" fill="#222" stroke="#222" stroke-width="0.1" textLength="9.20" lengthAdjust="spacingAndGlyphs">49</text>
<line x1="203.65" y1="480.00" x2="203.65" y2="482.80" stroke="#222" stroke-width="1.1"/>
<text x="203.65" y="491.30" font-size="8.30" text-anchor="middle" fill="#222" stroke="#222" stroke-width="0.1" textLength="9.20" lengthAdjust="spacingAndGlyphs">56</text>
<line x1="219.10" y1="480.00" x2="219.10" y2="482.80" stroke="#222" stroke-width="1.1"/>
<text x="219.10" y="491.30" font-size="8.30" text-anchor="middle" fill="#222" stroke="#222" stroke-width="0.1" textLength="9.20" lengthAdjust="spacingAndGlyphs">63</text>
<line x1="234.56" y1="480.00" x2="234.56" y2="482.80" stroke="#222" stroke-width="1.1"/>
<text x="234.56" y="491.30" font-size="8.30" text-anchor="middle" fill="#222" stroke="#222" stroke-width="0.1" textLength="9.20" lengthAdjust="spacingAndGlyphs">70</text>
<line x1="250.02" y1="480.00" x2="250.02" y2="482.80" stroke="#222" stroke-width="1.1"/>
<text x="250.02" y="491.30" font-size="8.30" text-anchor="middle" fill="#222" stroke="#222" stroke-width="0.1" textLength="9.20" lengthAdjust="spacingAndGlyphs">77</text>
<text x="167.70" y="504.80" font-size="9.12" text-anchor="middle" fill="#222" stroke="#222" stroke-width="0.1" textLength="35.00" lengthAdjust="spacingAndGlyphs">Study days</text>
<text x="42.20" y="438.40" font-size="8.90" text-anchor="middle" fill="#222" stroke="#222" stroke-width="0.1" textLength="72.00" lengthAdjust="spacingAndGlyphs" transform="rotate(-90 42.20 438.40)">Tumor volume (mm<tspan dy="-2.5" font-size="5.5">3</tspan><tspan dy="2.5">)</tspan></text>
<path d="M80.00,473.75 L88.25,475.00 L97.00,476.25 L103.75,477.50 L113.00,478.25 L119.50,479.25 L128.00,479.25 L134.50,479.25 L143.75,477.00 L152.50,476.25 L158.75,476.25 L165.75,473.75 L175.00,470.75 L181.25,467.00 L190.00,458.75 L197.00,451.25 L206.25,437.50" fill="none" stroke="#5a2a7e" stroke-width="1.3" stroke-linejoin="round"/>
<line x1="190.00" y1="455.00" x2="190.00" y2="462.50" stroke="#5a2a7e" stroke-width="0.8" opacity="0.75"/>
<line x1="188.00" y1="455.00" x2="192.00" y2="455.00" stroke="#5a2a7e" stroke-width="0.8" opacity="0.75"/>
<line x1="188.00" y1="462.50" x2="192.00" y2="462.50" stroke="#5a2a7e" stroke-width="0.8" opacity="0.75"/>
<line x1="197.00" y1="446.00" x2="197.00" y2="456.00" stroke="#5a2a7e" stroke-width="0.8" opacity="0.75"/>
<line x1="195.00" y1="446.00" x2="199.00" y2="446.00" stroke="#5a2a7e" stroke-width="0.8" opacity="0.75"/>
<line x1="195.00" y1="456.00" x2="199.00" y2="456.00" stroke="#5a2a7e" stroke-width="0.8" opacity="0.75"/>
<line x1="206.25" y1="428.25" x2="206.25" y2="446.25" stroke="#5a2a7e" stroke-width="0.8" opacity="0.75"/>
<line x1="204.25" y1="428.25" x2="208.25" y2="428.25" stroke="#5a2a7e" stroke-width="0.8" opacity="0.75"/>
<line x1="204.25" y1="446.25" x2="208.25" y2="446.25" stroke="#5a2a7e" stroke-width="0.8" opacity="0.75"/>
<circle cx="80.00" cy="473.75" r="2.15" fill="#5a2a7e"/>
<circle cx="88.25" cy="475.00" r="2.15" fill="#5a2a7e"/>
<circle cx="97.00" cy="476.25" r="2.15" fill="#5a2a7e"/>
<circle cx="103.75" cy="477.50" r="2.15" fill="#5a2a7e"/>
<circle cx="113.00" cy="478.25" r="2.15" fill="#5a2a7e"/>
<circle cx="119.50" cy="479.25" r="2.15" fill="#5a2a7e"/>
<circle cx="128.00" cy="479.25" r="2.15" fill="#5a2a7e"/>
<circle cx="134.50" cy="479.25" r="2.15" fill="#5a2a7e"/>
<circle cx="143.75" cy="477.00" r="2.15" fill="#5a2a7e"/>
<circle cx="152.50" cy="476.25" r="2.15" fill="#5a2a7e"/>
<circle cx="158.75" cy="476.25" r="2.15" fill="#5a2a7e"/>
<circle cx="165.75" cy="473.75" r="2.15" fill="#5a2a7e"/>
<circle cx="175.00" cy="470.75" r="2.15" fill="#5a2a7e"/>
<circle cx="181.25" cy="467.00" r="2.15" fill="#5a2a7e"/>
<circle cx="190.00" cy="458.75" r="2.15" fill="#5a2a7e"/>
<circle cx="197.00" cy="451.25" r="2.15" fill="#5a2a7e"/>
<circle cx="206.25" cy="437.50" r="2.15" fill="#5a2a7e"/>
<path d="M80.00,473.75 L88.25,475.00 L97.00,477.00 L103.75,478.00 L113.00,478.00 L119.50,479.25 L128.00,479.25 L134.50,479.25 L143.75,478.00 L152.50,477.00 L158.75,477.00 L165.75,477.00 L175.00,476.25 L181.25,475.50 L190.00,474.50 L197.00,473.75 L206.25,470.75 L212.50,469.50 L223.75,469.25 L230.00,467.50 L239.50,468.25" fill="none" stroke="#3cb44b" stroke-width="1.3" stroke-linejoin="round"/>
<line x1="206.25" y1="466.00" x2="206.25" y2="475.00" stroke="#3cb44b" stroke-width="0.8" opacity="0.75"/>
<line x1="204.25" y1="466.00" x2="208.25" y2="466.00" stroke="#3cb44b" stroke-width="0.8" opacity="0.75"/>
<line x1="204.25" y1="475.00" x2="208.25" y2="475.00" stroke="#3cb44b" stroke-width="0.8" opacity="0.75"/>
<line x1="212.50" y1="463.00" x2="212.50" y2="476.00" stroke="#3cb44b" stroke-width="0.8" opacity="0.75"/>
<line x1="210.50" y1="463.00" x2="214.50" y2="463.00" stroke="#3cb44b" stroke-width="0.8" opacity="0.75"/>
<line x1="210.50" y1="476.00" x2="214.50" y2="476.00" stroke="#3cb44b" stroke-width="0.8" opacity="0.75"/>
<line x1="223.75" y1="461.00" x2="223.75" y2="477.50" stroke="#3cb44b" stroke-width="0.8" opacity="0.75"/>
<line x1="221.75" y1="461.00" x2="225.75" y2="461.00" stroke="#3cb44b" stroke-width="0.8" opacity="0.75"/>
<line x1="221.75" y1="477.50" x2="225.75" y2="477.50" stroke="#3cb44b" stroke-width="0.8" opacity="0.75"/>
<line x1="230.00" y1="459.00" x2="230.00" y2="476.00" stroke="#3cb44b" stroke-width="0.8" opacity="0.75"/>
<line x1="228.00" y1="459.00" x2="232.00" y2="459.00" stroke="#3cb44b" stroke-width="0.8" opacity="0.75"/>
<line x1="228.00" y1="476.00" x2="232.00" y2="476.00" stroke="#3cb44b" stroke-width="0.8" opacity="0.75"/>
<line x1="239.50" y1="458.00" x2="239.50" y2="478.50" stroke="#3cb44b" stroke-width="0.8" opacity="0.75"/>
<line x1="237.50" y1="458.00" x2="241.50" y2="458.00" stroke="#3cb44b" stroke-width="0.8" opacity="0.75"/>
<line x1="237.50" y1="478.50" x2="241.50" y2="478.50" stroke="#3cb44b" stroke-width="0.8" opacity="0.75"/>
<circle cx="80.00" cy="473.75" r="2.15" fill="#3cb44b"/>
<circle cx="88.25" cy="475.00" r="2.15" fill="#3cb44b"/>
<circle cx="97.00" cy="477.00" r="2.15" fill="#3cb44b"/>
<circle cx="103.75" cy="478.00" r="2.15" fill="#3cb44b"/>
<circle cx="113.00" cy="478.00" r="2.15" fill="#3cb44b"/>
<circle cx="119.50" cy="479.25" r="2.15" fill="#3cb44b"/>
<circle cx="128.00" cy="479.25" r="2.15" fill="#3cb44b"/>
<circle cx="134.50" cy="479.25" r="2.15" fill="#3cb44b"/>
<circle cx="143.75" cy="478.00" r="2.15" fill="#3cb44b"/>
<circle cx="152.50" cy="477.00" r="2.15" fill="#3cb44b"/>
<circle cx="158.75" cy="477.00" r="2.15" fill="#3cb44b"/>
<circle cx="165.75" cy="477.00" r="2.15" fill="#3cb44b"/>
<circle cx="175.00" cy="476.25" r="2.15" fill="#3cb44b"/>
<circle cx="181.25" cy="475.50" r="2.15" fill="#3cb44b"/>
<circle cx="190.00" cy="474.50" r="2.15" fill="#3cb44b"/>
<circle cx="197.00" cy="473.75" r="2.15" fill="#3cb44b"/>
<circle cx="206.25" cy="470.75" r="2.15" fill="#3cb44b"/>
<circle cx="212.50" cy="469.50" r="2.15" fill="#3cb44b"/>
<circle cx="223.75" cy="469.25" r="2.15" fill="#3cb44b"/>
<circle cx="230.00" cy="467.50" r="2.15" fill="#3cb44b"/>
<circle cx="239.50" cy="468.25" r="2.15" fill="#3cb44b"/>
<path d="M80.00,474.00 L88.25,472.50 L97.00,469.50 L103.75,462.00 L113.00,458.00 L119.50,447.00 L128.00,436.25 L134.50,423.75" fill="none" stroke="#0e4c84" stroke-width="1.3" stroke-linejoin="round"/>
<line x1="103.75" y1="459.00" x2="103.75" y2="465.00" stroke="#0e4c84" stroke-width="0.8" opacity="0.75"/>
<line x1="101.75" y1="459.00" x2="105.75" y2="459.00" stroke="#0e4c84" stroke-width="0.8" opacity="0.75"/>
<line x1="101.75" y1="465.00" x2="105.75" y2="465.00" stroke="#0e4c84" stroke-width="0.8" opacity="0.75"/>
<line x1="113.00" y1="454.00" x2="113.00" y2="461.00" stroke="#0e4c84" stroke-width="0.8" opacity="0.75"/>
<line x1="111.00" y1="454.00" x2="115.00" y2="454.00" stroke="#0e4c84" stroke-width="0.8" opacity="0.75"/>
<line x1="111.00" y1="461.00" x2="115.00" y2="461.00" stroke="#0e4c84" stroke-width="0.8" opacity="0.75"/>
<line x1="119.50" y1="442.00" x2="119.50" y2="452.00" stroke="#0e4c84" stroke-width="0.8" opacity="0.75"/>
<line x1="117.50" y1="442.00" x2="121.50" y2="442.00" stroke="#0e4c84" stroke-width="0.8" opacity="0.75"/>
<line x1="117.50" y1="452.00" x2="121.50" y2="452.00" stroke="#0e4c84" stroke-width="0.8" opacity="0.75"/>
<line x1="128.00" y1="426.25" x2="128.00" y2="445.00" stroke="#0e4c84" stroke-width="0.8" opacity="0.75"/>
<line x1="126.00" y1="426.25" x2="130.00" y2="426.25" stroke="#0e4c84" stroke-width="0.8" opacity="0.75"/>
<line x1="126.00" y1="445.00" x2="130.00" y2="445.00" stroke="#0e4c84" stroke-width="0.8" opacity="0.75"/>
<line x1="134.50" y1="413.75" x2="134.50" y2="433.75" stroke="#0e4c84" stroke-width="0.8" opacity="0.75"/>
<line x1="132.50" y1="413.75" x2="136.50" y2="413.75" stroke="#0e4c84" stroke-width="0.8" opacity="0.75"/>
<line x1="132.50" y1="433.75" x2="136.50" y2="433.75" stroke="#0e4c84" stroke-width="0.8" opacity="0.75"/>
<circle cx="80.00" cy="474.00" r="2.15" fill="#0e4c84"/>
<circle cx="88.25" cy="472.50" r="2.15" fill="#0e4c84"/>
<circle cx="97.00" cy="469.50" r="2.15" fill="#0e4c84"/>
<circle cx="103.75" cy="462.00" r="2.15" fill="#0e4c84"/>
<circle cx="113.00" cy="458.00" r="2.15" fill="#0e4c84"/>
<circle cx="119.50" cy="447.00" r="2.15" fill="#0e4c84"/>
<circle cx="128.00" cy="436.25" r="2.15" fill="#0e4c84"/>
<circle cx="134.50" cy="423.75" r="2.15" fill="#0e4c84"/>
<path d="M80.00,474.00 L88.25,471.25 L97.00,465.75 L103.75,461.25 L113.00,452.00 L119.50,440.50 L128.00,436.25 L134.50,434.50 L143.75,421.25" fill="none" stroke="#c8102e" stroke-width="1.3" stroke-linejoin="round"/>
<line x1="113.00" y1="448.00" x2="113.00" y2="456.25" stroke="#c8102e" stroke-width="0.8" opacity="0.75"/>
<line x1="111.00" y1="448.00" x2="115.00" y2="448.00" stroke="#c8102e" stroke-width="0.8" opacity="0.75"/>
<line x1="111.00" y1="456.25" x2="115.00" y2="456.25" stroke="#c8102e" stroke-width="0.8" opacity="0.75"/>
<line x1="119.50" y1="436.25" x2="119.50" y2="445.00" stroke="#c8102e" stroke-width="0.8" opacity="0.75"/>
<line x1="117.50" y1="436.25" x2="121.50" y2="436.25" stroke="#c8102e" stroke-width="0.8" opacity="0.75"/>
<line x1="117.50" y1="445.00" x2="121.50" y2="445.00" stroke="#c8102e" stroke-width="0.8" opacity="0.75"/>
<line x1="128.00" y1="431.00" x2="128.00" y2="441.00" stroke="#c8102e" stroke-width="0.8" opacity="0.75"/>
<line x1="126.00" y1="431.00" x2="130.00" y2="431.00" stroke="#c8102e" stroke-width="0.8" opacity="0.75"/>
<line x1="126.00" y1="441.00" x2="130.00" y2="441.00" stroke="#c8102e" stroke-width="0.8" opacity="0.75"/>
<line x1="134.50" y1="425.50" x2="134.50" y2="442.50" stroke="#c8102e" stroke-width="0.8" opacity="0.75"/>
<line x1="132.50" y1="425.50" x2="136.50" y2="425.50" stroke="#c8102e" stroke-width="0.8" opacity="0.75"/>
<line x1="132.50" y1="442.50" x2="136.50" y2="442.50" stroke="#c8102e" stroke-width="0.8" opacity="0.75"/>
<line x1="143.75" y1="411.25" x2="143.75" y2="431.25" stroke="#c8102e" stroke-width="0.8" opacity="0.75"/>
<line x1="141.75" y1="411.25" x2="145.75" y2="411.25" stroke="#c8102e" stroke-width="0.8" opacity="0.75"/>
<line x1="141.75" y1="431.25" x2="145.75" y2="431.25" stroke="#c8102e" stroke-width="0.8" opacity="0.75"/>
<circle cx="80.00" cy="474.00" r="2.15" fill="#c8102e"/>
<circle cx="88.25" cy="471.25" r="2.15" fill="#c8102e"/>
<circle cx="97.00" cy="465.75" r="2.15" fill="#c8102e"/>
<circle cx="103.75" cy="461.25" r="2.15" fill="#c8102e"/>
<circle cx="113.00" cy="452.00" r="2.15" fill="#c8102e"/>
<circle cx="119.50" cy="440.50" r="2.15" fill="#c8102e"/>
<circle cx="128.00" cy="436.25" r="2.15" fill="#c8102e"/>
<circle cx="134.50" cy="434.50" r="2.15" fill="#c8102e"/>
<circle cx="143.75" cy="421.25" r="2.15" fill="#c8102e"/>
<line x1="252.10" y1="400.40" x2="265.30" y2="400.40" stroke="#c8102e" stroke-width="1.3"/>
<circle cx="258.8" cy="400.40" r="1.8" fill="#c8102e"/>
<text x="268.30" y="403.20" font-size="7.90" text-anchor="start" fill="#222" stroke="#222" stroke-width="0.1" textLength="23.50" lengthAdjust="spacingAndGlyphs">Vehicle</text>
<line x1="252.10" y1="414.90" x2="265.30" y2="414.90" stroke="#0e4c84" stroke-width="1.3"/>
<circle cx="258.8" cy="414.90" r="1.8" fill="#0e4c84"/>
<text x="268.30" y="417.60" font-size="7.90" text-anchor="start" fill="#222" stroke="#222" stroke-width="0.1" textLength="29.80" lengthAdjust="spacingAndGlyphs">Ibrutinib,</text>
<text x="268.30" y="426.30" font-size="7.90" text-anchor="start" fill="#222" stroke="#222" stroke-width="0.1" textLength="29.60" lengthAdjust="spacingAndGlyphs">50mg/kg</text>
<line x1="252.10" y1="437.10" x2="265.30" y2="437.10" stroke="#5a2a7e" stroke-width="1.3"/>
<circle cx="258.8" cy="437.10" r="1.8" fill="#5a2a7e"/>
<text x="268.30" y="440.10" font-size="7.90" text-anchor="start" fill="#222" stroke="#222" stroke-width="0.1" textLength="32.50" lengthAdjust="spacingAndGlyphs">KIN-8194,</text>
<text x="268.30" y="448.80" font-size="7.90" text-anchor="start" fill="#222" stroke="#222" stroke-width="0.1" textLength="29.60" lengthAdjust="spacingAndGlyphs">50mg/kg</text>
<line x1="252.10" y1="459.30" x2="265.30" y2="459.30" stroke="#3cb44b" stroke-width="1.3"/>
<circle cx="258.8" cy="459.30" r="1.8" fill="#3cb44b"/>
<text x="268.30" y="462.40" font-size="7.90" text-anchor="start" fill="#222" stroke="#222" stroke-width="0.1" textLength="32.50" lengthAdjust="spacingAndGlyphs">KIN-8194,</text>
<text x="268.30" y="471.40" font-size="7.90" text-anchor="start" fill="#222" stroke="#222" stroke-width="0.1" textLength="29.60" lengthAdjust="spacingAndGlyphs">75mg/kg</text>
<text x="419.50" y="385.00" font-size="8.20" text-anchor="start" fill="#222" stroke="#222" stroke-width="0.1" textLength="24.70" lengthAdjust="spacingAndGlyphs">Day 29</text>
<path d="M385.6,403.5 L385.6,388.2 L477.5,388.2 L477.5,485" fill="none" stroke="#333" stroke-width="1.1"/>
<line x1="446.30" y1="388.20" x2="446.30" y2="474.00" stroke="#333" stroke-width="1.1"/>
<path d="M385.5,487.8 L385.5,492.9 L415.7,492.9 L415.7,487.8" fill="none" stroke="#333" stroke-width="1.1"/>
<text x="383.40" y="503.40" font-size="8.10" text-anchor="start" fill="#222" stroke="#222" stroke-width="0.1" textLength="33.10" lengthAdjust="spacingAndGlyphs"><tspan font-style="italic">P</tspan> = 0.798</text>
<text x="427.30" y="484.50" font-size="8.10" text-anchor="start" fill="#222" stroke="#222" stroke-width="0.1" textLength="37.90" lengthAdjust="spacingAndGlyphs"><tspan font-style="italic">P</tspan> = 0.0009</text>
<text x="457.50" y="502.70" font-size="8.10" text-anchor="start" fill="#222" stroke="#222" stroke-width="0.1" textLength="38.50" lengthAdjust="spacingAndGlyphs"><tspan font-style="italic">P</tspan> &lt; 0.0034</text>
<line x1="366.10" y1="404.60" x2="366.10" y2="522.00" stroke="#151515" stroke-width="1.35"/>
<line x1="365.50" y1="521.90" x2="495.00" y2="521.90" stroke="#151515" stroke-width="1.35"/>
<line x1="362.60" y1="405.60" x2="366.10" y2="405.60" stroke="#222" stroke-width="1.1"/>
<line x1="362.60" y1="415.30" x2="366.10" y2="415.30" stroke="#222" stroke-width="1.1"/>
<line x1="362.60" y1="440.90" x2="366.10" y2="440.90" stroke="#222" stroke-width="1.1"/>
<line x1="362.60" y1="466.40" x2="366.10" y2="466.40" stroke="#222" stroke-width="1.1"/>
<line x1="362.60" y1="491.40" x2="366.10" y2="491.40" stroke="#222" stroke-width="1.1"/>
<line x1="362.60" y1="516.90" x2="366.10" y2="516.90" stroke="#222" stroke-width="1.1"/>
<text x="360.70" y="408.80" font-size="8.20" text-anchor="end" fill="#222" stroke="#222" stroke-width="0.1" textLength="17.40" lengthAdjust="spacingAndGlyphs">2500</text>
<text x="360.70" y="431.00" font-size="8.20" text-anchor="end" fill="#222" stroke="#222" stroke-width="0.1" textLength="17.40" lengthAdjust="spacingAndGlyphs">2000</text>
<text x="360.70" y="453.30" font-size="8.20" text-anchor="end" fill="#222" stroke="#222" stroke-width="0.1" textLength="17.40" lengthAdjust="spacingAndGlyphs">1500</text>
<text x="360.70" y="475.30" font-size="8.20" text-anchor="end" fill="#222" stroke="#222" stroke-width="0.1" textLength="17.40" lengthAdjust="spacingAndGlyphs">1000</text>
<text x="360.70" y="497.50" font-size="8.20" text-anchor="end" fill="#222" stroke="#222" stroke-width="0.1" textLength="12.60" lengthAdjust="spacingAndGlyphs">500</text>
<text x="360.70" y="519.70" font-size="8.20" text-anchor="end" fill="#222" stroke="#222" stroke-width="0.1" textLength="4.20" lengthAdjust="spacingAndGlyphs">0</text>
<text x="337.20" y="463.00" font-size="8.48" text-anchor="middle" fill="#222" stroke="#222" stroke-width="0.22" textLength="72.00" lengthAdjust="spacingAndGlyphs" transform="rotate(-90 337.20 463.00)">Tumor volume (mm<tspan dy="-2.5" font-size="5.5">3</tspan><tspan dy="2.5">)</tspan></text>
<line x1="385.80" y1="521.90" x2="385.80" y2="525.00" stroke="#222" stroke-width="1.1"/>
<line x1="415.70" y1="521.90" x2="415.70" y2="525.00" stroke="#222" stroke-width="1.1"/>
<line x1="446.10" y1="521.90" x2="446.10" y2="525.00" stroke="#222" stroke-width="1.1"/>
<line x1="476.60" y1="521.90" x2="476.60" y2="525.00" stroke="#222" stroke-width="1.1"/>
<path d="M374.50,413.50 C374.36,413.71 373.67,413.85 373.50,415.00 C373.33,416.15 372.95,419.10 373.30,421.70 C373.65,424.30 375.05,430.48 376.00,433.60 C376.95,436.72 379.16,440.68 380.10,444.00 C381.04,447.32 382.25,453.35 382.70,457.30 C383.15,461.25 383.22,468.35 383.30,472.20 C383.38,476.05 383.30,483.04 383.30,484.80 L388.90,484.80 C388.90,483.04 388.82,476.05 388.90,472.20 C388.98,468.35 389.05,461.25 389.50,457.30 C389.95,453.35 391.16,447.32 392.10,444.00 C393.04,440.68 395.25,436.72 396.20,433.60 C397.15,430.48 398.55,424.30 398.90,421.70 C399.25,419.10 398.87,416.15 398.70,415.00 C398.53,413.85 397.84,413.71 397.70,413.50 Z" fill="#9fc7ba" stroke="#2a7a66" stroke-width="1.2"/>
<line x1="386.10" y1="413.50" x2="386.10" y2="484.80" stroke="#555" stroke-width="0.8"/>
<rect x="385.00" y="418.50" width="2.30" height="16.00" fill="#111" stroke="none" stroke-width="1"/>
<path d="M384,416.5 L388.2,416.5 L386.1,419 Z" fill="#1a6a55" stroke="none" stroke-width="1"/>
<circle cx="386.1" cy="441.7" r="0.9" fill="#1a6a55"/><circle cx="386.1" cy="413.8" r="0.9" fill="#1a6a55"/><circle cx="384.6" cy="484.3" r="0.9" fill="#1a6a55"/>
<path d="M407.70,401.70 C407.38,402.02 406.06,400.78 405.40,404.00 C404.74,407.22 402.99,419.10 403.00,424.70 C403.01,430.30 404.73,438.81 405.50,444.00 C406.27,449.19 407.74,456.62 408.50,461.80 C409.26,466.98 410.56,478.31 410.90,481.00 L420.90,481.00 C421.24,478.31 422.54,466.98 423.30,461.80 C424.06,456.62 425.53,449.19 426.30,444.00 C427.07,438.81 428.79,430.30 428.80,424.70 C428.81,419.10 427.06,407.22 426.40,404.00 C425.74,400.78 424.42,402.02 424.10,401.70 Z" fill="#fdd5a8" stroke="#f5a030" stroke-width="1.2"/>
<line x1="415.90" y1="401.70" x2="415.90" y2="481.00" stroke="#777" stroke-width="0.8"/>
<rect x="414.75" y="415.00" width="2.30" height="35.00" fill="#111" stroke="none" stroke-width="1"/>
<circle cx="415.9" cy="401.9" r="0.9" fill="#f39a2a"/>
<circle cx="415.9" cy="415.3" r="0.9" fill="#f39a2a"/>
<circle cx="415.9" cy="426.5" r="0.9" fill="#f39a2a"/>
<circle cx="415.9" cy="443" r="0.9" fill="#f39a2a"/>
<circle cx="415.9" cy="456" r="0.9" fill="#f39a2a"/>
<circle cx="415.9" cy="481" r="0.9" fill="#f39a2a"/>
<path d="M433,514.2 C436,512.2 439,511.3 441.5,511.5 C443.5,511.6 444.5,511.9 445.8,511.9 C447,511.9 448.2,511.6 450,511.5 C452.5,511.3 455.5,512.2 458.5,514.2 C455.5,516.3 452.5,517.1 450,517 C448.2,516.9 447,516.7 445.8,516.7 C444.5,516.7 443.5,516.9 441.5,517 C439,517.1 436,516.3 433,514.2 Z" fill="#93b4d2" stroke="#2d6a9c" stroke-width="1.1"/>
<path d="M462.7,517.4 C466,516 470.5,513.5 474.5,511.2 C475.5,510.5 476.5,510.5 477.5,511.2 C481.5,513.5 486,516 488.3,517.4 C484,517.9 468,517.9 462.7,517.4 Z" fill="#f3b1b8" stroke="#d43a50" stroke-width="1.1"/>
<circle cx="476" cy="516.2" r="1.3" fill="#111"/><rect x="474" y="515.6" width="4" height="1" fill="#222"/><rect x="475.6" y="512.5" width="0.8" height="4" fill="#c03048"/>
<rect x="443.8" y="513.2" width="4" height="1.2" fill="#111"/><rect x="445.2" y="511.3" width="1.2" height="5" fill="#111"/>
<text x="388.60" y="532.80" font-size="8.40" text-anchor="end" fill="#d9466a" stroke="#d9466a" stroke-width="0.1" textLength="25.00" lengthAdjust="spacingAndGlyphs" transform="rotate(-50 388.60 532.80)">Vehicle</text>
<text x="419.40" y="532.50" font-size="8.40" text-anchor="end" fill="#5050a6" stroke="#5050a6" stroke-width="0.1" textLength="30.00" lengthAdjust="spacingAndGlyphs" transform="rotate(-50 419.40 532.50)">Ibrutinib</text>
<text x="428.50" y="540.80" font-size="8.40" text-anchor="end" fill="#5050a6" stroke="#5050a6" stroke-width="0.1" textLength="31.00" lengthAdjust="spacingAndGlyphs" transform="rotate(-50 428.50 540.80)">50mg/kg</text>
<text x="450.60" y="532.50" font-size="8.40" text-anchor="end" fill="#ae4a8a" stroke="#ae4a8a" stroke-width="0.1" textLength="32.00" lengthAdjust="spacingAndGlyphs" transform="rotate(-50 450.60 532.50)">KIN-8194</text>
<text x="458.40" y="540.80" font-size="8.40" text-anchor="end" fill="#ae4a8a" stroke="#ae4a8a" stroke-width="0.1" textLength="31.00" lengthAdjust="spacingAndGlyphs" transform="rotate(-50 458.40 540.80)">50mg/kg</text>
<text x="479.90" y="533.80" font-size="8.40" text-anchor="end" fill="#2c9a50" stroke="#2c9a50" stroke-width="0.1" textLength="32.00" lengthAdjust="spacingAndGlyphs" transform="rotate(-50 479.90 533.80)">KIN-8194</text>
<text x="487.00" y="542.40" font-size="8.40" text-anchor="end" fill="#2c9a50" stroke="#2c9a50" stroke-width="0.1" textLength="31.00" lengthAdjust="spacingAndGlyphs" transform="rotate(-50 487.00 542.40)">75mg/kg</text>
<text x="89.50" y="547.10" font-size="8.20" text-anchor="start" fill="#222" stroke="#222" stroke-width="0.1" textLength="71.50" lengthAdjust="spacingAndGlyphs">Survival proportions</text>
<line x1="55.40" y1="553.30" x2="55.40" y2="641.70" stroke="#151515" stroke-width="1.35"/>
<line x1="54.80" y1="641.10" x2="213.80" y2="641.10" stroke="#151515" stroke-width="1.35"/>
<line x1="52.20" y1="641.10" x2="55.40" y2="641.10" stroke="#222" stroke-width="1.1"/>
<text x="49.40" y="643.90" font-size="8.48" text-anchor="end" fill="#222" stroke="#222" stroke-width="0.22" textLength="4.60" lengthAdjust="spacingAndGlyphs">0</text>
<line x1="52.20" y1="621.10" x2="55.40" y2="621.10" stroke="#222" stroke-width="1.1"/>
<text x="49.40" y="623.90" font-size="8.48" text-anchor="end" fill="#222" stroke="#222" stroke-width="0.22" textLength="9.20" lengthAdjust="spacingAndGlyphs">25</text>
<line x1="52.20" y1="601.10" x2="55.40" y2="601.10" stroke="#222" stroke-width="1.1"/>
<text x="49.40" y="603.90" font-size="8.48" text-anchor="end" fill="#222" stroke="#222" stroke-width="0.22" textLength="9.20" lengthAdjust="spacingAndGlyphs">50</text>
<line x1="52.20" y1="581.10" x2="55.40" y2="581.10" stroke="#222" stroke-width="1.1"/>
<text x="49.40" y="583.90" font-size="8.48" text-anchor="end" fill="#222" stroke="#222" stroke-width="0.22" textLength="9.20" lengthAdjust="spacingAndGlyphs">75</text>
<line x1="52.20" y1="561.10" x2="55.40" y2="561.10" stroke="#222" stroke-width="1.1"/>
<text x="49.40" y="563.90" font-size="8.48" text-anchor="end" fill="#222" stroke="#222" stroke-width="0.22" textLength="12.50" lengthAdjust="spacingAndGlyphs">100</text>
<line x1="55.40" y1="641.10" x2="55.40" y2="644.10" stroke="#222" stroke-width="1.1"/>
<text x="55.40" y="653.90" font-size="8.48" text-anchor="middle" fill="#222" stroke="#222" stroke-width="0.22" textLength="4.60" lengthAdjust="spacingAndGlyphs">0</text>
<line x1="75.12" y1="641.10" x2="75.12" y2="644.10" stroke="#222" stroke-width="1.1"/>
<text x="75.12" y="653.90" font-size="8.48" text-anchor="middle" fill="#222" stroke="#222" stroke-width="0.22" textLength="9.20" lengthAdjust="spacingAndGlyphs">14</text>
<line x1="94.84" y1="641.10" x2="94.84" y2="644.10" stroke="#222" stroke-width="1.1"/>
<text x="94.84" y="653.90" font-size="8.48" text-anchor="middle" fill="#222" stroke="#222" stroke-width="0.22" textLength="9.20" lengthAdjust="spacingAndGlyphs">28</text>
<line x1="114.56" y1="641.10" x2="114.56" y2="644.10" stroke="#222" stroke-width="1.1"/>
<text x="114.56" y="653.90" font-size="8.48" text-anchor="middle" fill="#222" stroke="#222" stroke-width="0.22" textLength="9.20" lengthAdjust="spacingAndGlyphs">42</text>
<line x1="134.28" y1="641.10" x2="134.28" y2="644.10" stroke="#222" stroke-width="1.1"/>
<text x="134.28" y="653.90" font-size="8.48" text-anchor="middle" fill="#222" stroke="#222" stroke-width="0.22" textLength="9.20" lengthAdjust="spacingAndGlyphs">56</text>
<line x1="154.00" y1="641.10" x2="154.00" y2="644.10" stroke="#222" stroke-width="1.1"/>
<text x="154.00" y="653.90" font-size="8.48" text-anchor="middle" fill="#222" stroke="#222" stroke-width="0.22" textLength="9.20" lengthAdjust="spacingAndGlyphs">70</text>
<line x1="173.72" y1="641.10" x2="173.72" y2="644.10" stroke="#222" stroke-width="1.1"/>
<text x="173.72" y="653.90" font-size="8.48" text-anchor="middle" fill="#222" stroke="#222" stroke-width="0.22" textLength="9.20" lengthAdjust="spacingAndGlyphs">84</text>
<line x1="193.44" y1="641.10" x2="193.44" y2="644.10" stroke="#222" stroke-width="1.1"/>
<text x="193.44" y="653.90" font-size="8.48" text-anchor="middle" fill="#222" stroke="#222" stroke-width="0.22" textLength="9.20" lengthAdjust="spacingAndGlyphs">98</text>
<line x1="213.16" y1="641.10" x2="213.16" y2="644.10" stroke="#222" stroke-width="1.1"/>
<text x="213.16" y="653.90" font-size="8.48" text-anchor="middle" fill="#222" stroke="#222" stroke-width="0.22" textLength="13.50" lengthAdjust="spacingAndGlyphs">112</text>
<text x="125.00" y="667.20" font-size="8.69" text-anchor="middle" fill="#222" stroke="#222" stroke-width="0.22" textLength="42.50" lengthAdjust="spacingAndGlyphs">Days elapsed</text>
<text x="32.20" y="595.50" font-size="8.48" text-anchor="middle" fill="#222" stroke="#222" stroke-width="0.22" textLength="52.40" lengthAdjust="spacingAndGlyphs" transform="rotate(-90 32.20 595.50)">Percent survival</text>
<path d="M76.60,561.50 L81.00,561.50 L81.00,571.10 L85.70,571.10 L85.70,581.20 L90.60,581.20 L90.60,591.40 L96.00,591.40 L96.00,621.20 L106.20,621.20 L106.20,631.20 L110.30,631.20 L110.30,641.10" fill="none" stroke="#c8102e" stroke-width="1.45" stroke-linejoin="miter"/>
<path d="M76.60,561.50 L85.20,561.50 L85.20,571.10 L135.40,571.10 L135.40,601.00 L142.70,601.00 L142.70,611.50 L150.80,611.50 L150.80,621.50 L151.50,621.50 L151.50,631.50 L162.30,631.50 L162.30,641.10" fill="none" stroke="#5a2a7e" stroke-width="1.45" stroke-linejoin="miter"/>
<path d="M76.60,561.50 L84.00,561.50 L84.00,571.10 L86.00,571.10 L86.00,591.40 L90.80,591.40 L90.80,611.30 L96.20,611.30 L96.20,631.20 L120.00,631.20 L120.00,641.10" fill="none" stroke="#0e4c84" stroke-width="1.45" stroke-linejoin="miter"/>
<path d="M55.40,561.50 L76.50,561.50 L76.50,581.20 L104.60,581.20 L104.60,591.30 L152.30,591.30 L152.30,601.00 L156.50,601.00 L156.50,611.50 L161.90,611.50 L161.90,621.50 L163.30,621.50 L163.30,631.20 L213.30,631.20" fill="none" stroke="#3cb44b" stroke-width="1.45" stroke-linejoin="miter"/>
<line x1="213.30" y1="629.00" x2="213.30" y2="631.20" stroke="#3cb44b" stroke-width="1.2"/>
<line x1="221.00" y1="563.10" x2="228.80" y2="563.10" stroke="#d0304f" stroke-width="1.2"/>
<line x1="224.90" y1="561.50" x2="224.90" y2="563.10" stroke="#d0304f" stroke-width="1"/>
<text x="232.00" y="566.20" font-size="7.90" text-anchor="start" fill="#d0304f" stroke="#d0304f" stroke-width="0.1" textLength="24.00" lengthAdjust="spacingAndGlyphs">Vehicle</text>
<line x1="221.00" y1="574.60" x2="228.80" y2="574.60" stroke="#2b5f9e" stroke-width="1.2"/>
<line x1="224.90" y1="573.00" x2="224.90" y2="574.60" stroke="#2b5f9e" stroke-width="1"/>
<text x="232.00" y="578.50" font-size="7.90" text-anchor="start" fill="#2b5f9e" stroke="#2b5f9e" stroke-width="0.1" textLength="28.00" lengthAdjust="spacingAndGlyphs">Ibrutinib</text>
<text x="232.00" y="587.70" font-size="7.90" text-anchor="start" fill="#2b5f9e" stroke="#2b5f9e" stroke-width="0.1" textLength="30.00" lengthAdjust="spacingAndGlyphs">50mg/kg</text>
<line x1="221.00" y1="598.90" x2="228.80" y2="598.90" stroke="#6b3a8e" stroke-width="1.2"/>
<line x1="224.90" y1="597.30" x2="224.90" y2="598.90" stroke="#6b3a8e" stroke-width="1"/>
<text x="232.00" y="602.30" font-size="7.90" text-anchor="start" fill="#6b3a8e" stroke="#6b3a8e" stroke-width="0.1" textLength="31.00" lengthAdjust="spacingAndGlyphs">KIN-8194</text>
<text x="232.00" y="611.50" font-size="7.90" text-anchor="start" fill="#6b3a8e" stroke="#6b3a8e" stroke-width="0.1" textLength="30.00" lengthAdjust="spacingAndGlyphs">50mg/kg</text>
<line x1="221.00" y1="620.50" x2="228.80" y2="620.50" stroke="#4cb050" stroke-width="1.2"/>
<line x1="224.90" y1="618.90" x2="224.90" y2="620.50" stroke="#4cb050" stroke-width="1"/>
<text x="232.00" y="623.80" font-size="7.90" text-anchor="start" fill="#4cb050" stroke="#4cb050" stroke-width="0.1" textLength="31.00" lengthAdjust="spacingAndGlyphs">KIN-8194</text>
<text x="232.00" y="633.10" font-size="7.90" text-anchor="start" fill="#4cb050" stroke="#4cb050" stroke-width="0.1" textLength="30.00" lengthAdjust="spacingAndGlyphs">75mg/kg</text>
<rect x="285.1" y="585.1" width="227.90" height="56.80" fill="none" stroke="#222" stroke-width="1.1"/>
<line x1="285.10" y1="619.40" x2="513.00" y2="619.40" stroke="#222" stroke-width="1.1"/>
<line x1="328.50" y1="585.10" x2="328.50" y2="641.90" stroke="#222" stroke-width="1.1"/>
<line x1="368.40" y1="585.10" x2="368.40" y2="641.90" stroke="#222" stroke-width="1.1"/>
<line x1="415.50" y1="585.10" x2="415.50" y2="641.90" stroke="#222" stroke-width="1.1"/>
<line x1="464.50" y1="585.10" x2="464.50" y2="641.90" stroke="#222" stroke-width="1.1"/>
<text x="307.00" y="599.90" font-size="8.20" text-anchor="middle" fill="#222" stroke="#222" stroke-width="0.15" textLength="26.00" lengthAdjust="spacingAndGlyphs">Median</text>
<text x="307.00" y="609.20" font-size="8.20" text-anchor="middle" fill="#222" stroke="#222" stroke-width="0.15" textLength="26.50" lengthAdjust="spacingAndGlyphs">survival</text>
<text x="348.50" y="604.50" font-size="8.20" text-anchor="middle" fill="#d0304f" stroke="#d0304f" stroke-width="0.15" textLength="25.50" lengthAdjust="spacingAndGlyphs">Vehicle</text>
<text x="392.00" y="600.00" font-size="8.20" text-anchor="middle" fill="#3d4fa0" stroke="#3d4fa0" stroke-width="0.15" textLength="26.00" lengthAdjust="spacingAndGlyphs">Ibrutinib</text>
<text x="392.00" y="609.50" font-size="8.20" text-anchor="middle" fill="#3d4fa0" stroke="#3d4fa0" stroke-width="0.15" textLength="28.00" lengthAdjust="spacingAndGlyphs">50mg/kg</text>
<text x="440.00" y="600.00" font-size="8.20" text-anchor="middle" fill="#a64d8a" stroke="#a64d8a" stroke-width="0.15" textLength="31.00" lengthAdjust="spacingAndGlyphs">KIN-8194</text>
<text x="440.00" y="609.50" font-size="8.20" text-anchor="middle" fill="#a64d8a" stroke="#a64d8a" stroke-width="0.15" textLength="28.00" lengthAdjust="spacingAndGlyphs">50mg/kg</text>
<text x="488.80" y="600.00" font-size="8.20" text-anchor="middle" fill="#2e9a52" stroke="#2e9a52" stroke-width="0.15" textLength="31.00" lengthAdjust="spacingAndGlyphs">KIN-8194</text>
<text x="488.80" y="609.50" font-size="8.20" text-anchor="middle" fill="#2e9a52" stroke="#2e9a52" stroke-width="0.15" textLength="28.00" lengthAdjust="spacingAndGlyphs">75mg/kg</text>
<text x="307.00" y="632.70" font-size="8.20" text-anchor="middle" fill="#222" stroke="#222" stroke-width="0.15" textLength="21.00" lengthAdjust="spacingAndGlyphs">(days)</text>
<text x="348.50" y="633.00" font-size="8.20" text-anchor="middle" fill="#d0304f" stroke="#d0304f" stroke-width="0.15" textLength="9.00" lengthAdjust="spacingAndGlyphs">29</text>
<text x="392.00" y="633.00" font-size="8.20" text-anchor="middle" fill="#3d4fa0" stroke="#3d4fa0" stroke-width="0.15" textLength="9.00" lengthAdjust="spacingAndGlyphs">25</text>
<text x="440.00" y="633.00" font-size="8.20" text-anchor="middle" fill="#a64d8a" stroke="#a64d8a" stroke-width="0.15" textLength="15.50" lengthAdjust="spacingAndGlyphs">57.5</text>
<text x="488.80" y="633.00" font-size="8.20" text-anchor="middle" fill="#2e9a52" stroke="#2e9a52" stroke-width="0.15" textLength="15.50" lengthAdjust="spacingAndGlyphs">70.5</text>
<text x="285.80" y="655.80" font-size="7.90" text-anchor="start" fill="#222" stroke="#222" stroke-width="0.1" textLength="136.70" lengthAdjust="spacingAndGlyphs">Log-rank (Mantel-Cox) test, <tspan font-style="italic">P</tspan> = 0.0007</text></g>
</svg></body></html>
